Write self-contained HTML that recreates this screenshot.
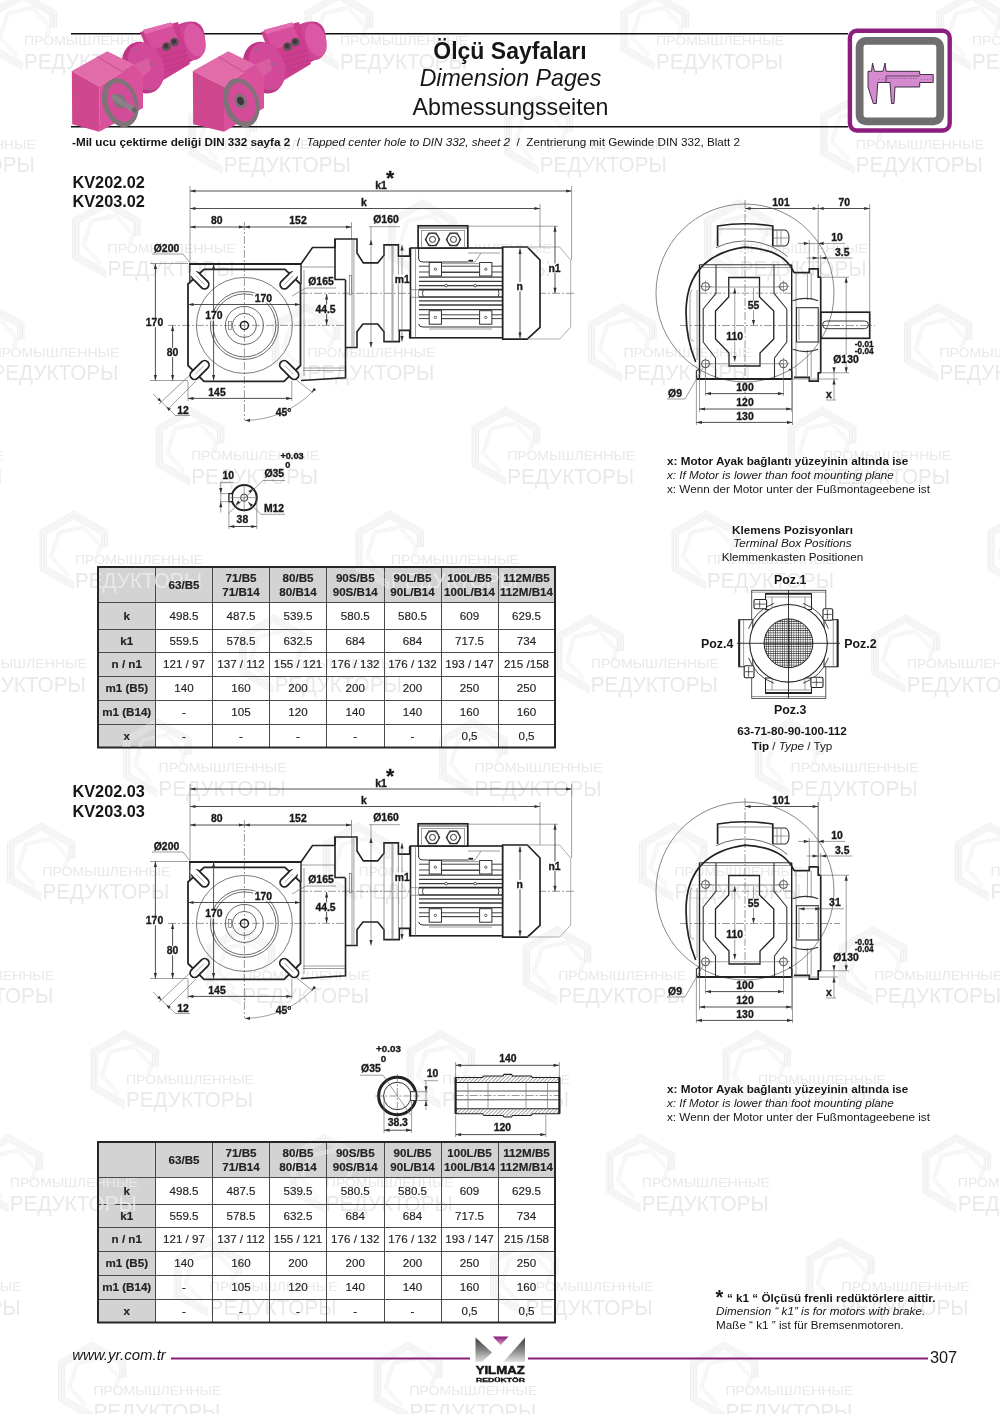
<!DOCTYPE html>
<html><head><meta charset="utf-8">
<style>
html,body{margin:0;padding:0;background:#fff;}
body{width:1000px;height:1414px;overflow:hidden;position:relative;}
svg{position:absolute;left:0;top:0;will-change:transform;}
text{font-family:"Liberation Sans",sans-serif;fill:#161616;}
.b{font-weight:bold;}
.dt{stroke:#222;stroke-width:0.35px;}
.i{font-style:italic;}
.d{font-weight:bold;font-size:10px;fill:#222;}
.ln{stroke:#3c3c3c;stroke-width:0.9;fill:none;}
.th{stroke:#222;stroke-width:2;fill:none;}
.tn{stroke:#6a6a6a;stroke-width:0.65;fill:none;}
.cl{stroke:#555;stroke-width:0.6;fill:none;stroke-dasharray:8 2 2 2;}
.tc{font-size:11.6px;text-anchor:middle;fill:#222;stroke:#222;stroke-width:0.15px;}
</style></head>
<body>
<svg width="1000" height="1414" viewBox="0 0 1000 1414">

<g><path d="M56.6 27.9 L56.6 11.5 L22.8 -8.0 L-11.0 11.5 L-11.0 50.5 L22.8 70.0M55.0 28.0 L55.0 12.4 L22.8 -6.2 L-9.4 12.4 L-9.4 49.6 L22.8 68.2M53.5 28.2 L53.5 13.3 L22.8 -4.4 L-7.9 13.3 L-7.9 48.7 L22.8 66.4M51.9 28.3 L51.9 14.2 L22.8 -2.6 L-6.3 14.2 L-6.3 47.8 L22.8 64.6M50.3 28.5 L50.3 15.1 L22.8 -0.8 L-4.7 15.1 L-4.7 46.9 L22.8 62.8" fill="none" stroke="#e8e8e8" stroke-width="0.8"/><path d="M47.7 37.2 L51.2 26.4 L33.1 6.3 L6.7 11.9 L-1.6 37.6 L16.5 57.7M46.3 36.8 L49.5 26.7 L32.6 7.9 L7.9 13.2 L0.1 37.3 L17.0 56.1M44.8 36.5 L47.9 27.1 L32.1 9.6 L9.0 14.5 L1.7 36.9 L17.5 54.4" fill="none" stroke="#ececec" stroke-width="0.7"/><text x="24.0" y="45.0" font-size="13.2" style="fill:#e9e9e9" textLength="128" lengthAdjust="spacingAndGlyphs">ПРОМЫШЛЕННЫЕ</text><text x="24.0" y="68.6" font-size="22" style="fill:#e9e9e9" textLength="127" lengthAdjust="spacingAndGlyphs">РЕДУКТОРЫ</text><path d="M372.6 27.9 L372.6 11.5 L338.8 -8.0 L305.0 11.5 L305.0 50.5 L338.8 70.0M371.0 28.0 L371.0 12.4 L338.8 -6.2 L306.6 12.4 L306.6 49.6 L338.8 68.2M369.5 28.2 L369.5 13.3 L338.8 -4.4 L308.1 13.3 L308.1 48.7 L338.8 66.4M367.9 28.3 L367.9 14.2 L338.8 -2.6 L309.7 14.2 L309.7 47.8 L338.8 64.6M366.3 28.5 L366.3 15.1 L338.8 -0.8 L311.3 15.1 L311.3 46.9 L338.8 62.8" fill="none" stroke="#e8e8e8" stroke-width="0.8"/><path d="M363.7 37.2 L367.2 26.4 L349.1 6.3 L322.7 11.9 L314.4 37.6 L332.5 57.7M362.3 36.8 L365.5 26.7 L348.6 7.9 L323.9 13.2 L316.1 37.3 L333.0 56.1M360.8 36.5 L363.9 27.1 L348.1 9.6 L325.0 14.5 L317.7 36.9 L333.5 54.4" fill="none" stroke="#ececec" stroke-width="0.7"/><text x="340.0" y="45.0" font-size="13.2" style="fill:#e9e9e9" textLength="128" lengthAdjust="spacingAndGlyphs">ПРОМЫШЛЕННЫЕ</text><text x="340.0" y="68.6" font-size="22" style="fill:#e9e9e9" textLength="127" lengthAdjust="spacingAndGlyphs">РЕДУКТОРЫ</text><path d="M688.6 27.9 L688.6 11.5 L654.8 -8.0 L621.0 11.5 L621.0 50.5 L654.8 70.0M687.0 28.0 L687.0 12.4 L654.8 -6.2 L622.6 12.4 L622.6 49.6 L654.8 68.2M685.5 28.2 L685.5 13.3 L654.8 -4.4 L624.1 13.3 L624.1 48.7 L654.8 66.4M683.9 28.3 L683.9 14.2 L654.8 -2.6 L625.7 14.2 L625.7 47.8 L654.8 64.6M682.3 28.5 L682.3 15.1 L654.8 -0.8 L627.3 15.1 L627.3 46.9 L654.8 62.8" fill="none" stroke="#e8e8e8" stroke-width="0.8"/><path d="M679.7 37.2 L683.2 26.4 L665.1 6.3 L638.7 11.9 L630.4 37.6 L648.5 57.7M678.3 36.8 L681.5 26.7 L664.6 7.9 L639.9 13.2 L632.1 37.3 L649.0 56.1M676.8 36.5 L679.9 27.1 L664.1 9.6 L641.0 14.5 L633.7 36.9 L649.5 54.4" fill="none" stroke="#ececec" stroke-width="0.7"/><text x="656.0" y="45.0" font-size="13.2" style="fill:#e9e9e9" textLength="128" lengthAdjust="spacingAndGlyphs">ПРОМЫШЛЕННЫЕ</text><text x="656.0" y="68.6" font-size="22" style="fill:#e9e9e9" textLength="127" lengthAdjust="spacingAndGlyphs">РЕДУКТОРЫ</text><path d="M1004.6 27.9 L1004.6 11.5 L970.8 -8.0 L937.0 11.5 L937.0 50.5 L970.8 70.0M1003.0 28.0 L1003.0 12.4 L970.8 -6.2 L938.6 12.4 L938.6 49.6 L970.8 68.2M1001.5 28.2 L1001.5 13.3 L970.8 -4.4 L940.1 13.3 L940.1 48.7 L970.8 66.4M999.9 28.3 L999.9 14.2 L970.8 -2.6 L941.7 14.2 L941.7 47.8 L970.8 64.6M998.3 28.5 L998.3 15.1 L970.8 -0.8 L943.3 15.1 L943.3 46.9 L970.8 62.8" fill="none" stroke="#e8e8e8" stroke-width="0.8"/><path d="M995.7 37.2 L999.2 26.4 L981.1 6.3 L954.7 11.9 L946.4 37.6 L964.5 57.7M994.3 36.8 L997.5 26.7 L980.6 7.9 L955.9 13.2 L948.1 37.3 L965.0 56.1M992.8 36.5 L995.9 27.1 L980.1 9.6 L957.0 14.5 L949.7 36.9 L965.5 54.4" fill="none" stroke="#ececec" stroke-width="0.7"/><text x="972.0" y="45.0" font-size="13.2" style="fill:#e9e9e9" textLength="128" lengthAdjust="spacingAndGlyphs">ПРОМЫШЛЕННЫЕ</text><text x="972.0" y="68.6" font-size="22" style="fill:#e9e9e9" textLength="127" lengthAdjust="spacingAndGlyphs">РЕДУКТОРЫ</text><path d="M-59.6 131.7 L-59.6 115.3 L-93.4 95.8 L-127.2 115.3 L-127.2 154.3 L-93.4 173.8M-61.2 131.9 L-61.2 116.2 L-93.4 97.6 L-125.6 116.2 L-125.6 153.4 L-93.4 172.1M-62.7 132.0 L-62.7 117.2 L-93.4 99.4 L-124.1 117.2 L-124.1 152.5 L-93.4 170.2M-64.3 132.2 L-64.3 118.0 L-93.4 101.2 L-122.5 118.0 L-122.5 151.6 L-93.4 168.4M-65.9 132.3 L-65.9 118.9 L-93.4 103.0 L-120.9 118.9 L-120.9 150.8 L-93.4 166.7" fill="none" stroke="#e8e8e8" stroke-width="0.8"/><path d="M-68.5 141.0 L-65.0 130.2 L-83.1 110.2 L-109.5 115.8 L-117.8 141.5 L-99.7 161.5M-69.9 140.7 L-66.7 130.6 L-83.6 111.8 L-108.3 117.0 L-116.1 141.1 L-99.2 159.9M-71.4 140.4 L-68.3 130.9 L-84.1 113.4 L-107.2 118.3 L-114.5 140.8 L-98.7 158.3" fill="none" stroke="#ececec" stroke-width="0.7"/><text x="-92.2" y="148.8" font-size="13.2" style="fill:#e9e9e9" textLength="128" lengthAdjust="spacingAndGlyphs">ПРОМЫШЛЕННЫЕ</text><text x="-92.2" y="172.4" font-size="22" style="fill:#e9e9e9" textLength="127" lengthAdjust="spacingAndGlyphs">РЕДУКТОРЫ</text><path d="M256.4 131.7 L256.4 115.3 L222.6 95.8 L188.8 115.3 L188.8 154.3 L222.6 173.8M254.8 131.9 L254.8 116.2 L222.6 97.6 L190.4 116.2 L190.4 153.4 L222.6 172.1M253.3 132.0 L253.3 117.2 L222.6 99.4 L191.9 117.2 L191.9 152.5 L222.6 170.2M251.7 132.2 L251.7 118.0 L222.6 101.2 L193.5 118.0 L193.5 151.6 L222.6 168.4M250.1 132.3 L250.1 118.9 L222.6 103.0 L195.1 118.9 L195.1 150.8 L222.6 166.7" fill="none" stroke="#e8e8e8" stroke-width="0.8"/><path d="M247.5 141.0 L251.0 130.2 L232.9 110.2 L206.5 115.8 L198.2 141.5 L216.3 161.5M246.1 140.7 L249.3 130.6 L232.4 111.8 L207.7 117.0 L199.9 141.1 L216.8 159.9M244.6 140.4 L247.7 130.9 L231.9 113.4 L208.8 118.3 L201.5 140.8 L217.3 158.3" fill="none" stroke="#ececec" stroke-width="0.7"/><text x="223.8" y="148.8" font-size="13.2" style="fill:#e9e9e9" textLength="128" lengthAdjust="spacingAndGlyphs">ПРОМЫШЛЕННЫЕ</text><text x="223.8" y="172.4" font-size="22" style="fill:#e9e9e9" textLength="127" lengthAdjust="spacingAndGlyphs">РЕДУКТОРЫ</text><path d="M572.4 131.7 L572.4 115.3 L538.6 95.8 L504.8 115.3 L504.8 154.3 L538.6 173.8M570.8 131.9 L570.8 116.2 L538.6 97.6 L506.4 116.2 L506.4 153.4 L538.6 172.1M569.3 132.0 L569.3 117.2 L538.6 99.4 L507.9 117.2 L507.9 152.5 L538.6 170.2M567.7 132.2 L567.7 118.0 L538.6 101.2 L509.5 118.0 L509.5 151.6 L538.6 168.4M566.1 132.3 L566.1 118.9 L538.6 103.0 L511.1 118.9 L511.1 150.8 L538.6 166.7" fill="none" stroke="#e8e8e8" stroke-width="0.8"/><path d="M563.5 141.0 L567.0 130.2 L548.9 110.2 L522.5 115.8 L514.2 141.5 L532.3 161.5M562.1 140.7 L565.3 130.6 L548.4 111.8 L523.7 117.0 L515.9 141.1 L532.8 159.9M560.6 140.4 L563.7 130.9 L547.9 113.4 L524.8 118.3 L517.5 140.8 L533.3 158.3" fill="none" stroke="#ececec" stroke-width="0.7"/><text x="539.8" y="148.8" font-size="13.2" style="fill:#e9e9e9" textLength="128" lengthAdjust="spacingAndGlyphs">ПРОМЫШЛЕННЫЕ</text><text x="539.8" y="172.4" font-size="22" style="fill:#e9e9e9" textLength="127" lengthAdjust="spacingAndGlyphs">РЕДУКТОРЫ</text><path d="M888.4 131.7 L888.4 115.3 L854.6 95.8 L820.8 115.3 L820.8 154.3 L854.6 173.8M886.8 131.9 L886.8 116.2 L854.6 97.6 L822.4 116.2 L822.4 153.4 L854.6 172.1M885.3 132.0 L885.3 117.2 L854.6 99.4 L823.9 117.2 L823.9 152.5 L854.6 170.2M883.7 132.2 L883.7 118.0 L854.6 101.2 L825.5 118.0 L825.5 151.6 L854.6 168.4M882.1 132.3 L882.1 118.9 L854.6 103.0 L827.1 118.9 L827.1 150.8 L854.6 166.7" fill="none" stroke="#e8e8e8" stroke-width="0.8"/><path d="M879.5 141.0 L883.0 130.2 L864.9 110.2 L838.5 115.8 L830.2 141.5 L848.3 161.5M878.1 140.7 L881.3 130.6 L864.4 111.8 L839.7 117.0 L831.9 141.1 L848.8 159.9M876.6 140.4 L879.7 130.9 L863.9 113.4 L840.8 118.3 L833.5 140.8 L849.3 158.3" fill="none" stroke="#ececec" stroke-width="0.7"/><text x="855.8" y="148.8" font-size="13.2" style="fill:#e9e9e9" textLength="128" lengthAdjust="spacingAndGlyphs">ПРОМЫШЛЕННЫЕ</text><text x="855.8" y="172.4" font-size="22" style="fill:#e9e9e9" textLength="127" lengthAdjust="spacingAndGlyphs">РЕДУКТОРЫ</text><path d="M140.2 235.6 L140.2 219.2 L106.4 199.7 L72.6 219.2 L72.6 258.2 L106.4 277.7M138.6 235.7 L138.6 220.1 L106.4 201.5 L74.2 220.1 L74.2 257.3 L106.4 275.9M137.1 235.9 L137.1 221.0 L106.4 203.3 L75.7 221.0 L75.7 256.4 L106.4 274.1M135.5 236.0 L135.5 221.9 L106.4 205.1 L77.3 221.9 L77.3 255.5 L106.4 272.3M133.9 236.2 L133.9 222.8 L106.4 206.9 L78.9 222.8 L78.9 254.6 L106.4 270.5" fill="none" stroke="#e8e8e8" stroke-width="0.8"/><path d="M131.3 244.9 L134.8 234.1 L116.7 214.0 L90.3 219.6 L82.0 245.3 L100.1 265.4M129.9 244.5 L133.1 234.4 L116.2 215.6 L91.5 220.9 L83.7 245.0 L100.6 263.8M128.4 244.2 L131.5 234.8 L115.7 217.3 L92.6 222.2 L85.3 244.6 L101.1 262.1" fill="none" stroke="#ececec" stroke-width="0.7"/><text x="107.6" y="252.7" font-size="13.2" style="fill:#e9e9e9" textLength="128" lengthAdjust="spacingAndGlyphs">ПРОМЫШЛЕННЫЕ</text><text x="107.6" y="276.3" font-size="22" style="fill:#e9e9e9" textLength="127" lengthAdjust="spacingAndGlyphs">РЕДУКТОРЫ</text><path d="M456.2 235.6 L456.2 219.2 L422.4 199.7 L388.6 219.2 L388.6 258.2 L422.4 277.7M454.6 235.7 L454.6 220.1 L422.4 201.5 L390.2 220.1 L390.2 257.3 L422.4 275.9M453.1 235.9 L453.1 221.0 L422.4 203.3 L391.7 221.0 L391.7 256.4 L422.4 274.1M451.5 236.0 L451.5 221.9 L422.4 205.1 L393.3 221.9 L393.3 255.5 L422.4 272.3M449.9 236.2 L449.9 222.8 L422.4 206.9 L394.9 222.8 L394.9 254.6 L422.4 270.5" fill="none" stroke="#e8e8e8" stroke-width="0.8"/><path d="M447.3 244.9 L450.8 234.1 L432.7 214.0 L406.3 219.6 L398.0 245.3 L416.1 265.4M445.9 244.5 L449.1 234.4 L432.2 215.6 L407.5 220.9 L399.7 245.0 L416.6 263.8M444.4 244.2 L447.5 234.8 L431.7 217.3 L408.6 222.2 L401.3 244.6 L417.1 262.1" fill="none" stroke="#ececec" stroke-width="0.7"/><text x="423.6" y="252.7" font-size="13.2" style="fill:#e9e9e9" textLength="128" lengthAdjust="spacingAndGlyphs">ПРОМЫШЛЕННЫЕ</text><text x="423.6" y="276.3" font-size="22" style="fill:#e9e9e9" textLength="127" lengthAdjust="spacingAndGlyphs">РЕДУКТОРЫ</text><path d="M772.2 235.6 L772.2 219.2 L738.4 199.7 L704.6 219.2 L704.6 258.2 L738.4 277.7M770.6 235.7 L770.6 220.1 L738.4 201.5 L706.2 220.1 L706.2 257.3 L738.4 275.9M769.1 235.9 L769.1 221.0 L738.4 203.3 L707.7 221.0 L707.7 256.4 L738.4 274.1M767.5 236.0 L767.5 221.9 L738.4 205.1 L709.3 221.9 L709.3 255.5 L738.4 272.3M765.9 236.2 L765.9 222.8 L738.4 206.9 L710.9 222.8 L710.9 254.6 L738.4 270.5" fill="none" stroke="#e8e8e8" stroke-width="0.8"/><path d="M763.3 244.9 L766.8 234.1 L748.7 214.0 L722.3 219.6 L714.0 245.3 L732.1 265.4M761.9 244.5 L765.1 234.4 L748.2 215.6 L723.5 220.9 L715.7 245.0 L732.6 263.8M760.4 244.2 L763.5 234.8 L747.7 217.3 L724.6 222.2 L717.3 244.6 L733.1 262.1" fill="none" stroke="#ececec" stroke-width="0.7"/><text x="739.6" y="252.7" font-size="13.2" style="fill:#e9e9e9" textLength="128" lengthAdjust="spacingAndGlyphs">ПРОМЫШЛЕННЫЕ</text><text x="739.6" y="276.3" font-size="22" style="fill:#e9e9e9" textLength="127" lengthAdjust="spacingAndGlyphs">РЕДУКТОРЫ</text><path d="M24.0 339.4 L24.0 323.0 L-9.8 303.5 L-43.6 323.0 L-43.6 362.0 L-9.8 381.5M22.4 339.6 L22.4 323.9 L-9.8 305.3 L-42.0 323.9 L-42.0 361.1 L-9.8 379.7M20.9 339.7 L20.9 324.8 L-9.8 307.1 L-40.5 324.8 L-40.5 360.2 L-9.8 377.9M19.3 339.9 L19.3 325.7 L-9.8 308.9 L-38.9 325.7 L-38.9 359.3 L-9.8 376.1M17.7 340.0 L17.7 326.6 L-9.8 310.7 L-37.3 326.6 L-37.3 358.4 L-9.8 374.3" fill="none" stroke="#e8e8e8" stroke-width="0.8"/><path d="M15.1 348.7 L18.6 337.9 L0.5 317.9 L-25.9 323.5 L-34.2 349.2 L-16.1 369.2M13.7 348.4 L16.9 338.3 L0.0 319.5 L-24.7 324.7 L-32.5 348.8 L-15.6 367.6M12.2 348.1 L15.3 338.6 L-0.5 321.1 L-23.6 326.0 L-30.9 348.5 L-15.1 366.0" fill="none" stroke="#ececec" stroke-width="0.7"/><text x="-8.6" y="356.5" font-size="13.2" style="fill:#e9e9e9" textLength="128" lengthAdjust="spacingAndGlyphs">ПРОМЫШЛЕННЫЕ</text><text x="-8.6" y="380.1" font-size="22" style="fill:#e9e9e9" textLength="127" lengthAdjust="spacingAndGlyphs">РЕДУКТОРЫ</text><path d="M340.0 339.4 L340.0 323.0 L306.2 303.5 L272.4 323.0 L272.4 362.0 L306.2 381.5M338.4 339.6 L338.4 323.9 L306.2 305.3 L274.0 323.9 L274.0 361.1 L306.2 379.7M336.9 339.7 L336.9 324.8 L306.2 307.1 L275.5 324.8 L275.5 360.2 L306.2 377.9M335.3 339.9 L335.3 325.7 L306.2 308.9 L277.1 325.7 L277.1 359.3 L306.2 376.1M333.7 340.0 L333.7 326.6 L306.2 310.7 L278.7 326.6 L278.7 358.4 L306.2 374.3" fill="none" stroke="#e8e8e8" stroke-width="0.8"/><path d="M331.1 348.7 L334.6 337.9 L316.5 317.9 L290.1 323.5 L281.8 349.2 L299.9 369.2M329.7 348.4 L332.9 338.3 L316.0 319.5 L291.3 324.7 L283.5 348.8 L300.4 367.6M328.2 348.1 L331.3 338.6 L315.5 321.1 L292.4 326.0 L285.1 348.5 L300.9 366.0" fill="none" stroke="#ececec" stroke-width="0.7"/><text x="307.4" y="356.5" font-size="13.2" style="fill:#e9e9e9" textLength="128" lengthAdjust="spacingAndGlyphs">ПРОМЫШЛЕННЫЕ</text><text x="307.4" y="380.1" font-size="22" style="fill:#e9e9e9" textLength="127" lengthAdjust="spacingAndGlyphs">РЕДУКТОРЫ</text><path d="M656.0 339.4 L656.0 323.0 L622.2 303.5 L588.4 323.0 L588.4 362.0 L622.2 381.5M654.4 339.6 L654.4 323.9 L622.2 305.3 L590.0 323.9 L590.0 361.1 L622.2 379.7M652.9 339.7 L652.9 324.8 L622.2 307.1 L591.5 324.8 L591.5 360.2 L622.2 377.9M651.3 339.9 L651.3 325.7 L622.2 308.9 L593.1 325.7 L593.1 359.3 L622.2 376.1M649.7 340.0 L649.7 326.6 L622.2 310.7 L594.7 326.6 L594.7 358.4 L622.2 374.3" fill="none" stroke="#e8e8e8" stroke-width="0.8"/><path d="M647.1 348.7 L650.6 337.9 L632.5 317.9 L606.1 323.5 L597.8 349.2 L615.9 369.2M645.7 348.4 L648.9 338.3 L632.0 319.5 L607.3 324.7 L599.5 348.8 L616.4 367.6M644.2 348.1 L647.3 338.6 L631.5 321.1 L608.4 326.0 L601.1 348.5 L616.9 366.0" fill="none" stroke="#ececec" stroke-width="0.7"/><text x="623.4" y="356.5" font-size="13.2" style="fill:#e9e9e9" textLength="128" lengthAdjust="spacingAndGlyphs">ПРОМЫШЛЕННЫЕ</text><text x="623.4" y="380.1" font-size="22" style="fill:#e9e9e9" textLength="127" lengthAdjust="spacingAndGlyphs">РЕДУКТОРЫ</text><path d="M972.0 339.4 L972.0 323.0 L938.2 303.5 L904.4 323.0 L904.4 362.0 L938.2 381.5M970.4 339.6 L970.4 323.9 L938.2 305.3 L906.0 323.9 L906.0 361.1 L938.2 379.7M968.9 339.7 L968.9 324.8 L938.2 307.1 L907.5 324.8 L907.5 360.2 L938.2 377.9M967.3 339.9 L967.3 325.7 L938.2 308.9 L909.1 325.7 L909.1 359.3 L938.2 376.1M965.7 340.0 L965.7 326.6 L938.2 310.7 L910.7 326.6 L910.7 358.4 L938.2 374.3" fill="none" stroke="#e8e8e8" stroke-width="0.8"/><path d="M963.1 348.7 L966.6 337.9 L948.5 317.9 L922.1 323.5 L913.8 349.2 L931.9 369.2M961.7 348.4 L964.9 338.3 L948.0 319.5 L923.3 324.7 L915.5 348.8 L932.4 367.6M960.2 348.1 L963.3 338.6 L947.5 321.1 L924.4 326.0 L917.1 348.5 L932.9 366.0" fill="none" stroke="#ececec" stroke-width="0.7"/><text x="939.4" y="356.5" font-size="13.2" style="fill:#e9e9e9" textLength="128" lengthAdjust="spacingAndGlyphs">ПРОМЫШЛЕННЫЕ</text><text x="939.4" y="380.1" font-size="22" style="fill:#e9e9e9" textLength="127" lengthAdjust="spacingAndGlyphs">РЕДУКТОРЫ</text><path d="M-92.2 443.3 L-92.2 426.9 L-126.0 407.4 L-159.8 426.9 L-159.8 465.9 L-126.0 485.4M-93.8 443.4 L-93.8 427.8 L-126.0 409.2 L-158.2 427.8 L-158.2 465.0 L-126.0 483.6M-95.3 443.6 L-95.3 428.7 L-126.0 411.0 L-156.7 428.7 L-156.7 464.1 L-126.0 481.8M-96.9 443.7 L-96.9 429.6 L-126.0 412.8 L-155.1 429.6 L-155.1 463.2 L-126.0 480.0M-98.5 443.9 L-98.5 430.5 L-126.0 414.6 L-153.5 430.5 L-153.5 462.3 L-126.0 478.2" fill="none" stroke="#e8e8e8" stroke-width="0.8"/><path d="M-101.1 452.6 L-97.6 441.8 L-115.7 421.7 L-142.1 427.3 L-150.4 453.0 L-132.3 473.1M-102.5 452.2 L-99.3 442.1 L-116.2 423.3 L-140.9 428.6 L-148.7 452.7 L-131.8 471.5M-104.0 451.9 L-100.9 442.5 L-116.7 425.0 L-139.8 429.9 L-147.1 452.3 L-131.3 469.8" fill="none" stroke="#ececec" stroke-width="0.7"/><text x="-124.8" y="460.4" font-size="13.2" style="fill:#e9e9e9" textLength="128" lengthAdjust="spacingAndGlyphs">ПРОМЫШЛЕННЫЕ</text><text x="-124.8" y="484.0" font-size="22" style="fill:#e9e9e9" textLength="127" lengthAdjust="spacingAndGlyphs">РЕДУКТОРЫ</text><path d="M223.8 443.3 L223.8 426.9 L190.0 407.4 L156.2 426.9 L156.2 465.9 L190.0 485.4M222.2 443.4 L222.2 427.8 L190.0 409.2 L157.8 427.8 L157.8 465.0 L190.0 483.6M220.7 443.6 L220.7 428.7 L190.0 411.0 L159.3 428.7 L159.3 464.1 L190.0 481.8M219.1 443.7 L219.1 429.6 L190.0 412.8 L160.9 429.6 L160.9 463.2 L190.0 480.0M217.5 443.9 L217.5 430.5 L190.0 414.6 L162.5 430.5 L162.5 462.3 L190.0 478.2" fill="none" stroke="#e8e8e8" stroke-width="0.8"/><path d="M214.9 452.6 L218.4 441.8 L200.3 421.7 L173.9 427.3 L165.6 453.0 L183.7 473.1M213.5 452.2 L216.7 442.1 L199.8 423.3 L175.1 428.6 L167.3 452.7 L184.2 471.5M212.0 451.9 L215.1 442.5 L199.3 425.0 L176.2 429.9 L168.9 452.3 L184.7 469.8" fill="none" stroke="#ececec" stroke-width="0.7"/><text x="191.2" y="460.4" font-size="13.2" style="fill:#e9e9e9" textLength="128" lengthAdjust="spacingAndGlyphs">ПРОМЫШЛЕННЫЕ</text><text x="191.2" y="484.0" font-size="22" style="fill:#e9e9e9" textLength="127" lengthAdjust="spacingAndGlyphs">РЕДУКТОРЫ</text><path d="M539.8 443.3 L539.8 426.9 L506.0 407.4 L472.2 426.9 L472.2 465.9 L506.0 485.4M538.2 443.4 L538.2 427.8 L506.0 409.2 L473.8 427.8 L473.8 465.0 L506.0 483.6M536.7 443.6 L536.7 428.7 L506.0 411.0 L475.3 428.7 L475.3 464.1 L506.0 481.8M535.1 443.7 L535.1 429.6 L506.0 412.8 L476.9 429.6 L476.9 463.2 L506.0 480.0M533.5 443.9 L533.5 430.5 L506.0 414.6 L478.5 430.5 L478.5 462.3 L506.0 478.2" fill="none" stroke="#e8e8e8" stroke-width="0.8"/><path d="M530.9 452.6 L534.4 441.8 L516.3 421.7 L489.9 427.3 L481.6 453.0 L499.7 473.1M529.5 452.2 L532.7 442.1 L515.8 423.3 L491.1 428.6 L483.3 452.7 L500.2 471.5M528.0 451.9 L531.1 442.5 L515.3 425.0 L492.2 429.9 L484.9 452.3 L500.7 469.8" fill="none" stroke="#ececec" stroke-width="0.7"/><text x="507.2" y="460.4" font-size="13.2" style="fill:#e9e9e9" textLength="128" lengthAdjust="spacingAndGlyphs">ПРОМЫШЛЕННЫЕ</text><text x="507.2" y="484.0" font-size="22" style="fill:#e9e9e9" textLength="127" lengthAdjust="spacingAndGlyphs">РЕДУКТОРЫ</text><path d="M855.8 443.3 L855.8 426.9 L822.0 407.4 L788.2 426.9 L788.2 465.9 L822.0 485.4M854.2 443.4 L854.2 427.8 L822.0 409.2 L789.8 427.8 L789.8 465.0 L822.0 483.6M852.7 443.6 L852.7 428.7 L822.0 411.0 L791.3 428.7 L791.3 464.1 L822.0 481.8M851.1 443.7 L851.1 429.6 L822.0 412.8 L792.9 429.6 L792.9 463.2 L822.0 480.0M849.5 443.9 L849.5 430.5 L822.0 414.6 L794.5 430.5 L794.5 462.3 L822.0 478.2" fill="none" stroke="#e8e8e8" stroke-width="0.8"/><path d="M846.9 452.6 L850.4 441.8 L832.3 421.7 L805.9 427.3 L797.6 453.0 L815.7 473.1M845.5 452.2 L848.7 442.1 L831.8 423.3 L807.1 428.6 L799.3 452.7 L816.2 471.5M844.0 451.9 L847.1 442.5 L831.3 425.0 L808.2 429.9 L800.9 452.3 L816.7 469.8" fill="none" stroke="#ececec" stroke-width="0.7"/><text x="823.2" y="460.4" font-size="13.2" style="fill:#e9e9e9" textLength="128" lengthAdjust="spacingAndGlyphs">ПРОМЫШЛЕННЫЕ</text><text x="823.2" y="484.0" font-size="22" style="fill:#e9e9e9" textLength="127" lengthAdjust="spacingAndGlyphs">РЕДУКТОРЫ</text><path d="M107.6 547.1 L107.6 530.8 L73.8 511.2 L40.0 530.8 L40.0 569.8 L73.8 589.2M106.0 547.3 L106.0 531.6 L73.8 513.0 L41.6 531.6 L41.6 568.9 L73.8 587.5M104.5 547.4 L104.5 532.5 L73.8 514.9 L43.1 532.5 L43.1 568.0 L73.8 585.6M102.9 547.6 L102.9 533.5 L73.8 516.6 L44.7 533.5 L44.7 567.0 L73.8 583.9M101.3 547.7 L101.3 534.4 L73.8 518.5 L46.3 534.4 L46.3 566.1 L73.8 582.0" fill="none" stroke="#e8e8e8" stroke-width="0.8"/><path d="M98.7 556.4 L102.2 545.6 L84.1 525.6 L57.7 531.2 L49.4 556.9 L67.5 576.9M97.3 556.1 L100.5 546.0 L83.6 527.2 L58.9 532.4 L51.1 556.5 L68.0 575.3M95.8 555.8 L98.9 546.3 L83.1 528.8 L60.0 533.7 L52.7 556.2 L68.5 573.7" fill="none" stroke="#ececec" stroke-width="0.7"/><text x="75.0" y="564.2" font-size="13.2" style="fill:#e9e9e9" textLength="128" lengthAdjust="spacingAndGlyphs">ПРОМЫШЛЕННЫЕ</text><text x="75.0" y="587.9" font-size="22" style="fill:#e9e9e9" textLength="127" lengthAdjust="spacingAndGlyphs">РЕДУКТОРЫ</text><path d="M423.6 547.1 L423.6 530.8 L389.8 511.2 L356.0 530.8 L356.0 569.8 L389.8 589.2M422.0 547.3 L422.0 531.6 L389.8 513.0 L357.6 531.6 L357.6 568.9 L389.8 587.5M420.5 547.4 L420.5 532.5 L389.8 514.9 L359.1 532.5 L359.1 568.0 L389.8 585.6M418.9 547.6 L418.9 533.5 L389.8 516.6 L360.7 533.5 L360.7 567.0 L389.8 583.9M417.3 547.7 L417.3 534.4 L389.8 518.5 L362.3 534.4 L362.3 566.1 L389.8 582.0" fill="none" stroke="#e8e8e8" stroke-width="0.8"/><path d="M414.7 556.4 L418.2 545.6 L400.1 525.6 L373.7 531.2 L365.4 556.9 L383.5 576.9M413.3 556.1 L416.5 546.0 L399.6 527.2 L374.9 532.4 L367.1 556.5 L384.0 575.3M411.8 555.8 L414.9 546.3 L399.1 528.8 L376.0 533.7 L368.7 556.2 L384.5 573.7" fill="none" stroke="#ececec" stroke-width="0.7"/><text x="391.0" y="564.2" font-size="13.2" style="fill:#e9e9e9" textLength="128" lengthAdjust="spacingAndGlyphs">ПРОМЫШЛЕННЫЕ</text><text x="391.0" y="587.9" font-size="22" style="fill:#e9e9e9" textLength="127" lengthAdjust="spacingAndGlyphs">РЕДУКТОРЫ</text><path d="M739.6 547.1 L739.6 530.8 L705.8 511.2 L672.0 530.8 L672.0 569.8 L705.8 589.2M738.0 547.3 L738.0 531.6 L705.8 513.0 L673.6 531.6 L673.6 568.9 L705.8 587.5M736.5 547.4 L736.5 532.5 L705.8 514.9 L675.1 532.5 L675.1 568.0 L705.8 585.6M734.9 547.6 L734.9 533.5 L705.8 516.6 L676.7 533.5 L676.7 567.0 L705.8 583.9M733.3 547.7 L733.3 534.4 L705.8 518.5 L678.3 534.4 L678.3 566.1 L705.8 582.0" fill="none" stroke="#e8e8e8" stroke-width="0.8"/><path d="M730.7 556.4 L734.2 545.6 L716.1 525.6 L689.7 531.2 L681.4 556.9 L699.5 576.9M729.3 556.1 L732.5 546.0 L715.6 527.2 L690.9 532.4 L683.1 556.5 L700.0 575.3M727.8 555.8 L730.9 546.3 L715.1 528.8 L692.0 533.7 L684.7 556.2 L700.5 573.7" fill="none" stroke="#ececec" stroke-width="0.7"/><text x="707.0" y="564.2" font-size="13.2" style="fill:#e9e9e9" textLength="128" lengthAdjust="spacingAndGlyphs">ПРОМЫШЛЕННЫЕ</text><text x="707.0" y="587.9" font-size="22" style="fill:#e9e9e9" textLength="127" lengthAdjust="spacingAndGlyphs">РЕДУКТОРЫ</text><path d="M1055.6 547.1 L1055.6 530.8 L1021.8 511.2 L988.0 530.8 L988.0 569.8 L1021.8 589.2M1054.0 547.3 L1054.0 531.6 L1021.8 513.0 L989.6 531.6 L989.6 568.9 L1021.8 587.5M1052.5 547.4 L1052.5 532.5 L1021.8 514.9 L991.1 532.5 L991.1 568.0 L1021.8 585.6M1050.9 547.6 L1050.9 533.5 L1021.8 516.6 L992.7 533.5 L992.7 567.0 L1021.8 583.9M1049.3 547.7 L1049.3 534.4 L1021.8 518.5 L994.3 534.4 L994.3 566.1 L1021.8 582.0" fill="none" stroke="#e8e8e8" stroke-width="0.8"/><path d="M1046.7 556.4 L1050.2 545.6 L1032.1 525.6 L1005.7 531.2 L997.4 556.9 L1015.5 576.9M1045.3 556.1 L1048.5 546.0 L1031.6 527.2 L1006.9 532.4 L999.1 556.5 L1016.0 575.3M1043.8 555.8 L1046.9 546.3 L1031.1 528.8 L1008.0 533.7 L1000.7 556.2 L1016.5 573.7" fill="none" stroke="#ececec" stroke-width="0.7"/><text x="1023.0" y="564.2" font-size="13.2" style="fill:#e9e9e9" textLength="128" lengthAdjust="spacingAndGlyphs">ПРОМЫШЛЕННЫЕ</text><text x="1023.0" y="587.9" font-size="22" style="fill:#e9e9e9" textLength="127" lengthAdjust="spacingAndGlyphs">РЕДУКТОРЫ</text><path d="M-8.6 651.0 L-8.6 634.6 L-42.4 615.1 L-76.2 634.6 L-76.2 673.6 L-42.4 693.1M-10.2 651.1 L-10.2 635.5 L-42.4 616.9 L-74.6 635.5 L-74.6 672.7 L-42.4 691.3M-11.7 651.3 L-11.7 636.4 L-42.4 618.7 L-73.1 636.4 L-73.1 671.8 L-42.4 689.5M-13.3 651.4 L-13.3 637.3 L-42.4 620.5 L-71.5 637.3 L-71.5 670.9 L-42.4 687.7M-14.9 651.6 L-14.9 638.2 L-42.4 622.3 L-69.9 638.2 L-69.9 670.0 L-42.4 685.9" fill="none" stroke="#e8e8e8" stroke-width="0.8"/><path d="M-17.5 660.3 L-14.0 649.5 L-32.1 629.4 L-58.5 635.0 L-66.8 660.7 L-48.7 680.8M-18.9 659.9 L-15.7 649.8 L-32.6 631.0 L-57.3 636.3 L-65.1 660.4 L-48.2 679.2M-20.4 659.6 L-17.3 650.2 L-33.1 632.7 L-56.2 637.6 L-63.5 660.0 L-47.7 677.5" fill="none" stroke="#ececec" stroke-width="0.7"/><text x="-41.2" y="668.1" font-size="13.2" style="fill:#e9e9e9" textLength="128" lengthAdjust="spacingAndGlyphs">ПРОМЫШЛЕННЫЕ</text><text x="-41.2" y="691.7" font-size="22" style="fill:#e9e9e9" textLength="127" lengthAdjust="spacingAndGlyphs">РЕДУКТОРЫ</text><path d="M307.4 651.0 L307.4 634.6 L273.6 615.1 L239.8 634.6 L239.8 673.6 L273.6 693.1M305.8 651.1 L305.8 635.5 L273.6 616.9 L241.4 635.5 L241.4 672.7 L273.6 691.3M304.3 651.3 L304.3 636.4 L273.6 618.7 L242.9 636.4 L242.9 671.8 L273.6 689.5M302.7 651.4 L302.7 637.3 L273.6 620.5 L244.5 637.3 L244.5 670.9 L273.6 687.7M301.1 651.6 L301.1 638.2 L273.6 622.3 L246.1 638.2 L246.1 670.0 L273.6 685.9" fill="none" stroke="#e8e8e8" stroke-width="0.8"/><path d="M298.5 660.3 L302.0 649.5 L283.9 629.4 L257.5 635.0 L249.2 660.7 L267.3 680.8M297.1 659.9 L300.3 649.8 L283.4 631.0 L258.7 636.3 L250.9 660.4 L267.8 679.2M295.6 659.6 L298.7 650.2 L282.9 632.7 L259.8 637.6 L252.5 660.0 L268.3 677.5" fill="none" stroke="#ececec" stroke-width="0.7"/><text x="274.8" y="668.1" font-size="13.2" style="fill:#e9e9e9" textLength="128" lengthAdjust="spacingAndGlyphs">ПРОМЫШЛЕННЫЕ</text><text x="274.8" y="691.7" font-size="22" style="fill:#e9e9e9" textLength="127" lengthAdjust="spacingAndGlyphs">РЕДУКТОРЫ</text><path d="M623.4 651.0 L623.4 634.6 L589.6 615.1 L555.8 634.6 L555.8 673.6 L589.6 693.1M621.8 651.1 L621.8 635.5 L589.6 616.9 L557.4 635.5 L557.4 672.7 L589.6 691.3M620.3 651.3 L620.3 636.4 L589.6 618.7 L558.9 636.4 L558.9 671.8 L589.6 689.5M618.7 651.4 L618.7 637.3 L589.6 620.5 L560.5 637.3 L560.5 670.9 L589.6 687.7M617.1 651.6 L617.1 638.2 L589.6 622.3 L562.1 638.2 L562.1 670.0 L589.6 685.9" fill="none" stroke="#e8e8e8" stroke-width="0.8"/><path d="M614.5 660.3 L618.0 649.5 L599.9 629.4 L573.5 635.0 L565.2 660.7 L583.3 680.8M613.1 659.9 L616.3 649.8 L599.4 631.0 L574.7 636.3 L566.9 660.4 L583.8 679.2M611.6 659.6 L614.7 650.2 L598.9 632.7 L575.8 637.6 L568.5 660.0 L584.3 677.5" fill="none" stroke="#ececec" stroke-width="0.7"/><text x="590.8" y="668.1" font-size="13.2" style="fill:#e9e9e9" textLength="128" lengthAdjust="spacingAndGlyphs">ПРОМЫШЛЕННЫЕ</text><text x="590.8" y="691.7" font-size="22" style="fill:#e9e9e9" textLength="127" lengthAdjust="spacingAndGlyphs">РЕДУКТОРЫ</text><path d="M939.4 651.0 L939.4 634.6 L905.6 615.1 L871.8 634.6 L871.8 673.6 L905.6 693.1M937.8 651.1 L937.8 635.5 L905.6 616.9 L873.4 635.5 L873.4 672.7 L905.6 691.3M936.3 651.3 L936.3 636.4 L905.6 618.7 L874.9 636.4 L874.9 671.8 L905.6 689.5M934.7 651.4 L934.7 637.3 L905.6 620.5 L876.5 637.3 L876.5 670.9 L905.6 687.7M933.1 651.6 L933.1 638.2 L905.6 622.3 L878.1 638.2 L878.1 670.0 L905.6 685.9" fill="none" stroke="#e8e8e8" stroke-width="0.8"/><path d="M930.5 660.3 L934.0 649.5 L915.9 629.4 L889.5 635.0 L881.2 660.7 L899.3 680.8M929.1 659.9 L932.3 649.8 L915.4 631.0 L890.7 636.3 L882.9 660.4 L899.8 679.2M927.6 659.6 L930.7 650.2 L914.9 632.7 L891.8 637.6 L884.5 660.0 L900.3 677.5" fill="none" stroke="#ececec" stroke-width="0.7"/><text x="906.8" y="668.1" font-size="13.2" style="fill:#e9e9e9" textLength="128" lengthAdjust="spacingAndGlyphs">ПРОМЫШЛЕННЫЕ</text><text x="906.8" y="691.7" font-size="22" style="fill:#e9e9e9" textLength="127" lengthAdjust="spacingAndGlyphs">РЕДУКТОРЫ</text><path d="M-124.8 754.8 L-124.8 738.4 L-158.6 718.9 L-192.4 738.4 L-192.4 777.4 L-158.6 796.9M-126.4 755.0 L-126.4 739.3 L-158.6 720.7 L-190.8 739.3 L-190.8 776.5 L-158.6 795.1M-127.9 755.1 L-127.9 740.2 L-158.6 722.5 L-189.3 740.2 L-189.3 775.6 L-158.6 793.3M-129.5 755.3 L-129.5 741.1 L-158.6 724.3 L-187.7 741.1 L-187.7 774.7 L-158.6 791.5M-131.1 755.4 L-131.1 742.0 L-158.6 726.1 L-186.1 742.0 L-186.1 773.8 L-158.6 789.7" fill="none" stroke="#e8e8e8" stroke-width="0.8"/><path d="M-133.7 764.1 L-130.2 753.3 L-148.3 733.3 L-174.7 738.9 L-183.0 764.6 L-164.9 784.6M-135.1 763.8 L-131.9 753.7 L-148.8 734.9 L-173.5 740.1 L-181.3 764.2 L-164.4 783.0M-136.6 763.5 L-133.5 754.0 L-149.3 736.5 L-172.4 741.4 L-179.7 763.9 L-163.9 781.4" fill="none" stroke="#ececec" stroke-width="0.7"/><text x="-157.4" y="771.9" font-size="13.2" style="fill:#e9e9e9" textLength="128" lengthAdjust="spacingAndGlyphs">ПРОМЫШЛЕННЫЕ</text><text x="-157.4" y="795.5" font-size="22" style="fill:#e9e9e9" textLength="127" lengthAdjust="spacingAndGlyphs">РЕДУКТОРЫ</text><path d="M191.2 754.8 L191.2 738.4 L157.4 718.9 L123.6 738.4 L123.6 777.4 L157.4 796.9M189.6 755.0 L189.6 739.3 L157.4 720.7 L125.2 739.3 L125.2 776.5 L157.4 795.1M188.1 755.1 L188.1 740.2 L157.4 722.5 L126.7 740.2 L126.7 775.6 L157.4 793.3M186.5 755.3 L186.5 741.1 L157.4 724.3 L128.3 741.1 L128.3 774.7 L157.4 791.5M184.9 755.4 L184.9 742.0 L157.4 726.1 L129.9 742.0 L129.9 773.8 L157.4 789.7" fill="none" stroke="#e8e8e8" stroke-width="0.8"/><path d="M182.3 764.1 L185.8 753.3 L167.7 733.3 L141.3 738.9 L133.0 764.6 L151.1 784.6M180.9 763.8 L184.1 753.7 L167.2 734.9 L142.5 740.1 L134.7 764.2 L151.6 783.0M179.4 763.5 L182.5 754.0 L166.7 736.5 L143.6 741.4 L136.3 763.9 L152.1 781.4" fill="none" stroke="#ececec" stroke-width="0.7"/><text x="158.6" y="771.9" font-size="13.2" style="fill:#e9e9e9" textLength="128" lengthAdjust="spacingAndGlyphs">ПРОМЫШЛЕННЫЕ</text><text x="158.6" y="795.5" font-size="22" style="fill:#e9e9e9" textLength="127" lengthAdjust="spacingAndGlyphs">РЕДУКТОРЫ</text><path d="M507.2 754.8 L507.2 738.4 L473.4 718.9 L439.6 738.4 L439.6 777.4 L473.4 796.9M505.6 755.0 L505.6 739.3 L473.4 720.7 L441.2 739.3 L441.2 776.5 L473.4 795.1M504.1 755.1 L504.1 740.2 L473.4 722.5 L442.7 740.2 L442.7 775.6 L473.4 793.3M502.5 755.3 L502.5 741.1 L473.4 724.3 L444.3 741.1 L444.3 774.7 L473.4 791.5M500.9 755.4 L500.9 742.0 L473.4 726.1 L445.9 742.0 L445.9 773.8 L473.4 789.7" fill="none" stroke="#e8e8e8" stroke-width="0.8"/><path d="M498.3 764.1 L501.8 753.3 L483.7 733.3 L457.3 738.9 L449.0 764.6 L467.1 784.6M496.9 763.8 L500.1 753.7 L483.2 734.9 L458.5 740.1 L450.7 764.2 L467.6 783.0M495.4 763.5 L498.5 754.0 L482.7 736.5 L459.6 741.4 L452.3 763.9 L468.1 781.4" fill="none" stroke="#ececec" stroke-width="0.7"/><text x="474.6" y="771.9" font-size="13.2" style="fill:#e9e9e9" textLength="128" lengthAdjust="spacingAndGlyphs">ПРОМЫШЛЕННЫЕ</text><text x="474.6" y="795.5" font-size="22" style="fill:#e9e9e9" textLength="127" lengthAdjust="spacingAndGlyphs">РЕДУКТОРЫ</text><path d="M823.2 754.8 L823.2 738.4 L789.4 718.9 L755.6 738.4 L755.6 777.4 L789.4 796.9M821.6 755.0 L821.6 739.3 L789.4 720.7 L757.2 739.3 L757.2 776.5 L789.4 795.1M820.1 755.1 L820.1 740.2 L789.4 722.5 L758.7 740.2 L758.7 775.6 L789.4 793.3M818.5 755.3 L818.5 741.1 L789.4 724.3 L760.3 741.1 L760.3 774.7 L789.4 791.5M816.9 755.4 L816.9 742.0 L789.4 726.1 L761.9 742.0 L761.9 773.8 L789.4 789.7" fill="none" stroke="#e8e8e8" stroke-width="0.8"/><path d="M814.3 764.1 L817.8 753.3 L799.7 733.3 L773.3 738.9 L765.0 764.6 L783.1 784.6M812.9 763.8 L816.1 753.7 L799.2 734.9 L774.5 740.1 L766.7 764.2 L783.6 783.0M811.4 763.5 L814.5 754.0 L798.7 736.5 L775.6 741.4 L768.3 763.9 L784.1 781.4" fill="none" stroke="#ececec" stroke-width="0.7"/><text x="790.6" y="771.9" font-size="13.2" style="fill:#e9e9e9" textLength="128" lengthAdjust="spacingAndGlyphs">ПРОМЫШЛЕННЫЕ</text><text x="790.6" y="795.5" font-size="22" style="fill:#e9e9e9" textLength="127" lengthAdjust="spacingAndGlyphs">РЕДУКТОРЫ</text><path d="M75.0 858.7 L75.0 842.3 L41.2 822.8 L7.4 842.3 L7.4 881.3 L41.2 900.8M73.4 858.8 L73.4 843.2 L41.2 824.6 L9.0 843.2 L9.0 880.4 L41.2 899.0M71.9 859.0 L71.9 844.1 L41.2 826.4 L10.5 844.1 L10.5 879.5 L41.2 897.2M70.3 859.1 L70.3 845.0 L41.2 828.2 L12.1 845.0 L12.1 878.6 L41.2 895.4M68.7 859.3 L68.7 845.9 L41.2 830.0 L13.7 845.9 L13.7 877.7 L41.2 893.6" fill="none" stroke="#e8e8e8" stroke-width="0.8"/><path d="M66.1 868.0 L69.6 857.2 L51.5 837.1 L25.1 842.7 L16.8 868.4 L34.9 888.5M64.7 867.6 L67.9 857.5 L51.0 838.7 L26.3 844.0 L18.5 868.1 L35.4 886.9M63.2 867.3 L66.3 857.9 L50.5 840.4 L27.4 845.3 L20.1 867.7 L35.9 885.2" fill="none" stroke="#ececec" stroke-width="0.7"/><text x="42.4" y="875.8" font-size="13.2" style="fill:#e9e9e9" textLength="128" lengthAdjust="spacingAndGlyphs">ПРОМЫШЛЕННЫЕ</text><text x="42.4" y="899.4" font-size="22" style="fill:#e9e9e9" textLength="127" lengthAdjust="spacingAndGlyphs">РЕДУКТОРЫ</text><path d="M391.0 858.7 L391.0 842.3 L357.2 822.8 L323.4 842.3 L323.4 881.3 L357.2 900.8M389.4 858.8 L389.4 843.2 L357.2 824.6 L325.0 843.2 L325.0 880.4 L357.2 899.0M387.9 859.0 L387.9 844.1 L357.2 826.4 L326.5 844.1 L326.5 879.5 L357.2 897.2M386.3 859.1 L386.3 845.0 L357.2 828.2 L328.1 845.0 L328.1 878.6 L357.2 895.4M384.7 859.3 L384.7 845.9 L357.2 830.0 L329.7 845.9 L329.7 877.7 L357.2 893.6" fill="none" stroke="#e8e8e8" stroke-width="0.8"/><path d="M382.1 868.0 L385.6 857.2 L367.5 837.1 L341.1 842.7 L332.8 868.4 L350.9 888.5M380.7 867.6 L383.9 857.5 L367.0 838.7 L342.3 844.0 L334.5 868.1 L351.4 886.9M379.2 867.3 L382.3 857.9 L366.5 840.4 L343.4 845.3 L336.1 867.7 L351.9 885.2" fill="none" stroke="#ececec" stroke-width="0.7"/><text x="358.4" y="875.8" font-size="13.2" style="fill:#e9e9e9" textLength="128" lengthAdjust="spacingAndGlyphs">ПРОМЫШЛЕННЫЕ</text><text x="358.4" y="899.4" font-size="22" style="fill:#e9e9e9" textLength="127" lengthAdjust="spacingAndGlyphs">РЕДУКТОРЫ</text><path d="M707.0 858.7 L707.0 842.3 L673.2 822.8 L639.4 842.3 L639.4 881.3 L673.2 900.8M705.4 858.8 L705.4 843.2 L673.2 824.6 L641.0 843.2 L641.0 880.4 L673.2 899.0M703.9 859.0 L703.9 844.1 L673.2 826.4 L642.5 844.1 L642.5 879.5 L673.2 897.2M702.3 859.1 L702.3 845.0 L673.2 828.2 L644.1 845.0 L644.1 878.6 L673.2 895.4M700.7 859.3 L700.7 845.9 L673.2 830.0 L645.7 845.9 L645.7 877.7 L673.2 893.6" fill="none" stroke="#e8e8e8" stroke-width="0.8"/><path d="M698.1 868.0 L701.6 857.2 L683.5 837.1 L657.1 842.7 L648.8 868.4 L666.9 888.5M696.7 867.6 L699.9 857.5 L683.0 838.7 L658.3 844.0 L650.5 868.1 L667.4 886.9M695.2 867.3 L698.3 857.9 L682.5 840.4 L659.4 845.3 L652.1 867.7 L667.9 885.2" fill="none" stroke="#ececec" stroke-width="0.7"/><text x="674.4" y="875.8" font-size="13.2" style="fill:#e9e9e9" textLength="128" lengthAdjust="spacingAndGlyphs">ПРОМЫШЛЕННЫЕ</text><text x="674.4" y="899.4" font-size="22" style="fill:#e9e9e9" textLength="127" lengthAdjust="spacingAndGlyphs">РЕДУКТОРЫ</text><path d="M1023.0 858.7 L1023.0 842.3 L989.2 822.8 L955.4 842.3 L955.4 881.3 L989.2 900.8M1021.4 858.8 L1021.4 843.2 L989.2 824.6 L957.0 843.2 L957.0 880.4 L989.2 899.0M1019.9 859.0 L1019.9 844.1 L989.2 826.4 L958.5 844.1 L958.5 879.5 L989.2 897.2M1018.3 859.1 L1018.3 845.0 L989.2 828.2 L960.1 845.0 L960.1 878.6 L989.2 895.4M1016.7 859.3 L1016.7 845.9 L989.2 830.0 L961.7 845.9 L961.7 877.7 L989.2 893.6" fill="none" stroke="#e8e8e8" stroke-width="0.8"/><path d="M1014.1 868.0 L1017.6 857.2 L999.5 837.1 L973.1 842.7 L964.8 868.4 L982.9 888.5M1012.7 867.6 L1015.9 857.5 L999.0 838.7 L974.3 844.0 L966.5 868.1 L983.4 886.9M1011.2 867.3 L1014.3 857.9 L998.5 840.4 L975.4 845.3 L968.1 867.7 L983.9 885.2" fill="none" stroke="#ececec" stroke-width="0.7"/><text x="990.4" y="875.8" font-size="13.2" style="fill:#e9e9e9" textLength="128" lengthAdjust="spacingAndGlyphs">ПРОМЫШЛЕННЫЕ</text><text x="990.4" y="899.4" font-size="22" style="fill:#e9e9e9" textLength="127" lengthAdjust="spacingAndGlyphs">РЕДУКТОРЫ</text><path d="M-41.2 962.5 L-41.2 946.1 L-75.0 926.6 L-108.8 946.1 L-108.8 985.1 L-75.0 1004.6M-42.8 962.7 L-42.8 947.0 L-75.0 928.4 L-107.2 947.0 L-107.2 984.2 L-75.0 1002.9M-44.3 962.8 L-44.3 947.9 L-75.0 930.2 L-105.7 947.9 L-105.7 983.4 L-75.0 1001.0M-45.9 963.0 L-45.9 948.9 L-75.0 932.0 L-104.1 948.9 L-104.1 982.4 L-75.0 999.2M-47.5 963.1 L-47.5 949.8 L-75.0 933.9 L-102.5 949.8 L-102.5 981.5 L-75.0 997.4" fill="none" stroke="#e8e8e8" stroke-width="0.8"/><path d="M-50.1 971.8 L-46.6 961.0 L-64.7 941.0 L-91.1 946.6 L-99.4 972.3 L-81.3 992.3M-51.5 971.5 L-48.3 961.4 L-65.2 942.6 L-89.9 947.8 L-97.7 971.9 L-80.8 990.7M-53.0 971.2 L-49.9 961.7 L-65.7 944.2 L-88.8 949.1 L-96.1 971.6 L-80.3 989.1" fill="none" stroke="#ececec" stroke-width="0.7"/><text x="-73.8" y="979.6" font-size="13.2" style="fill:#e9e9e9" textLength="128" lengthAdjust="spacingAndGlyphs">ПРОМЫШЛЕННЫЕ</text><text x="-73.8" y="1003.2" font-size="22" style="fill:#e9e9e9" textLength="127" lengthAdjust="spacingAndGlyphs">РЕДУКТОРЫ</text><path d="M274.8 962.5 L274.8 946.1 L241.0 926.6 L207.2 946.1 L207.2 985.1 L241.0 1004.6M273.2 962.7 L273.2 947.0 L241.0 928.4 L208.8 947.0 L208.8 984.2 L241.0 1002.9M271.7 962.8 L271.7 947.9 L241.0 930.2 L210.3 947.9 L210.3 983.4 L241.0 1001.0M270.1 963.0 L270.1 948.9 L241.0 932.0 L211.9 948.9 L211.9 982.4 L241.0 999.2M268.5 963.1 L268.5 949.8 L241.0 933.9 L213.5 949.8 L213.5 981.5 L241.0 997.4" fill="none" stroke="#e8e8e8" stroke-width="0.8"/><path d="M265.9 971.8 L269.4 961.0 L251.3 941.0 L224.9 946.6 L216.6 972.3 L234.7 992.3M264.5 971.5 L267.7 961.4 L250.8 942.6 L226.1 947.8 L218.3 971.9 L235.2 990.7M263.0 971.2 L266.1 961.7 L250.3 944.2 L227.2 949.1 L219.9 971.6 L235.7 989.1" fill="none" stroke="#ececec" stroke-width="0.7"/><text x="242.2" y="979.6" font-size="13.2" style="fill:#e9e9e9" textLength="128" lengthAdjust="spacingAndGlyphs">ПРОМЫШЛЕННЫЕ</text><text x="242.2" y="1003.2" font-size="22" style="fill:#e9e9e9" textLength="127" lengthAdjust="spacingAndGlyphs">РЕДУКТОРЫ</text><path d="M590.8 962.5 L590.8 946.1 L557.0 926.6 L523.2 946.1 L523.2 985.1 L557.0 1004.6M589.2 962.7 L589.2 947.0 L557.0 928.4 L524.8 947.0 L524.8 984.2 L557.0 1002.9M587.7 962.8 L587.7 947.9 L557.0 930.2 L526.3 947.9 L526.3 983.4 L557.0 1001.0M586.1 963.0 L586.1 948.9 L557.0 932.0 L527.9 948.9 L527.9 982.4 L557.0 999.2M584.5 963.1 L584.5 949.8 L557.0 933.9 L529.5 949.8 L529.5 981.5 L557.0 997.4" fill="none" stroke="#e8e8e8" stroke-width="0.8"/><path d="M581.9 971.8 L585.4 961.0 L567.3 941.0 L540.9 946.6 L532.6 972.3 L550.7 992.3M580.5 971.5 L583.7 961.4 L566.8 942.6 L542.1 947.8 L534.3 971.9 L551.2 990.7M579.0 971.2 L582.1 961.7 L566.3 944.2 L543.2 949.1 L535.9 971.6 L551.7 989.1" fill="none" stroke="#ececec" stroke-width="0.7"/><text x="558.2" y="979.6" font-size="13.2" style="fill:#e9e9e9" textLength="128" lengthAdjust="spacingAndGlyphs">ПРОМЫШЛЕННЫЕ</text><text x="558.2" y="1003.2" font-size="22" style="fill:#e9e9e9" textLength="127" lengthAdjust="spacingAndGlyphs">РЕДУКТОРЫ</text><path d="M906.8 962.5 L906.8 946.1 L873.0 926.6 L839.2 946.1 L839.2 985.1 L873.0 1004.6M905.2 962.7 L905.2 947.0 L873.0 928.4 L840.8 947.0 L840.8 984.2 L873.0 1002.9M903.7 962.8 L903.7 947.9 L873.0 930.2 L842.3 947.9 L842.3 983.4 L873.0 1001.0M902.1 963.0 L902.1 948.9 L873.0 932.0 L843.9 948.9 L843.9 982.4 L873.0 999.2M900.5 963.1 L900.5 949.8 L873.0 933.9 L845.5 949.8 L845.5 981.5 L873.0 997.4" fill="none" stroke="#e8e8e8" stroke-width="0.8"/><path d="M897.9 971.8 L901.4 961.0 L883.3 941.0 L856.9 946.6 L848.6 972.3 L866.7 992.3M896.5 971.5 L899.7 961.4 L882.8 942.6 L858.1 947.8 L850.3 971.9 L867.2 990.7M895.0 971.2 L898.1 961.7 L882.3 944.2 L859.2 949.1 L851.9 971.6 L867.7 989.1" fill="none" stroke="#ececec" stroke-width="0.7"/><text x="874.2" y="979.6" font-size="13.2" style="fill:#e9e9e9" textLength="128" lengthAdjust="spacingAndGlyphs">ПРОМЫШЛЕННЫЕ</text><text x="874.2" y="1003.2" font-size="22" style="fill:#e9e9e9" textLength="127" lengthAdjust="spacingAndGlyphs">РЕДУКТОРЫ</text><path d="M-157.4 1066.4 L-157.4 1050.0 L-191.2 1030.5 L-225.0 1050.0 L-225.0 1089.0 L-191.2 1108.5M-159.0 1066.5 L-159.0 1050.9 L-191.2 1032.3 L-223.4 1050.9 L-223.4 1088.1 L-191.2 1106.7M-160.5 1066.7 L-160.5 1051.8 L-191.2 1034.1 L-221.9 1051.8 L-221.9 1087.2 L-191.2 1104.9M-162.1 1066.8 L-162.1 1052.7 L-191.2 1035.9 L-220.3 1052.7 L-220.3 1086.3 L-191.2 1103.1M-163.7 1067.0 L-163.7 1053.6 L-191.2 1037.7 L-218.7 1053.6 L-218.7 1085.4 L-191.2 1101.3" fill="none" stroke="#e8e8e8" stroke-width="0.8"/><path d="M-166.3 1075.7 L-162.8 1064.9 L-180.9 1044.8 L-207.3 1050.4 L-215.6 1076.1 L-197.5 1096.2M-167.7 1075.3 L-164.5 1065.2 L-181.4 1046.4 L-206.1 1051.7 L-213.9 1075.8 L-197.0 1094.6M-169.2 1075.0 L-166.1 1065.6 L-181.9 1048.1 L-205.0 1053.0 L-212.3 1075.4 L-196.5 1092.9" fill="none" stroke="#ececec" stroke-width="0.7"/><text x="-190.0" y="1083.5" font-size="13.2" style="fill:#e9e9e9" textLength="128" lengthAdjust="spacingAndGlyphs">ПРОМЫШЛЕННЫЕ</text><text x="-190.0" y="1107.1" font-size="22" style="fill:#e9e9e9" textLength="127" lengthAdjust="spacingAndGlyphs">РЕДУКТОРЫ</text><path d="M158.6 1066.4 L158.6 1050.0 L124.8 1030.5 L91.0 1050.0 L91.0 1089.0 L124.8 1108.5M157.0 1066.5 L157.0 1050.9 L124.8 1032.3 L92.6 1050.9 L92.6 1088.1 L124.8 1106.7M155.5 1066.7 L155.5 1051.8 L124.8 1034.1 L94.1 1051.8 L94.1 1087.2 L124.8 1104.9M153.9 1066.8 L153.9 1052.7 L124.8 1035.9 L95.7 1052.7 L95.7 1086.3 L124.8 1103.1M152.3 1067.0 L152.3 1053.6 L124.8 1037.7 L97.3 1053.6 L97.3 1085.4 L124.8 1101.3" fill="none" stroke="#e8e8e8" stroke-width="0.8"/><path d="M149.7 1075.7 L153.2 1064.9 L135.1 1044.8 L108.7 1050.4 L100.4 1076.1 L118.5 1096.2M148.3 1075.3 L151.5 1065.2 L134.6 1046.4 L109.9 1051.7 L102.1 1075.8 L119.0 1094.6M146.8 1075.0 L149.9 1065.6 L134.1 1048.1 L111.0 1053.0 L103.7 1075.4 L119.5 1092.9" fill="none" stroke="#ececec" stroke-width="0.7"/><text x="126.0" y="1083.5" font-size="13.2" style="fill:#e9e9e9" textLength="128" lengthAdjust="spacingAndGlyphs">ПРОМЫШЛЕННЫЕ</text><text x="126.0" y="1107.1" font-size="22" style="fill:#e9e9e9" textLength="127" lengthAdjust="spacingAndGlyphs">РЕДУКТОРЫ</text><path d="M474.6 1066.4 L474.6 1050.0 L440.8 1030.5 L407.0 1050.0 L407.0 1089.0 L440.8 1108.5M473.0 1066.5 L473.0 1050.9 L440.8 1032.3 L408.6 1050.9 L408.6 1088.1 L440.8 1106.7M471.5 1066.7 L471.5 1051.8 L440.8 1034.1 L410.1 1051.8 L410.1 1087.2 L440.8 1104.9M469.9 1066.8 L469.9 1052.7 L440.8 1035.9 L411.7 1052.7 L411.7 1086.3 L440.8 1103.1M468.3 1067.0 L468.3 1053.6 L440.8 1037.7 L413.3 1053.6 L413.3 1085.4 L440.8 1101.3" fill="none" stroke="#e8e8e8" stroke-width="0.8"/><path d="M465.7 1075.7 L469.2 1064.9 L451.1 1044.8 L424.7 1050.4 L416.4 1076.1 L434.5 1096.2M464.3 1075.3 L467.5 1065.2 L450.6 1046.4 L425.9 1051.7 L418.1 1075.8 L435.0 1094.6M462.8 1075.0 L465.9 1065.6 L450.1 1048.1 L427.0 1053.0 L419.7 1075.4 L435.5 1092.9" fill="none" stroke="#ececec" stroke-width="0.7"/><text x="442.0" y="1083.5" font-size="13.2" style="fill:#e9e9e9" textLength="128" lengthAdjust="spacingAndGlyphs">ПРОМЫШЛЕННЫЕ</text><text x="442.0" y="1107.1" font-size="22" style="fill:#e9e9e9" textLength="127" lengthAdjust="spacingAndGlyphs">РЕДУКТОРЫ</text><path d="M790.6 1066.4 L790.6 1050.0 L756.8 1030.5 L723.0 1050.0 L723.0 1089.0 L756.8 1108.5M789.0 1066.5 L789.0 1050.9 L756.8 1032.3 L724.6 1050.9 L724.6 1088.1 L756.8 1106.7M787.5 1066.7 L787.5 1051.8 L756.8 1034.1 L726.1 1051.8 L726.1 1087.2 L756.8 1104.9M785.9 1066.8 L785.9 1052.7 L756.8 1035.9 L727.7 1052.7 L727.7 1086.3 L756.8 1103.1M784.3 1067.0 L784.3 1053.6 L756.8 1037.7 L729.3 1053.6 L729.3 1085.4 L756.8 1101.3" fill="none" stroke="#e8e8e8" stroke-width="0.8"/><path d="M781.7 1075.7 L785.2 1064.9 L767.1 1044.8 L740.7 1050.4 L732.4 1076.1 L750.5 1096.2M780.3 1075.3 L783.5 1065.2 L766.6 1046.4 L741.9 1051.7 L734.1 1075.8 L751.0 1094.6M778.8 1075.0 L781.9 1065.6 L766.1 1048.1 L743.0 1053.0 L735.7 1075.4 L751.5 1092.9" fill="none" stroke="#ececec" stroke-width="0.7"/><text x="758.0" y="1083.5" font-size="13.2" style="fill:#e9e9e9" textLength="128" lengthAdjust="spacingAndGlyphs">ПРОМЫШЛЕННЫЕ</text><text x="758.0" y="1107.1" font-size="22" style="fill:#e9e9e9" textLength="127" lengthAdjust="spacingAndGlyphs">РЕДУКТОРЫ</text><path d="M42.4 1170.2 L42.4 1153.8 L8.6 1134.3 L-25.2 1153.8 L-25.2 1192.8 L8.6 1212.3M40.8 1170.4 L40.8 1154.8 L8.6 1136.1 L-23.6 1154.8 L-23.6 1191.9 L8.6 1210.5M39.3 1170.5 L39.3 1155.6 L8.6 1137.9 L-22.1 1155.6 L-22.1 1191.0 L8.6 1208.8M37.7 1170.7 L37.7 1156.5 L8.6 1139.8 L-20.5 1156.5 L-20.5 1190.1 L8.6 1206.9M36.1 1170.8 L36.1 1157.4 L8.6 1141.5 L-18.9 1157.4 L-18.9 1189.2 L8.6 1205.1" fill="none" stroke="#e8e8e8" stroke-width="0.8"/><path d="M33.5 1179.5 L37.0 1168.7 L18.9 1148.7 L-7.5 1154.3 L-15.8 1180.0 L2.3 1200.0M32.1 1179.2 L35.3 1169.1 L18.4 1150.3 L-6.3 1155.5 L-14.1 1179.6 L2.8 1198.4M30.6 1178.9 L33.7 1169.4 L17.9 1151.9 L-5.2 1156.8 L-12.5 1179.3 L3.3 1196.8" fill="none" stroke="#ececec" stroke-width="0.7"/><text x="9.8" y="1187.3" font-size="13.2" style="fill:#e9e9e9" textLength="128" lengthAdjust="spacingAndGlyphs">ПРОМЫШЛЕННЫЕ</text><text x="9.8" y="1210.9" font-size="22" style="fill:#e9e9e9" textLength="127" lengthAdjust="spacingAndGlyphs">РЕДУКТОРЫ</text><path d="M358.4 1170.2 L358.4 1153.8 L324.6 1134.3 L290.8 1153.8 L290.8 1192.8 L324.6 1212.3M356.8 1170.4 L356.8 1154.8 L324.6 1136.1 L292.4 1154.8 L292.4 1191.9 L324.6 1210.5M355.3 1170.5 L355.3 1155.6 L324.6 1137.9 L293.9 1155.6 L293.9 1191.0 L324.6 1208.8M353.7 1170.7 L353.7 1156.5 L324.6 1139.8 L295.5 1156.5 L295.5 1190.1 L324.6 1206.9M352.1 1170.8 L352.1 1157.4 L324.6 1141.5 L297.1 1157.4 L297.1 1189.2 L324.6 1205.1" fill="none" stroke="#e8e8e8" stroke-width="0.8"/><path d="M349.5 1179.5 L353.0 1168.7 L334.9 1148.7 L308.5 1154.3 L300.2 1180.0 L318.3 1200.0M348.1 1179.2 L351.3 1169.1 L334.4 1150.3 L309.7 1155.5 L301.9 1179.6 L318.8 1198.4M346.6 1178.9 L349.7 1169.4 L333.9 1151.9 L310.8 1156.8 L303.5 1179.3 L319.3 1196.8" fill="none" stroke="#ececec" stroke-width="0.7"/><text x="325.8" y="1187.3" font-size="13.2" style="fill:#e9e9e9" textLength="128" lengthAdjust="spacingAndGlyphs">ПРОМЫШЛЕННЫЕ</text><text x="325.8" y="1210.9" font-size="22" style="fill:#e9e9e9" textLength="127" lengthAdjust="spacingAndGlyphs">РЕДУКТОРЫ</text><path d="M674.4 1170.2 L674.4 1153.8 L640.6 1134.3 L606.8 1153.8 L606.8 1192.8 L640.6 1212.3M672.8 1170.4 L672.8 1154.8 L640.6 1136.1 L608.4 1154.8 L608.4 1191.9 L640.6 1210.5M671.3 1170.5 L671.3 1155.6 L640.6 1137.9 L609.9 1155.6 L609.9 1191.0 L640.6 1208.8M669.7 1170.7 L669.7 1156.5 L640.6 1139.8 L611.5 1156.5 L611.5 1190.1 L640.6 1206.9M668.1 1170.8 L668.1 1157.4 L640.6 1141.5 L613.1 1157.4 L613.1 1189.2 L640.6 1205.1" fill="none" stroke="#e8e8e8" stroke-width="0.8"/><path d="M665.5 1179.5 L669.0 1168.7 L650.9 1148.7 L624.5 1154.3 L616.2 1180.0 L634.3 1200.0M664.1 1179.2 L667.3 1169.1 L650.4 1150.3 L625.7 1155.5 L617.9 1179.6 L634.8 1198.4M662.6 1178.9 L665.7 1169.4 L649.9 1151.9 L626.8 1156.8 L619.5 1179.3 L635.3 1196.8" fill="none" stroke="#ececec" stroke-width="0.7"/><text x="641.8" y="1187.3" font-size="13.2" style="fill:#e9e9e9" textLength="128" lengthAdjust="spacingAndGlyphs">ПРОМЫШЛЕННЫЕ</text><text x="641.8" y="1210.9" font-size="22" style="fill:#e9e9e9" textLength="127" lengthAdjust="spacingAndGlyphs">РЕДУКТОРЫ</text><path d="M990.4 1170.2 L990.4 1153.8 L956.6 1134.3 L922.8 1153.8 L922.8 1192.8 L956.6 1212.3M988.8 1170.4 L988.8 1154.8 L956.6 1136.1 L924.4 1154.8 L924.4 1191.9 L956.6 1210.5M987.3 1170.5 L987.3 1155.6 L956.6 1137.9 L925.9 1155.6 L925.9 1191.0 L956.6 1208.8M985.7 1170.7 L985.7 1156.5 L956.6 1139.8 L927.5 1156.5 L927.5 1190.1 L956.6 1206.9M984.1 1170.8 L984.1 1157.4 L956.6 1141.5 L929.1 1157.4 L929.1 1189.2 L956.6 1205.1" fill="none" stroke="#e8e8e8" stroke-width="0.8"/><path d="M981.5 1179.5 L985.0 1168.7 L966.9 1148.7 L940.5 1154.3 L932.2 1180.0 L950.3 1200.0M980.1 1179.2 L983.3 1169.1 L966.4 1150.3 L941.7 1155.5 L933.9 1179.6 L950.8 1198.4M978.6 1178.9 L981.7 1169.4 L965.9 1151.9 L942.8 1156.8 L935.5 1179.3 L951.3 1196.8" fill="none" stroke="#ececec" stroke-width="0.7"/><text x="957.8" y="1187.3" font-size="13.2" style="fill:#e9e9e9" textLength="128" lengthAdjust="spacingAndGlyphs">ПРОМЫШЛЕННЫЕ</text><text x="957.8" y="1210.9" font-size="22" style="fill:#e9e9e9" textLength="127" lengthAdjust="spacingAndGlyphs">РЕДУКТОРЫ</text><path d="M-73.8 1274.1 L-73.8 1257.7 L-107.6 1238.2 L-141.4 1257.7 L-141.4 1296.7 L-107.6 1316.2M-75.4 1274.2 L-75.4 1258.6 L-107.6 1240.0 L-139.8 1258.6 L-139.8 1295.8 L-107.6 1314.4M-76.9 1274.4 L-76.9 1259.5 L-107.6 1241.8 L-138.3 1259.5 L-138.3 1294.9 L-107.6 1312.6M-78.5 1274.5 L-78.5 1260.4 L-107.6 1243.6 L-136.7 1260.4 L-136.7 1294.0 L-107.6 1310.8M-80.1 1274.7 L-80.1 1261.3 L-107.6 1245.4 L-135.1 1261.3 L-135.1 1293.1 L-107.6 1309.0" fill="none" stroke="#e8e8e8" stroke-width="0.8"/><path d="M-82.7 1283.4 L-79.2 1272.6 L-97.3 1252.5 L-123.7 1258.1 L-132.0 1283.8 L-113.9 1303.9M-84.1 1283.0 L-80.9 1272.9 L-97.8 1254.1 L-122.5 1259.4 L-130.3 1283.5 L-113.4 1302.3M-85.6 1282.7 L-82.5 1273.3 L-98.3 1255.8 L-121.4 1260.7 L-128.7 1283.1 L-112.9 1300.6" fill="none" stroke="#ececec" stroke-width="0.7"/><text x="-106.4" y="1291.2" font-size="13.2" style="fill:#e9e9e9" textLength="128" lengthAdjust="spacingAndGlyphs">ПРОМЫШЛЕННЫЕ</text><text x="-106.4" y="1314.8" font-size="22" style="fill:#e9e9e9" textLength="127" lengthAdjust="spacingAndGlyphs">РЕДУКТОРЫ</text><path d="M242.2 1274.1 L242.2 1257.7 L208.4 1238.2 L174.6 1257.7 L174.6 1296.7 L208.4 1316.2M240.6 1274.2 L240.6 1258.6 L208.4 1240.0 L176.2 1258.6 L176.2 1295.8 L208.4 1314.4M239.1 1274.4 L239.1 1259.5 L208.4 1241.8 L177.7 1259.5 L177.7 1294.9 L208.4 1312.6M237.5 1274.5 L237.5 1260.4 L208.4 1243.6 L179.3 1260.4 L179.3 1294.0 L208.4 1310.8M235.9 1274.7 L235.9 1261.3 L208.4 1245.4 L180.9 1261.3 L180.9 1293.1 L208.4 1309.0" fill="none" stroke="#e8e8e8" stroke-width="0.8"/><path d="M233.3 1283.4 L236.8 1272.6 L218.7 1252.5 L192.3 1258.1 L184.0 1283.8 L202.1 1303.9M231.9 1283.0 L235.1 1272.9 L218.2 1254.1 L193.5 1259.4 L185.7 1283.5 L202.6 1302.3M230.4 1282.7 L233.5 1273.3 L217.7 1255.8 L194.6 1260.7 L187.3 1283.1 L203.1 1300.6" fill="none" stroke="#ececec" stroke-width="0.7"/><text x="209.6" y="1291.2" font-size="13.2" style="fill:#e9e9e9" textLength="128" lengthAdjust="spacingAndGlyphs">ПРОМЫШЛЕННЫЕ</text><text x="209.6" y="1314.8" font-size="22" style="fill:#e9e9e9" textLength="127" lengthAdjust="spacingAndGlyphs">РЕДУКТОРЫ</text><path d="M558.2 1274.1 L558.2 1257.7 L524.4 1238.2 L490.6 1257.7 L490.6 1296.7 L524.4 1316.2M556.6 1274.2 L556.6 1258.6 L524.4 1240.0 L492.2 1258.6 L492.2 1295.8 L524.4 1314.4M555.1 1274.4 L555.1 1259.5 L524.4 1241.8 L493.7 1259.5 L493.7 1294.9 L524.4 1312.6M553.5 1274.5 L553.5 1260.4 L524.4 1243.6 L495.3 1260.4 L495.3 1294.0 L524.4 1310.8M551.9 1274.7 L551.9 1261.3 L524.4 1245.4 L496.9 1261.3 L496.9 1293.1 L524.4 1309.0" fill="none" stroke="#e8e8e8" stroke-width="0.8"/><path d="M549.3 1283.4 L552.8 1272.6 L534.7 1252.5 L508.3 1258.1 L500.0 1283.8 L518.1 1303.9M547.9 1283.0 L551.1 1272.9 L534.2 1254.1 L509.5 1259.4 L501.7 1283.5 L518.6 1302.3M546.4 1282.7 L549.5 1273.3 L533.7 1255.8 L510.6 1260.7 L503.3 1283.1 L519.1 1300.6" fill="none" stroke="#ececec" stroke-width="0.7"/><text x="525.6" y="1291.2" font-size="13.2" style="fill:#e9e9e9" textLength="128" lengthAdjust="spacingAndGlyphs">ПРОМЫШЛЕННЫЕ</text><text x="525.6" y="1314.8" font-size="22" style="fill:#e9e9e9" textLength="127" lengthAdjust="spacingAndGlyphs">РЕДУКТОРЫ</text><path d="M874.2 1274.1 L874.2 1257.7 L840.4 1238.2 L806.6 1257.7 L806.6 1296.7 L840.4 1316.2M872.6 1274.2 L872.6 1258.6 L840.4 1240.0 L808.2 1258.6 L808.2 1295.8 L840.4 1314.4M871.1 1274.4 L871.1 1259.5 L840.4 1241.8 L809.7 1259.5 L809.7 1294.9 L840.4 1312.6M869.5 1274.5 L869.5 1260.4 L840.4 1243.6 L811.3 1260.4 L811.3 1294.0 L840.4 1310.8M867.9 1274.7 L867.9 1261.3 L840.4 1245.4 L812.9 1261.3 L812.9 1293.1 L840.4 1309.0" fill="none" stroke="#e8e8e8" stroke-width="0.8"/><path d="M865.3 1283.4 L868.8 1272.6 L850.7 1252.5 L824.3 1258.1 L816.0 1283.8 L834.1 1303.9M863.9 1283.0 L867.1 1272.9 L850.2 1254.1 L825.5 1259.4 L817.7 1283.5 L834.6 1302.3M862.4 1282.7 L865.5 1273.3 L849.7 1255.8 L826.6 1260.7 L819.3 1283.1 L835.1 1300.6" fill="none" stroke="#ececec" stroke-width="0.7"/><text x="841.6" y="1291.2" font-size="13.2" style="fill:#e9e9e9" textLength="128" lengthAdjust="spacingAndGlyphs">ПРОМЫШЛЕННЫЕ</text><text x="841.6" y="1314.8" font-size="22" style="fill:#e9e9e9" textLength="127" lengthAdjust="spacingAndGlyphs">РЕДУКТОРЫ</text><path d="M126.0 1377.9 L126.0 1361.5 L92.2 1342.0 L58.4 1361.5 L58.4 1400.5 L92.2 1420.0M124.4 1378.1 L124.4 1362.5 L92.2 1343.8 L60.0 1362.5 L60.0 1399.6 L92.2 1418.2M122.9 1378.2 L122.9 1363.3 L92.2 1345.6 L61.5 1363.3 L61.5 1398.8 L92.2 1416.5M121.3 1378.4 L121.3 1364.2 L92.2 1347.5 L63.1 1364.2 L63.1 1397.8 L92.2 1414.6M119.7 1378.5 L119.7 1365.1 L92.2 1349.2 L64.7 1365.1 L64.7 1397.0 L92.2 1412.8" fill="none" stroke="#e8e8e8" stroke-width="0.8"/><path d="M117.1 1387.2 L120.6 1376.4 L102.5 1356.4 L76.1 1362.0 L67.8 1387.7 L85.9 1407.7M115.7 1386.9 L118.9 1376.8 L102.0 1358.0 L77.3 1363.2 L69.5 1387.3 L86.4 1406.1M114.2 1386.6 L117.3 1377.1 L101.5 1359.6 L78.4 1364.5 L71.1 1387.0 L86.9 1404.5" fill="none" stroke="#ececec" stroke-width="0.7"/><text x="93.4" y="1395.0" font-size="13.2" style="fill:#e9e9e9" textLength="128" lengthAdjust="spacingAndGlyphs">ПРОМЫШЛЕННЫЕ</text><text x="93.4" y="1418.6" font-size="22" style="fill:#e9e9e9" textLength="127" lengthAdjust="spacingAndGlyphs">РЕДУКТОРЫ</text><path d="M442.0 1377.9 L442.0 1361.5 L408.2 1342.0 L374.4 1361.5 L374.4 1400.5 L408.2 1420.0M440.4 1378.1 L440.4 1362.5 L408.2 1343.8 L376.0 1362.5 L376.0 1399.6 L408.2 1418.2M438.9 1378.2 L438.9 1363.3 L408.2 1345.6 L377.5 1363.3 L377.5 1398.8 L408.2 1416.5M437.3 1378.4 L437.3 1364.2 L408.2 1347.5 L379.1 1364.2 L379.1 1397.8 L408.2 1414.6M435.7 1378.5 L435.7 1365.1 L408.2 1349.2 L380.7 1365.1 L380.7 1397.0 L408.2 1412.8" fill="none" stroke="#e8e8e8" stroke-width="0.8"/><path d="M433.1 1387.2 L436.6 1376.4 L418.5 1356.4 L392.1 1362.0 L383.8 1387.7 L401.9 1407.7M431.7 1386.9 L434.9 1376.8 L418.0 1358.0 L393.3 1363.2 L385.5 1387.3 L402.4 1406.1M430.2 1386.6 L433.3 1377.1 L417.5 1359.6 L394.4 1364.5 L387.1 1387.0 L402.9 1404.5" fill="none" stroke="#ececec" stroke-width="0.7"/><text x="409.4" y="1395.0" font-size="13.2" style="fill:#e9e9e9" textLength="128" lengthAdjust="spacingAndGlyphs">ПРОМЫШЛЕННЫЕ</text><text x="409.4" y="1418.6" font-size="22" style="fill:#e9e9e9" textLength="127" lengthAdjust="spacingAndGlyphs">РЕДУКТОРЫ</text><path d="M758.0 1377.9 L758.0 1361.5 L724.2 1342.0 L690.4 1361.5 L690.4 1400.5 L724.2 1420.0M756.4 1378.1 L756.4 1362.5 L724.2 1343.8 L692.0 1362.5 L692.0 1399.6 L724.2 1418.2M754.9 1378.2 L754.9 1363.3 L724.2 1345.6 L693.5 1363.3 L693.5 1398.8 L724.2 1416.5M753.3 1378.4 L753.3 1364.2 L724.2 1347.5 L695.1 1364.2 L695.1 1397.8 L724.2 1414.6M751.7 1378.5 L751.7 1365.1 L724.2 1349.2 L696.7 1365.1 L696.7 1397.0 L724.2 1412.8" fill="none" stroke="#e8e8e8" stroke-width="0.8"/><path d="M749.1 1387.2 L752.6 1376.4 L734.5 1356.4 L708.1 1362.0 L699.8 1387.7 L717.9 1407.7M747.7 1386.9 L750.9 1376.8 L734.0 1358.0 L709.3 1363.2 L701.5 1387.3 L718.4 1406.1M746.2 1386.6 L749.3 1377.1 L733.5 1359.6 L710.4 1364.5 L703.1 1387.0 L718.9 1404.5" fill="none" stroke="#ececec" stroke-width="0.7"/><text x="725.4" y="1395.0" font-size="13.2" style="fill:#e9e9e9" textLength="128" lengthAdjust="spacingAndGlyphs">ПРОМЫШЛЕННЫЕ</text><text x="725.4" y="1418.6" font-size="22" style="fill:#e9e9e9" textLength="127" lengthAdjust="spacingAndGlyphs">РЕДУКТОРЫ</text></g>
<g id="header">
  <line x1="71" y1="33.8" x2="848" y2="33.8" stroke="#111" stroke-width="1.4"/>
  <line x1="71" y1="126.8" x2="848" y2="126.8" stroke="#111" stroke-width="1.4"/>
  <text x="510" y="58.8" class="b" font-size="23" text-anchor="middle">Ölçü Sayfaları</text>
  <text x="510.5" y="86.3" class="i" font-size="23.2" text-anchor="middle">Dimension Pages</text>
  <text x="510.5" y="114.8" font-size="23.2" text-anchor="middle">Abmessungsseiten</text>
  <text x="72" y="146" font-size="11.7"><tspan class="b">-Mil ucu çektirme deliği DIN 332 sayfa 2</tspan><tspan xml:space="preserve">  /  </tspan><tspan class="i">Tapped center hole to DIN 332, sheet 2</tspan><tspan xml:space="preserve">  /  </tspan><tspan>Zentrierung mit Gewinde DIN 332, Blatt 2</tspan></text>
</g>
<line x1="190" y1="191" x2="571.6" y2="191" class="ln" /><path d="M190 191L195.5 189.4L195.5 192.6Z" fill="#333"/><path d="M571.6 191L566.1 192.6L566.1 189.4Z" fill="#333"/>
<text x="381" y="188.5" class="b dt" font-size="10.4" text-anchor="middle" fill="#222">k1</text>
<text x="386" y="184.6" class="b dt" font-size="21" text-anchor="start" fill="#222">*</text>
<line x1="190" y1="208.5" x2="540" y2="208.5" class="ln" /><path d="M190 208.5L195.5 206.9L195.5 210.1Z" fill="#333"/><path d="M540 208.5L534.5 210.1L534.5 206.9Z" fill="#333"/>
<text x="364" y="205.5" class="b dt" font-size="10.4" text-anchor="middle" fill="#222">k</text>
<line x1="190" y1="227" x2="244.4" y2="227" class="ln" /><path d="M190 227L195.5 225.4L195.5 228.6Z" fill="#333"/><path d="M244.4 227L238.9 228.6L238.9 225.4Z" fill="#333"/>
<text x="216.8" y="224" class="b dt" font-size="10.4" text-anchor="middle" fill="#222">80</text>
<line x1="244.4" y1="227" x2="351.5" y2="227" class="ln" /><path d="M244.4 227L249.9 225.4L249.9 228.6Z" fill="#333"/><path d="M351.5 227L346 228.6L346 225.4Z" fill="#333"/>
<text x="298" y="224" class="b dt" font-size="10.4" text-anchor="middle" fill="#222">152</text>
<text x="386" y="223" class="b dt" font-size="10.4" text-anchor="middle" fill="#222">Ø160</text>
<line x1="369" y1="226.7" x2="400" y2="226.7" class="tn" />
<line x1="371" y1="226.7" x2="371" y2="347.5" class="tn" /><path d="M371 347.5L369.4 342L372.6 342Z" fill="#333"/>
<path d="M371 239.5L372.6 245L369.4 245Z" fill="#333"/>
<line x1="190" y1="186" x2="190" y2="262" class="tn" />
<line x1="351.5" y1="222" x2="351.5" y2="240" class="tn" />
<line x1="540" y1="204" x2="540" y2="247" class="tn" />
<line x1="571.6" y1="186" x2="571.6" y2="260" class="tn" />
<line x1="244.4" y1="222" x2="244.4" y2="420" class="cl" />
<line x1="300" y1="293.3" x2="575" y2="293.3" class="cl" />
<line x1="168" y1="325.4" x2="345" y2="325.4" class="cl" />
<text x="166.5" y="251.6" class="b dt" font-size="10.4" text-anchor="middle" fill="#222">Ø200</text>
<line x1="152" y1="254" x2="183" y2="254" class="tn" />
<line x1="183" y1="254" x2="191" y2="264" class="tn" />
<line x1="150" y1="263.5" x2="188" y2="263.5" class="tn" />
<line x1="150" y1="380.5" x2="188" y2="380.5" class="tn" />
<line x1="155.4" y1="263.5" x2="155.4" y2="380.5" class="ln" /><path d="M155.4 263.5L157 269L153.8 269Z" fill="#333"/><path d="M155.4 380.5L153.8 375L157 375Z" fill="#333"/>
<rect x="144.32" y="317.89" width="20.35" height="9.36" fill="#fff"/><text x="154.5" y="326" class="b dt" font-size="10.4" text-anchor="middle" fill="#222">170</text>
<line x1="172.6" y1="325.4" x2="172.6" y2="380.5" class="ln" /><path d="M172.6 325.4L174.2 330.9L171 330.9Z" fill="#333"/><path d="M172.6 380.5L171 375L174.2 375Z" fill="#333"/>
<rect x="165.22" y="347.89" width="14.57" height="9.36" fill="#fff"/><text x="172.5" y="356" class="b dt" font-size="10.4" text-anchor="middle" fill="#222">80</text>
<line x1="188" y1="381" x2="188" y2="401" class="tn" />
<line x1="291.8" y1="381" x2="291.8" y2="401" class="tn" />
<line x1="188" y1="398.4" x2="291.8" y2="398.4" class="ln" /><path d="M188 398.4L193.5 396.8L193.5 400Z" fill="#333"/><path d="M291.8 398.4L286.3 400L286.3 396.8Z" fill="#333"/>
<text x="217" y="396" class="b dt" font-size="10.4" text-anchor="middle" fill="#222">145</text>
<line x1="191" y1="374" x2="159" y2="404" class="tn" />
<line x1="196" y1="381" x2="168" y2="409" class="tn" />
<line x1="153" y1="394" x2="175" y2="415" class="tn" />
<path d="M161.5 402L157.19 399.95L159.45 397.69Z" fill="#333"/>
<path d="M166.5 406.8L170.81 408.85L168.55 411.11Z" fill="#333"/>
<line x1="175" y1="415.5" x2="190" y2="415.5" class="tn" />
<text x="183" y="414" class="b dt" font-size="10.4" text-anchor="middle" fill="#222">12</text>
<line x1="284" y1="370" x2="313" y2="393" class="tn" />
<path d="M312.04 392.1A95 95 0 0 1 245.06 420.4" class="tn" />
<path d="M311.5 392.5L313.87 387.82L316.15 390.06Z" fill="#333"/>
<path d="M245 420.4L249.99 418.77L250.01 421.97Z" fill="#333"/>
<text x="283.5" y="415.6" class="b dt" font-size="10.4" text-anchor="middle" fill="#222">45°</text>
<line x1="189" y1="264" x2="301" y2="264" class="th" style="stroke-width:1.8"/>
<line x1="189.8" y1="264" x2="189.8" y2="282" class="ln" style="stroke-width:1.1"/>
<line x1="301" y1="264" x2="301" y2="284" class="ln" style="stroke-width:1.1"/>
<path d="M204 269.3 H285 L300.5 284 V365.5 L284 381.3 H204 L188 365.5 V284 Z" class="th" style="stroke:#262626;stroke-width:1.8;stroke-linejoin:round"/>
<rect x="190.05" y="276" width="20.5" height="8.6" rx="4.3" fill="#fff" stroke="#222" stroke-width="1.8" transform="rotate(45 200.3 280.3)"/>
<rect x="278.35" y="276" width="20.5" height="8.6" rx="4.3" fill="#fff" stroke="#222" stroke-width="1.8" transform="rotate(-45 288.6 280.3)"/>
<rect x="188.1" y="365.6" width="23" height="8.8" rx="4.4" fill="#fff" stroke="#222" stroke-width="1.8" transform="rotate(-45 199.6 370)"/>
<rect x="277.7" y="365.6" width="23" height="8.8" rx="4.4" fill="#fff" stroke="#222" stroke-width="1.8" transform="rotate(45 289.2 370)"/>
<rect x="190.22" y="270.92" width="8" height="6.6" fill="#fff" transform="rotate(45 194.22 274.22)"/>
<rect x="290.68" y="270.92" width="8" height="6.6" fill="#fff" transform="rotate(-45 294.68 274.22)"/>
<line x1="189.8" y1="264" x2="189.8" y2="282" class="ln" style="stroke-width:1.1"/>
<line x1="301" y1="264" x2="301" y2="284" class="ln" style="stroke-width:1.1"/>
<line x1="189" y1="264" x2="301" y2="264" class="th" style="stroke-width:1.8"/>
<line x1="196.06" y1="276.06" x2="204.54" y2="284.54" class="tn" style="stroke:#777;stroke-width:0.6"/>
<line x1="284.36" y1="284.54" x2="292.84" y2="276.06" class="tn" style="stroke:#777;stroke-width:0.6"/>
<line x1="195.36" y1="374.24" x2="203.84" y2="365.76" class="tn" style="stroke:#777;stroke-width:0.6"/>
<line x1="284.96" y1="365.76" x2="293.44" y2="374.24" class="tn" style="stroke:#777;stroke-width:0.6"/>
<circle cx="244.4" cy="325.4" r="48" class="tn" style="stroke:#444;stroke-width:0.7"/>
<circle cx="244.4" cy="325.4" r="34" class="tn" style="stroke:#444;stroke-width:0.8"/>
<circle cx="244.4" cy="325.4" r="31.5" class="tn" style="stroke:#444;stroke-width:0.8"/>
<circle cx="244.4" cy="325.4" r="19" class="tn" style="stroke:#444;stroke-width:0.8"/>
<circle cx="244.4" cy="325.4" r="12" class="tn" style="stroke:#444;stroke-width:0.8"/>
<circle cx="244.4" cy="325.4" r="4" class="ln" style="stroke:#222;stroke-width:1.5"/>
<rect x="228.5" y="321.5" width="3" height="8" class="tn" />
<line x1="188" y1="304.5" x2="300.5" y2="304.5" class="ln" /><path d="M188 304.5L193.5 302.9L193.5 306.1Z" fill="#333"/><path d="M300.5 304.5L295 306.1L295 302.9Z" fill="#333"/>
<rect x="253.12" y="293.39" width="20.35" height="9.36" fill="#fff"/><text x="263.3" y="301.5" class="b dt" font-size="10.4" text-anchor="middle" fill="#222">170</text>
<line x1="213.6" y1="264" x2="213.6" y2="380.5" class="ln" /><path d="M213.6 264L215.2 269.5L212 269.5Z" fill="#333"/><path d="M213.6 380.5L212 375L215.2 375Z" fill="#333"/>
<rect x="203.62" y="311.19" width="20.35" height="9.36" fill="#fff"/><text x="213.8" y="319.3" class="b dt" font-size="10.4" text-anchor="middle" fill="#222">170</text>
<path d="M301 264 L312.5 247.5 L335 247.5" class="th" style="stroke-width:1.6"/>
<line x1="301" y1="267" x2="334.5" y2="267" class="tn" />
<path d="M301 380.5 L345.5 377.7 L345.5 280" class="th" style="stroke-width:1.6"/>
<line x1="303" y1="368" x2="345" y2="368" class="tn" />
<line x1="303" y1="370.5" x2="345" y2="370.5" class="tn" />
<line x1="304" y1="270" x2="304" y2="376" class="tn" />
<path d="M335 247.5 L335 239 L357 239 L357 253 L363.3 262.9 L377.7 262.9 L384 255.2 L384 244.9 L398.4 244.9 L398.4 256.1 L409.7 256.1 L409.7 248" class="th" style="stroke-width:1.6"/>
<path d="M335 239 L335 279.5 L345.5 279.5" class="th" style="stroke-width:1.6"/>
<path d="M345.5 347.5 L357 347.5 L357 331.7 L362.9 324 L377.7 324 L384 331.7 L384 341.6 L399.3 341.6 L399.3 330.4 L409.7 330.4 L409.7 338.5" class="th" style="stroke-width:1.6"/>
<line x1="352" y1="239" x2="352" y2="347.5" class="tn" />
<line x1="353.9" y1="239" x2="353.9" y2="347.5" class="tn" />
<rect x="349.4" y="275.5" width="2" height="19.3" class="tn" />
<line x1="384" y1="244.9" x2="384" y2="341.6" class="tn" />
<line x1="392" y1="244.9" x2="392" y2="341.6" class="tn" />
<line x1="393" y1="244.9" x2="393" y2="341.6" class="tn" />
<line x1="398.4" y1="256" x2="398.4" y2="331" class="tn" />
<line x1="402" y1="244.9" x2="402" y2="341.6" class="tn" /><path d="M402 244.9L403.6 250.4L400.4 250.4Z" fill="#333"/><path d="M402 341.6L400.4 336.1L403.6 336.1Z" fill="#333"/>
<rect x="393.28" y="274.59" width="18.03" height="9.36" fill="#fff"/><text x="402.3" y="282.7" class="b dt" font-size="10.4" text-anchor="middle" fill="#222">m1</text>
<rect x="410.5" y="248" width="92.2" height="89.8" class="th" style="stroke-width:1.6;fill:#fff"/>
<line x1="419" y1="277.2" x2="502" y2="277.2" class="ln" style="stroke:#3a3a3a;stroke-width:1.3"/>
<line x1="419" y1="281.4" x2="502" y2="281.4" class="ln" style="stroke:#3a3a3a;stroke-width:1.3"/>
<line x1="419" y1="285.6" x2="502" y2="285.6" class="ln" style="stroke:#3a3a3a;stroke-width:1.3"/>
<line x1="419" y1="300.8" x2="502" y2="300.8" class="ln" style="stroke:#3a3a3a;stroke-width:1.3"/>
<line x1="419" y1="305" x2="502" y2="305" class="ln" style="stroke:#3a3a3a;stroke-width:1.3"/>
<line x1="419" y1="309.7" x2="502" y2="309.7" class="ln" style="stroke:#3a3a3a;stroke-width:1.3"/>
<line x1="419" y1="289.6" x2="502" y2="289.6" class="ln" style="stroke:#2a2a2a;stroke-width:1.6"/>
<line x1="419" y1="297" x2="502" y2="297" class="ln" style="stroke:#2a2a2a;stroke-width:1.6"/>
<line x1="419" y1="266.2" x2="502" y2="266.2" class="ln" style="stroke:#444;stroke-width:1"/>
<line x1="419" y1="272" x2="502" y2="272" class="ln" style="stroke:#444;stroke-width:1"/>
<line x1="419" y1="314.8" x2="502" y2="314.8" class="ln" style="stroke:#444;stroke-width:1"/>
<line x1="419" y1="318.6" x2="502" y2="318.6" class="ln" style="stroke:#444;stroke-width:1"/>
<circle cx="446.2" cy="285.6" r="1.3" class="ln" style="fill:#fff;stroke:#333;stroke-width:0.8"/>
<circle cx="475.2" cy="285.6" r="1.3" class="ln" style="fill:#fff;stroke:#333;stroke-width:0.8"/>
<path d="M423.4 289.6 Q421.5 293.3 423.4 297" class="ln" style="stroke:#444;stroke-width:1"/>
<path d="M498 289.6 Q500 293.3 498 297" class="ln" style="stroke:#444;stroke-width:1"/>
<line x1="415.5" y1="248" x2="415.5" y2="337.5" class="tn" />
<rect x="410.8" y="289.8" width="7.9" height="7.4" class="tn" />
<path d="M418.6 248 L418.6 259 Q419 262 423 262 L468 262" class="ln" style="stroke:#333;stroke-width:1"/>
<path d="M468 253 L500 253" class="tn" />
<path d="M468 262 L475 262 L481 253" class="tn" />
<rect x="468.5" y="259.8" width="4.5" height="1.8" class="ln" style="fill:#222;stroke:none"/>
<path d="M418.6 323.9 Q419 327 423 327 L502 327" class="ln" style="stroke:#333;stroke-width:1"/>
<line x1="429" y1="329" x2="492" y2="329" class="tn" />
<rect x="429.2" y="262.5" width="12.3" height="13.5" class="ln" style="fill:#fff;stroke:#333;stroke-width:1"/>
<circle cx="435.4" cy="269.2" r="1.2" class="ln" style="stroke-width:0.8"/>
<rect x="479.6" y="262.5" width="12.3" height="13.5" class="ln" style="fill:#fff;stroke:#333;stroke-width:1"/>
<circle cx="485.8" cy="269.2" r="1.2" class="ln" style="stroke-width:0.8"/>
<rect x="429.2" y="310.7" width="12.3" height="13.5" class="ln" style="fill:#fff;stroke:#333;stroke-width:1"/>
<circle cx="435.4" cy="317.4" r="1.2" class="ln" style="stroke-width:0.8"/>
<rect x="479.6" y="310.7" width="12.3" height="13.5" class="ln" style="fill:#fff;stroke:#333;stroke-width:1"/>
<circle cx="485.8" cy="317.4" r="1.2" class="ln" style="stroke-width:0.8"/>
<line x1="441.5" y1="263.6" x2="479.6" y2="263.6" class="tn" />
<line x1="441.5" y1="272.5" x2="479.6" y2="272.5" class="ln" style="stroke:#444;stroke-width:1"/>
<line x1="441.5" y1="318.6" x2="479.6" y2="318.6" class="ln" style="stroke:#444;stroke-width:1"/>
<rect x="418.1" y="225.8" width="49.7" height="22.2" class="th" style="stroke-width:1.7;fill:#fff"/>
<line x1="419" y1="228" x2="467" y2="228" class="ln" style="stroke:#333;stroke-width:0.9"/>
<line x1="421" y1="230.5" x2="465" y2="230.5" class="tn" />
<line x1="421.5" y1="230.5" x2="421.5" y2="248" class="tn" />
<line x1="464.5" y1="230.5" x2="464.5" y2="248" class="tn" />
<polygon points="439.70,239.40 436.10,245.64 428.90,245.64 425.30,239.40 428.90,233.16 436.10,233.16" fill="#fff" stroke="#333" stroke-width="1.1"/>
<circle cx="432.5" cy="239.4" r="6.2" class="ln" style="stroke:#333;stroke-width:0.9"/>
<circle cx="432.5" cy="239.4" r="3" class="ln" style="stroke:#333;stroke-width:1"/>
<polygon points="460.70,239.40 457.10,245.64 449.90,245.64 446.30,239.40 449.90,233.16 457.10,233.16" fill="#fff" stroke="#333" stroke-width="1.1"/>
<circle cx="453.5" cy="239.4" r="6.2" class="ln" style="stroke:#333;stroke-width:0.9"/>
<circle cx="453.5" cy="239.4" r="3" class="ln" style="stroke:#333;stroke-width:1"/>
<path d="M502.7 247 L527.3 247 L540 260 L540 327.3 L527.3 339.2 L502.7 339.2 Z" class="th" style="stroke-width:1.7;fill:#fff"/>
<path d="M527.3 247 L559.7 247 L570.7 260.2 L570.7 327 L559.7 339 L527.3 339" class="ln" style="stroke:#999;stroke-width:0.8"/>
<line x1="520" y1="248.5" x2="520" y2="338" class="ln" /><path d="M520 248.5L521.6 254L518.4 254Z" fill="#333"/><path d="M520 338L518.4 332.5L521.6 332.5Z" fill="#333"/>
<rect x="515.02" y="281.89" width="9.35" height="9.36" fill="#fff"/><text x="519.7" y="290" class="b dt" font-size="10.4" text-anchor="middle" fill="#222">n</text>
<line x1="468" y1="226.2" x2="558" y2="226.2" class="tn" />
<line x1="555" y1="226.2" x2="555" y2="293.3" class="ln" /><path d="M555 226.2L556.6 231.7L553.4 231.7Z" fill="#333"/><path d="M555 293.3L553.4 287.8L556.6 287.8Z" fill="#333"/>
<rect x="546.93" y="263.49" width="15.14" height="9.36" fill="#fff"/><text x="554.5" y="271.6" class="b dt" font-size="10.4" text-anchor="middle" fill="#222">n1</text>
<text x="321" y="285" class="b dt" font-size="10.4" text-anchor="middle" fill="#222">Ø165</text>
<line x1="306" y1="288" x2="336" y2="288" class="tn" />
<line x1="306" y1="288" x2="292" y2="296" class="tn" />
<line x1="326.6" y1="294" x2="326.6" y2="325" class="ln" /><path d="M326.6 294L328.2 299.5L325 299.5Z" fill="#333"/><path d="M326.6 325L325 319.5L328.2 319.5Z" fill="#333"/>
<rect x="313.88" y="304.49" width="23.24" height="9.36" fill="#fff"/><text x="325.5" y="312.6" class="b dt" font-size="10.4" text-anchor="middle" fill="#222">44.5</text>
<g transform="translate(0,598)"><line x1="190" y1="191" x2="571.6" y2="191" class="ln" /><path d="M190 191L195.5 189.4L195.5 192.6Z" fill="#333"/><path d="M571.6 191L566.1 192.6L566.1 189.4Z" fill="#333"/>
<text x="381" y="188.5" class="b dt" font-size="10.4" text-anchor="middle" fill="#222">k1</text>
<text x="386" y="184.6" class="b dt" font-size="21" text-anchor="start" fill="#222">*</text>
<line x1="190" y1="208.5" x2="540" y2="208.5" class="ln" /><path d="M190 208.5L195.5 206.9L195.5 210.1Z" fill="#333"/><path d="M540 208.5L534.5 210.1L534.5 206.9Z" fill="#333"/>
<text x="364" y="205.5" class="b dt" font-size="10.4" text-anchor="middle" fill="#222">k</text>
<line x1="190" y1="227" x2="244.4" y2="227" class="ln" /><path d="M190 227L195.5 225.4L195.5 228.6Z" fill="#333"/><path d="M244.4 227L238.9 228.6L238.9 225.4Z" fill="#333"/>
<text x="216.8" y="224" class="b dt" font-size="10.4" text-anchor="middle" fill="#222">80</text>
<line x1="244.4" y1="227" x2="351.5" y2="227" class="ln" /><path d="M244.4 227L249.9 225.4L249.9 228.6Z" fill="#333"/><path d="M351.5 227L346 228.6L346 225.4Z" fill="#333"/>
<text x="298" y="224" class="b dt" font-size="10.4" text-anchor="middle" fill="#222">152</text>
<text x="386" y="223" class="b dt" font-size="10.4" text-anchor="middle" fill="#222">Ø160</text>
<line x1="369" y1="226.7" x2="400" y2="226.7" class="tn" />
<line x1="371" y1="226.7" x2="371" y2="347.5" class="tn" /><path d="M371 347.5L369.4 342L372.6 342Z" fill="#333"/>
<path d="M371 239.5L372.6 245L369.4 245Z" fill="#333"/>
<line x1="190" y1="186" x2="190" y2="262" class="tn" />
<line x1="351.5" y1="222" x2="351.5" y2="240" class="tn" />
<line x1="540" y1="204" x2="540" y2="247" class="tn" />
<line x1="571.6" y1="186" x2="571.6" y2="260" class="tn" />
<line x1="244.4" y1="222" x2="244.4" y2="420" class="cl" />
<line x1="300" y1="293.3" x2="575" y2="293.3" class="cl" />
<line x1="168" y1="325.4" x2="345" y2="325.4" class="cl" />
<text x="166.5" y="251.6" class="b dt" font-size="10.4" text-anchor="middle" fill="#222">Ø200</text>
<line x1="152" y1="254" x2="183" y2="254" class="tn" />
<line x1="183" y1="254" x2="191" y2="264" class="tn" />
<line x1="150" y1="263.5" x2="188" y2="263.5" class="tn" />
<line x1="150" y1="380.5" x2="188" y2="380.5" class="tn" />
<line x1="155.4" y1="263.5" x2="155.4" y2="380.5" class="ln" /><path d="M155.4 263.5L157 269L153.8 269Z" fill="#333"/><path d="M155.4 380.5L153.8 375L157 375Z" fill="#333"/>
<rect x="144.32" y="317.89" width="20.35" height="9.36" fill="#fff"/><text x="154.5" y="326" class="b dt" font-size="10.4" text-anchor="middle" fill="#222">170</text>
<line x1="172.6" y1="325.4" x2="172.6" y2="380.5" class="ln" /><path d="M172.6 325.4L174.2 330.9L171 330.9Z" fill="#333"/><path d="M172.6 380.5L171 375L174.2 375Z" fill="#333"/>
<rect x="165.22" y="347.89" width="14.57" height="9.36" fill="#fff"/><text x="172.5" y="356" class="b dt" font-size="10.4" text-anchor="middle" fill="#222">80</text>
<line x1="188" y1="381" x2="188" y2="401" class="tn" />
<line x1="291.8" y1="381" x2="291.8" y2="401" class="tn" />
<line x1="188" y1="398.4" x2="291.8" y2="398.4" class="ln" /><path d="M188 398.4L193.5 396.8L193.5 400Z" fill="#333"/><path d="M291.8 398.4L286.3 400L286.3 396.8Z" fill="#333"/>
<text x="217" y="396" class="b dt" font-size="10.4" text-anchor="middle" fill="#222">145</text>
<line x1="191" y1="374" x2="159" y2="404" class="tn" />
<line x1="196" y1="381" x2="168" y2="409" class="tn" />
<line x1="153" y1="394" x2="175" y2="415" class="tn" />
<path d="M161.5 402L157.19 399.95L159.45 397.69Z" fill="#333"/>
<path d="M166.5 406.8L170.81 408.85L168.55 411.11Z" fill="#333"/>
<line x1="175" y1="415.5" x2="190" y2="415.5" class="tn" />
<text x="183" y="414" class="b dt" font-size="10.4" text-anchor="middle" fill="#222">12</text>
<line x1="284" y1="370" x2="313" y2="393" class="tn" />
<path d="M312.04 392.1A95 95 0 0 1 245.06 420.4" class="tn" />
<path d="M311.5 392.5L313.87 387.82L316.15 390.06Z" fill="#333"/>
<path d="M245 420.4L249.99 418.77L250.01 421.97Z" fill="#333"/>
<text x="283.5" y="415.6" class="b dt" font-size="10.4" text-anchor="middle" fill="#222">45°</text>
<line x1="189" y1="264" x2="301" y2="264" class="th" style="stroke-width:1.8"/>
<line x1="189.8" y1="264" x2="189.8" y2="282" class="ln" style="stroke-width:1.1"/>
<line x1="301" y1="264" x2="301" y2="284" class="ln" style="stroke-width:1.1"/>
<path d="M204 269.3 H285 L300.5 284 V365.5 L284 381.3 H204 L188 365.5 V284 Z" class="th" style="stroke:#262626;stroke-width:1.8;stroke-linejoin:round"/>
<rect x="190.05" y="276" width="20.5" height="8.6" rx="4.3" fill="#fff" stroke="#222" stroke-width="1.8" transform="rotate(45 200.3 280.3)"/>
<rect x="278.35" y="276" width="20.5" height="8.6" rx="4.3" fill="#fff" stroke="#222" stroke-width="1.8" transform="rotate(-45 288.6 280.3)"/>
<rect x="188.1" y="365.6" width="23" height="8.8" rx="4.4" fill="#fff" stroke="#222" stroke-width="1.8" transform="rotate(-45 199.6 370)"/>
<rect x="277.7" y="365.6" width="23" height="8.8" rx="4.4" fill="#fff" stroke="#222" stroke-width="1.8" transform="rotate(45 289.2 370)"/>
<rect x="190.22" y="270.92" width="8" height="6.6" fill="#fff" transform="rotate(45 194.22 274.22)"/>
<rect x="290.68" y="270.92" width="8" height="6.6" fill="#fff" transform="rotate(-45 294.68 274.22)"/>
<line x1="189.8" y1="264" x2="189.8" y2="282" class="ln" style="stroke-width:1.1"/>
<line x1="301" y1="264" x2="301" y2="284" class="ln" style="stroke-width:1.1"/>
<line x1="189" y1="264" x2="301" y2="264" class="th" style="stroke-width:1.8"/>
<line x1="196.06" y1="276.06" x2="204.54" y2="284.54" class="tn" style="stroke:#777;stroke-width:0.6"/>
<line x1="284.36" y1="284.54" x2="292.84" y2="276.06" class="tn" style="stroke:#777;stroke-width:0.6"/>
<line x1="195.36" y1="374.24" x2="203.84" y2="365.76" class="tn" style="stroke:#777;stroke-width:0.6"/>
<line x1="284.96" y1="365.76" x2="293.44" y2="374.24" class="tn" style="stroke:#777;stroke-width:0.6"/>
<circle cx="244.4" cy="325.4" r="48" class="tn" style="stroke:#444;stroke-width:0.7"/>
<circle cx="244.4" cy="325.4" r="34" class="tn" style="stroke:#444;stroke-width:0.8"/>
<circle cx="244.4" cy="325.4" r="31.5" class="tn" style="stroke:#444;stroke-width:0.8"/>
<circle cx="244.4" cy="325.4" r="19" class="tn" style="stroke:#444;stroke-width:0.8"/>
<circle cx="244.4" cy="325.4" r="12" class="tn" style="stroke:#444;stroke-width:0.8"/>
<circle cx="244.4" cy="325.4" r="4" class="ln" style="stroke:#222;stroke-width:1.5"/>
<rect x="228.5" y="321.5" width="3" height="8" class="tn" />
<line x1="188" y1="304.5" x2="300.5" y2="304.5" class="ln" /><path d="M188 304.5L193.5 302.9L193.5 306.1Z" fill="#333"/><path d="M300.5 304.5L295 306.1L295 302.9Z" fill="#333"/>
<rect x="253.12" y="293.39" width="20.35" height="9.36" fill="#fff"/><text x="263.3" y="301.5" class="b dt" font-size="10.4" text-anchor="middle" fill="#222">170</text>
<line x1="213.6" y1="264" x2="213.6" y2="380.5" class="ln" /><path d="M213.6 264L215.2 269.5L212 269.5Z" fill="#333"/><path d="M213.6 380.5L212 375L215.2 375Z" fill="#333"/>
<rect x="203.62" y="311.19" width="20.35" height="9.36" fill="#fff"/><text x="213.8" y="319.3" class="b dt" font-size="10.4" text-anchor="middle" fill="#222">170</text>
<path d="M301 264 L312.5 247.5 L335 247.5" class="th" style="stroke-width:1.6"/>
<line x1="301" y1="267" x2="334.5" y2="267" class="tn" />
<path d="M301 380.5 L345.5 377.7 L345.5 280" class="th" style="stroke-width:1.6"/>
<line x1="303" y1="368" x2="345" y2="368" class="tn" />
<line x1="303" y1="370.5" x2="345" y2="370.5" class="tn" />
<line x1="304" y1="270" x2="304" y2="376" class="tn" />
<path d="M335 247.5 L335 239 L357 239 L357 253 L363.3 262.9 L377.7 262.9 L384 255.2 L384 244.9 L398.4 244.9 L398.4 256.1 L409.7 256.1 L409.7 248" class="th" style="stroke-width:1.6"/>
<path d="M335 239 L335 279.5 L345.5 279.5" class="th" style="stroke-width:1.6"/>
<path d="M345.5 347.5 L357 347.5 L357 331.7 L362.9 324 L377.7 324 L384 331.7 L384 341.6 L399.3 341.6 L399.3 330.4 L409.7 330.4 L409.7 338.5" class="th" style="stroke-width:1.6"/>
<line x1="352" y1="239" x2="352" y2="347.5" class="tn" />
<line x1="353.9" y1="239" x2="353.9" y2="347.5" class="tn" />
<rect x="349.4" y="275.5" width="2" height="19.3" class="tn" />
<line x1="384" y1="244.9" x2="384" y2="341.6" class="tn" />
<line x1="392" y1="244.9" x2="392" y2="341.6" class="tn" />
<line x1="393" y1="244.9" x2="393" y2="341.6" class="tn" />
<line x1="398.4" y1="256" x2="398.4" y2="331" class="tn" />
<line x1="402" y1="244.9" x2="402" y2="341.6" class="tn" /><path d="M402 244.9L403.6 250.4L400.4 250.4Z" fill="#333"/><path d="M402 341.6L400.4 336.1L403.6 336.1Z" fill="#333"/>
<rect x="393.28" y="274.59" width="18.03" height="9.36" fill="#fff"/><text x="402.3" y="282.7" class="b dt" font-size="10.4" text-anchor="middle" fill="#222">m1</text>
<rect x="410.5" y="248" width="92.2" height="89.8" class="th" style="stroke-width:1.6;fill:#fff"/>
<line x1="419" y1="277.2" x2="502" y2="277.2" class="ln" style="stroke:#3a3a3a;stroke-width:1.3"/>
<line x1="419" y1="281.4" x2="502" y2="281.4" class="ln" style="stroke:#3a3a3a;stroke-width:1.3"/>
<line x1="419" y1="285.6" x2="502" y2="285.6" class="ln" style="stroke:#3a3a3a;stroke-width:1.3"/>
<line x1="419" y1="300.8" x2="502" y2="300.8" class="ln" style="stroke:#3a3a3a;stroke-width:1.3"/>
<line x1="419" y1="305" x2="502" y2="305" class="ln" style="stroke:#3a3a3a;stroke-width:1.3"/>
<line x1="419" y1="309.7" x2="502" y2="309.7" class="ln" style="stroke:#3a3a3a;stroke-width:1.3"/>
<line x1="419" y1="289.6" x2="502" y2="289.6" class="ln" style="stroke:#2a2a2a;stroke-width:1.6"/>
<line x1="419" y1="297" x2="502" y2="297" class="ln" style="stroke:#2a2a2a;stroke-width:1.6"/>
<line x1="419" y1="266.2" x2="502" y2="266.2" class="ln" style="stroke:#444;stroke-width:1"/>
<line x1="419" y1="272" x2="502" y2="272" class="ln" style="stroke:#444;stroke-width:1"/>
<line x1="419" y1="314.8" x2="502" y2="314.8" class="ln" style="stroke:#444;stroke-width:1"/>
<line x1="419" y1="318.6" x2="502" y2="318.6" class="ln" style="stroke:#444;stroke-width:1"/>
<circle cx="446.2" cy="285.6" r="1.3" class="ln" style="fill:#fff;stroke:#333;stroke-width:0.8"/>
<circle cx="475.2" cy="285.6" r="1.3" class="ln" style="fill:#fff;stroke:#333;stroke-width:0.8"/>
<path d="M423.4 289.6 Q421.5 293.3 423.4 297" class="ln" style="stroke:#444;stroke-width:1"/>
<path d="M498 289.6 Q500 293.3 498 297" class="ln" style="stroke:#444;stroke-width:1"/>
<line x1="415.5" y1="248" x2="415.5" y2="337.5" class="tn" />
<rect x="410.8" y="289.8" width="7.9" height="7.4" class="tn" />
<path d="M418.6 248 L418.6 259 Q419 262 423 262 L468 262" class="ln" style="stroke:#333;stroke-width:1"/>
<path d="M468 253 L500 253" class="tn" />
<path d="M468 262 L475 262 L481 253" class="tn" />
<rect x="468.5" y="259.8" width="4.5" height="1.8" class="ln" style="fill:#222;stroke:none"/>
<path d="M418.6 323.9 Q419 327 423 327 L502 327" class="ln" style="stroke:#333;stroke-width:1"/>
<line x1="429" y1="329" x2="492" y2="329" class="tn" />
<rect x="429.2" y="262.5" width="12.3" height="13.5" class="ln" style="fill:#fff;stroke:#333;stroke-width:1"/>
<circle cx="435.4" cy="269.2" r="1.2" class="ln" style="stroke-width:0.8"/>
<rect x="479.6" y="262.5" width="12.3" height="13.5" class="ln" style="fill:#fff;stroke:#333;stroke-width:1"/>
<circle cx="485.8" cy="269.2" r="1.2" class="ln" style="stroke-width:0.8"/>
<rect x="429.2" y="310.7" width="12.3" height="13.5" class="ln" style="fill:#fff;stroke:#333;stroke-width:1"/>
<circle cx="435.4" cy="317.4" r="1.2" class="ln" style="stroke-width:0.8"/>
<rect x="479.6" y="310.7" width="12.3" height="13.5" class="ln" style="fill:#fff;stroke:#333;stroke-width:1"/>
<circle cx="485.8" cy="317.4" r="1.2" class="ln" style="stroke-width:0.8"/>
<line x1="441.5" y1="263.6" x2="479.6" y2="263.6" class="tn" />
<line x1="441.5" y1="272.5" x2="479.6" y2="272.5" class="ln" style="stroke:#444;stroke-width:1"/>
<line x1="441.5" y1="318.6" x2="479.6" y2="318.6" class="ln" style="stroke:#444;stroke-width:1"/>
<rect x="418.1" y="225.8" width="49.7" height="22.2" class="th" style="stroke-width:1.7;fill:#fff"/>
<line x1="419" y1="228" x2="467" y2="228" class="ln" style="stroke:#333;stroke-width:0.9"/>
<line x1="421" y1="230.5" x2="465" y2="230.5" class="tn" />
<line x1="421.5" y1="230.5" x2="421.5" y2="248" class="tn" />
<line x1="464.5" y1="230.5" x2="464.5" y2="248" class="tn" />
<polygon points="439.70,239.40 436.10,245.64 428.90,245.64 425.30,239.40 428.90,233.16 436.10,233.16" fill="#fff" stroke="#333" stroke-width="1.1"/>
<circle cx="432.5" cy="239.4" r="6.2" class="ln" style="stroke:#333;stroke-width:0.9"/>
<circle cx="432.5" cy="239.4" r="3" class="ln" style="stroke:#333;stroke-width:1"/>
<polygon points="460.70,239.40 457.10,245.64 449.90,245.64 446.30,239.40 449.90,233.16 457.10,233.16" fill="#fff" stroke="#333" stroke-width="1.1"/>
<circle cx="453.5" cy="239.4" r="6.2" class="ln" style="stroke:#333;stroke-width:0.9"/>
<circle cx="453.5" cy="239.4" r="3" class="ln" style="stroke:#333;stroke-width:1"/>
<path d="M502.7 247 L527.3 247 L540 260 L540 327.3 L527.3 339.2 L502.7 339.2 Z" class="th" style="stroke-width:1.7;fill:#fff"/>
<path d="M527.3 247 L559.7 247 L570.7 260.2 L570.7 327 L559.7 339 L527.3 339" class="ln" style="stroke:#999;stroke-width:0.8"/>
<line x1="520" y1="248.5" x2="520" y2="338" class="ln" /><path d="M520 248.5L521.6 254L518.4 254Z" fill="#333"/><path d="M520 338L518.4 332.5L521.6 332.5Z" fill="#333"/>
<rect x="515.02" y="281.89" width="9.35" height="9.36" fill="#fff"/><text x="519.7" y="290" class="b dt" font-size="10.4" text-anchor="middle" fill="#222">n</text>
<line x1="468" y1="226.2" x2="558" y2="226.2" class="tn" />
<line x1="555" y1="226.2" x2="555" y2="293.3" class="ln" /><path d="M555 226.2L556.6 231.7L553.4 231.7Z" fill="#333"/><path d="M555 293.3L553.4 287.8L556.6 287.8Z" fill="#333"/>
<rect x="546.93" y="263.49" width="15.14" height="9.36" fill="#fff"/><text x="554.5" y="271.6" class="b dt" font-size="10.4" text-anchor="middle" fill="#222">n1</text>
<text x="321" y="285" class="b dt" font-size="10.4" text-anchor="middle" fill="#222">Ø165</text>
<line x1="306" y1="288" x2="336" y2="288" class="tn" />
<line x1="306" y1="288" x2="292" y2="296" class="tn" />
<line x1="326.6" y1="294" x2="326.6" y2="325" class="ln" /><path d="M326.6 294L328.2 299.5L325 299.5Z" fill="#333"/><path d="M326.6 325L325 319.5L328.2 319.5Z" fill="#333"/>
<rect x="313.88" y="304.49" width="23.24" height="9.36" fill="#fff"/><text x="325.5" y="312.6" class="b dt" font-size="10.4" text-anchor="middle" fill="#222">44.5</text></g>
<circle cx="745" cy="293" r="89" class="tn" style="stroke:#555;stroke-width:0.7"/>
<line x1="745" y1="200" x2="745" y2="398" class="cl" />
<line x1="680" y1="325.5" x2="840" y2="325.5" class="cl" />
<path d="M717.6 246 L717.6 226 Q745 221.5 772.8 226 L772.8 246" class="th" style="stroke:#222;stroke-width:1.7"/>
<line x1="718" y1="229" x2="772" y2="229" class="tn" />
<path d="M772.8 230 L785 230 Q789 231 789 238 Q789 245 785 246 L772.8 246" class="ln" style="stroke:#333;stroke-width:1.1"/>
<line x1="777" y1="230" x2="777" y2="246" class="tn" />
<line x1="781" y1="230" x2="781" y2="246" class="tn" />
<line x1="773" y1="238" x2="789" y2="238" class="tn" />
<path d="M716.07 247.68A66 66 0 0 1 787.42 256.44" class="tn" style="stroke:#444;stroke-width:0.8"/>
<path d="M695.7 362 Q684.5 335 686.3 305 Q690 255 745 247.2 Q784 249 794 272.7" class="th" style="stroke:#222;stroke-width:1.7"/>
<line x1="699.5" y1="264.7" x2="791.7" y2="264.7" class="ln" style="stroke:#333;stroke-width:1.1"/>
<line x1="699.5" y1="267.5" x2="791.7" y2="267.5" class="tn" />
<line x1="699.5" y1="264.7" x2="699.5" y2="379" class="th" style="stroke:#222;stroke-width:1.4"/>
<line x1="791.7" y1="264.7" x2="791.7" y2="379" class="th" style="stroke:#222;stroke-width:1.4"/>
<path d="M692 290 Q690 292 690 296 L690 336 Q690 341 694 341" class="tn" />
<line x1="697" y1="290" x2="697" y2="360" class="tn" />
<line x1="696.4" y1="379" x2="792" y2="379" class="th" style="stroke:#222;stroke-width:1.8"/>
<path d="M696.4 379 L696.4 371 L699.5 369" class="ln" style="stroke:#333;stroke-width:1.1"/>
<path d="M792 379 L792 371 L789 369" class="ln" style="stroke:#333;stroke-width:1.1"/>
<path d="M716 265 L716 293.3 L703.2 309 L703.2 342 L715.5 358 L715.5 379" class="ln" style="stroke:#333;stroke-width:1.1" stroke-linejoin="round"/>
<path d="M774 265 L774 293.3 L786.8 309 L786.8 342 L774.5 358 L774.5 379" class="ln" style="stroke:#333;stroke-width:1.1" stroke-linejoin="round"/>
<path d="M728.75 297 L728.75 277.5 L759.5 277.5 L759.5 297 L773.75 311 L773.75 339 L760 353 L760 366 L729 366 L729 353 L715.5 339 L715.5 311 Z" class="ln" style="stroke:#222;stroke-width:1.3"/>
<line x1="705.5" y1="287" x2="783.5" y2="287" class="tn" />
<line x1="699.5" y1="293.2" x2="791.7" y2="293.2" class="cl" />
<line x1="705.5" y1="363.75" x2="783.5" y2="363.75" class="tn" />
<circle cx="705.5" cy="286.5" r="4" class="ln" style="stroke:#333;stroke-width:0.9"/><line x1="699.5" y1="286.5" x2="711.5" y2="286.5" class="tn" /><line x1="705.5" y1="280.5" x2="705.5" y2="292.5" class="tn" />
<circle cx="783.5" cy="286.5" r="4" class="ln" style="stroke:#333;stroke-width:0.9"/><line x1="777.5" y1="286.5" x2="789.5" y2="286.5" class="tn" /><line x1="783.5" y1="280.5" x2="783.5" y2="292.5" class="tn" />
<circle cx="705.5" cy="363.75" r="4" class="ln" style="stroke:#333;stroke-width:0.9"/><line x1="699.5" y1="363.75" x2="711.5" y2="363.75" class="tn" /><line x1="705.5" y1="357.75" x2="705.5" y2="369.75" class="tn" />
<circle cx="783.5" cy="363.75" r="4" class="ln" style="stroke:#333;stroke-width:0.9"/><line x1="777.5" y1="363.75" x2="789.5" y2="363.75" class="tn" /><line x1="783.5" y1="357.75" x2="783.5" y2="369.75" class="tn" />
<line x1="753.5" y1="288" x2="753.5" y2="325.5" class="tn" /><path d="M753.5 325.5L751.9 320L755.1 320Z" fill="#333"/>
<rect x="746.22" y="300.89" width="14.57" height="9.36" fill="#fff"/><text x="753.5" y="309" class="b dt" font-size="10.4" text-anchor="middle" fill="#222">55</text>
<line x1="734.75" y1="288" x2="734.75" y2="361.5" class="tn" /><path d="M734.75 288L736.35 293.5L733.15 293.5Z" fill="#333"/><path d="M734.75 361.5L733.15 356L736.35 356Z" fill="#333"/>
<rect x="724.86" y="332.09" width="19.78" height="9.36" fill="#fff"/><text x="734.75" y="340.2" class="b dt" font-size="10.4" text-anchor="middle" fill="#222">110</text>
<path d="M794 272.7 L809.3 272.7 L809.3 268.9 L818.2 268.9 L818.2 277.2 L820.7 277.2" class="th" style="stroke:#222;stroke-width:1.7"/>
<path d="M794 377.3 L809.3 377.3 L809.3 381.1 L818.2 381.1 L818.2 372.8 L820.7 372.8" class="th" style="stroke:#222;stroke-width:1.7"/>
<line x1="820.7" y1="277.2" x2="820.7" y2="372.8" class="th" style="stroke:#222;stroke-width:1.7"/>
<line x1="796" y1="272.7" x2="796" y2="377.3" class="tn" />
<line x1="807.4" y1="272.7" x2="807.4" y2="300" class="tn" />
<line x1="811.2" y1="272.7" x2="811.2" y2="300" class="tn" />
<line x1="807.4" y1="350" x2="807.4" y2="377.3" class="tn" />
<line x1="811.2" y1="350" x2="811.2" y2="377.3" class="tn" />
<path d="M792.7 300.7 Q806 296 818.2 300.7" class="ln" style="stroke:#333;stroke-width:1.1"/>
<path d="M792.7 349.3 Q806 354 818.2 349.3" class="ln" style="stroke:#333;stroke-width:1.1"/>
<rect x="796.5" y="307.7" width="21.7" height="34.3" class="ln" style="stroke:#333;stroke-width:1.1"/>
<line x1="799" y1="309" x2="799" y2="340" class="tn" />
<line x1="818.2" y1="204" x2="818.2" y2="268.9" class="tn" />
<line x1="745" y1="208.5" x2="818.2" y2="208.5" class="ln" /><path d="M745 208.5L750.5 206.9L750.5 210.1Z" fill="#333"/><path d="M818.2 208.5L812.7 210.1L812.7 206.9Z" fill="#333"/>
<text x="781" y="205.9" class="b dt" font-size="10.4" text-anchor="middle" fill="#222">101</text>
<line x1="797.8" y1="243.4" x2="845" y2="243.4" class="tn" />
<path d="M809.3 243.4L803.8 245L803.8 241.8Z" fill="#333"/>
<path d="M818.2 243.4L823.7 241.8L823.7 245Z" fill="#333"/>
<text x="837" y="240.9" class="b dt" font-size="10.4" text-anchor="middle" fill="#222">10</text>
<line x1="809.3" y1="240" x2="809.3" y2="268.9" class="tn" />
<line x1="806.7" y1="258" x2="852.5" y2="258" class="tn" />
<path d="M818.2 258L812.7 259.6L812.7 256.4Z" fill="#333"/>
<path d="M820.7 258L826.2 256.4L826.2 259.6Z" fill="#333"/>
<text x="842.3" y="255.5" class="b dt" font-size="10.4" text-anchor="middle" fill="#222">3.5</text>
<line x1="820.7" y1="255" x2="820.7" y2="277.2" class="tn" />
<line x1="820.7" y1="277.2" x2="849" y2="277.2" class="tn" />
<line x1="820.7" y1="372.8" x2="849" y2="372.8" class="tn" />
<line x1="846.2" y1="277.2" x2="846.2" y2="372.8" class="tn" /><path d="M846.2 277.2L847.8 282.7L844.6 282.7Z" fill="#333"/><path d="M846.2 372.8L844.6 367.3L847.8 367.3Z" fill="#333"/>
<rect x="831.78" y="354.89" width="28.44" height="9.36" fill="#fff"/><text x="846" y="363" class="b dt" font-size="10.4" text-anchor="middle" fill="#222">Ø130</text>
<text x="864.2" y="346.5" class="b dt" font-size="8.2" text-anchor="middle" fill="#222">-0.01</text>
<text x="864.2" y="354.2" class="b dt" font-size="8.2" text-anchor="middle" fill="#222">-0.04</text>
<line x1="792" y1="379" x2="838" y2="379" class="tn" />
<line x1="834" y1="368" x2="834" y2="400" class="tn" />
<path d="M834 372.8L832.4 367.3L835.6 367.3Z" fill="#333"/>
<path d="M834 379L835.6 384.5L832.4 384.5Z" fill="#333"/>
<line x1="826" y1="400" x2="836" y2="400" class="tn" />
<text x="829" y="398" class="b dt" font-size="10.4" text-anchor="middle" fill="#222">x</text>
<text x="675" y="396.6" class="b dt" font-size="10.4" text-anchor="middle" fill="#222">Ø9</text>
<line x1="667" y1="399" x2="685" y2="399" class="tn" />
<line x1="685" y1="399" x2="704" y2="366" class="tn" />
<line x1="705.5" y1="364" x2="705.5" y2="396" class="tn" />
<line x1="783.5" y1="364" x2="783.5" y2="396" class="tn" />
<line x1="705.5" y1="393.6" x2="783.5" y2="393.6" class="ln" /><path d="M705.5 393.6L711 392L711 395.2Z" fill="#333"/><path d="M783.5 393.6L778 395.2L778 392Z" fill="#333"/>
<text x="745" y="391" class="b dt" font-size="10.4" text-anchor="middle" fill="#222">100</text>
<line x1="699.5" y1="379" x2="699.5" y2="412" class="tn" />
<line x1="791.7" y1="379" x2="791.7" y2="412" class="tn" />
<line x1="699.5" y1="409" x2="791.7" y2="409" class="ln" /><path d="M699.5 409L705 407.4L705 410.6Z" fill="#333"/><path d="M791.7 409L786.2 410.6L786.2 407.4Z" fill="#333"/>
<text x="745" y="405.6" class="b dt" font-size="10.4" text-anchor="middle" fill="#222">120</text>
<line x1="696.4" y1="379" x2="696.4" y2="425" class="tn" />
<line x1="792.5" y1="379" x2="792.5" y2="425" class="tn" />
<line x1="696.4" y1="422.4" x2="792.5" y2="422.4" class="ln" /><path d="M696.4 422.4L701.9 420.8L701.9 424Z" fill="#333"/><path d="M792.5 422.4L787 424L787 420.8Z" fill="#333"/>
<text x="745" y="420" class="b dt" font-size="10.4" text-anchor="middle" fill="#222">130</text>
<rect x="820.7" y="312.2" width="49" height="26.1" class="th" style="stroke:#222;stroke-width:1.7" fill="#fff"/>
<rect x="822.6" y="321" width="45.8" height="7.7" class="ln" rx="3.85" style="stroke:#333;stroke-width:1"/>
<line x1="818" y1="325.5" x2="875" y2="325.5" class="cl" />
<line x1="869.7" y1="204" x2="869.7" y2="312" class="tn" />
<line x1="818.2" y1="208.5" x2="869.7" y2="208.5" class="ln" /><path d="M818.2 208.5L823.7 206.9L823.7 210.1Z" fill="#333"/><path d="M869.7 208.5L864.2 210.1L864.2 206.9Z" fill="#333"/>
<text x="844.3" y="205.9" class="b dt" font-size="10.4" text-anchor="middle" fill="#222">70</text>
<g transform="translate(0,598)"><circle cx="745" cy="293" r="89" class="tn" style="stroke:#555;stroke-width:0.7"/>
<line x1="745" y1="200" x2="745" y2="398" class="cl" />
<line x1="680" y1="325.5" x2="840" y2="325.5" class="cl" />
<path d="M717.6 246 L717.6 226 Q745 221.5 772.8 226 L772.8 246" class="th" style="stroke:#222;stroke-width:1.7"/>
<line x1="718" y1="229" x2="772" y2="229" class="tn" />
<path d="M772.8 230 L785 230 Q789 231 789 238 Q789 245 785 246 L772.8 246" class="ln" style="stroke:#333;stroke-width:1.1"/>
<line x1="777" y1="230" x2="777" y2="246" class="tn" />
<line x1="781" y1="230" x2="781" y2="246" class="tn" />
<line x1="773" y1="238" x2="789" y2="238" class="tn" />
<path d="M716.07 247.68A66 66 0 0 1 787.42 256.44" class="tn" style="stroke:#444;stroke-width:0.8"/>
<path d="M695.7 362 Q684.5 335 686.3 305 Q690 255 745 247.2 Q784 249 794 272.7" class="th" style="stroke:#222;stroke-width:1.7"/>
<line x1="699.5" y1="264.7" x2="791.7" y2="264.7" class="ln" style="stroke:#333;stroke-width:1.1"/>
<line x1="699.5" y1="267.5" x2="791.7" y2="267.5" class="tn" />
<line x1="699.5" y1="264.7" x2="699.5" y2="379" class="th" style="stroke:#222;stroke-width:1.4"/>
<line x1="791.7" y1="264.7" x2="791.7" y2="379" class="th" style="stroke:#222;stroke-width:1.4"/>
<path d="M692 290 Q690 292 690 296 L690 336 Q690 341 694 341" class="tn" />
<line x1="697" y1="290" x2="697" y2="360" class="tn" />
<line x1="696.4" y1="379" x2="792" y2="379" class="th" style="stroke:#222;stroke-width:1.8"/>
<path d="M696.4 379 L696.4 371 L699.5 369" class="ln" style="stroke:#333;stroke-width:1.1"/>
<path d="M792 379 L792 371 L789 369" class="ln" style="stroke:#333;stroke-width:1.1"/>
<path d="M716 265 L716 293.3 L703.2 309 L703.2 342 L715.5 358 L715.5 379" class="ln" style="stroke:#333;stroke-width:1.1" stroke-linejoin="round"/>
<path d="M774 265 L774 293.3 L786.8 309 L786.8 342 L774.5 358 L774.5 379" class="ln" style="stroke:#333;stroke-width:1.1" stroke-linejoin="round"/>
<path d="M728.75 297 L728.75 277.5 L759.5 277.5 L759.5 297 L773.75 311 L773.75 339 L760 353 L760 366 L729 366 L729 353 L715.5 339 L715.5 311 Z" class="ln" style="stroke:#222;stroke-width:1.3"/>
<line x1="705.5" y1="287" x2="783.5" y2="287" class="tn" />
<line x1="699.5" y1="293.2" x2="791.7" y2="293.2" class="cl" />
<line x1="705.5" y1="363.75" x2="783.5" y2="363.75" class="tn" />
<circle cx="705.5" cy="286.5" r="4" class="ln" style="stroke:#333;stroke-width:0.9"/><line x1="699.5" y1="286.5" x2="711.5" y2="286.5" class="tn" /><line x1="705.5" y1="280.5" x2="705.5" y2="292.5" class="tn" />
<circle cx="783.5" cy="286.5" r="4" class="ln" style="stroke:#333;stroke-width:0.9"/><line x1="777.5" y1="286.5" x2="789.5" y2="286.5" class="tn" /><line x1="783.5" y1="280.5" x2="783.5" y2="292.5" class="tn" />
<circle cx="705.5" cy="363.75" r="4" class="ln" style="stroke:#333;stroke-width:0.9"/><line x1="699.5" y1="363.75" x2="711.5" y2="363.75" class="tn" /><line x1="705.5" y1="357.75" x2="705.5" y2="369.75" class="tn" />
<circle cx="783.5" cy="363.75" r="4" class="ln" style="stroke:#333;stroke-width:0.9"/><line x1="777.5" y1="363.75" x2="789.5" y2="363.75" class="tn" /><line x1="783.5" y1="357.75" x2="783.5" y2="369.75" class="tn" />
<line x1="753.5" y1="288" x2="753.5" y2="325.5" class="tn" /><path d="M753.5 325.5L751.9 320L755.1 320Z" fill="#333"/>
<rect x="746.22" y="300.89" width="14.57" height="9.36" fill="#fff"/><text x="753.5" y="309" class="b dt" font-size="10.4" text-anchor="middle" fill="#222">55</text>
<line x1="734.75" y1="288" x2="734.75" y2="361.5" class="tn" /><path d="M734.75 288L736.35 293.5L733.15 293.5Z" fill="#333"/><path d="M734.75 361.5L733.15 356L736.35 356Z" fill="#333"/>
<rect x="724.86" y="332.09" width="19.78" height="9.36" fill="#fff"/><text x="734.75" y="340.2" class="b dt" font-size="10.4" text-anchor="middle" fill="#222">110</text>
<path d="M794 272.7 L809.3 272.7 L809.3 268.9 L818.2 268.9 L818.2 277.2 L820.7 277.2" class="th" style="stroke:#222;stroke-width:1.7"/>
<path d="M794 377.3 L809.3 377.3 L809.3 381.1 L818.2 381.1 L818.2 372.8 L820.7 372.8" class="th" style="stroke:#222;stroke-width:1.7"/>
<line x1="820.7" y1="277.2" x2="820.7" y2="372.8" class="th" style="stroke:#222;stroke-width:1.7"/>
<line x1="796" y1="272.7" x2="796" y2="377.3" class="tn" />
<line x1="807.4" y1="272.7" x2="807.4" y2="300" class="tn" />
<line x1="811.2" y1="272.7" x2="811.2" y2="300" class="tn" />
<line x1="807.4" y1="350" x2="807.4" y2="377.3" class="tn" />
<line x1="811.2" y1="350" x2="811.2" y2="377.3" class="tn" />
<path d="M792.7 300.7 Q806 296 818.2 300.7" class="ln" style="stroke:#333;stroke-width:1.1"/>
<path d="M792.7 349.3 Q806 354 818.2 349.3" class="ln" style="stroke:#333;stroke-width:1.1"/>
<rect x="796.5" y="307.7" width="21.7" height="34.3" class="ln" style="stroke:#333;stroke-width:1.1"/>
<line x1="799" y1="309" x2="799" y2="340" class="tn" />
<line x1="818.2" y1="204" x2="818.2" y2="268.9" class="tn" />
<line x1="745" y1="208.5" x2="818.2" y2="208.5" class="ln" /><path d="M745 208.5L750.5 206.9L750.5 210.1Z" fill="#333"/><path d="M818.2 208.5L812.7 210.1L812.7 206.9Z" fill="#333"/>
<text x="781" y="205.9" class="b dt" font-size="10.4" text-anchor="middle" fill="#222">101</text>
<line x1="797.8" y1="243.4" x2="845" y2="243.4" class="tn" />
<path d="M809.3 243.4L803.8 245L803.8 241.8Z" fill="#333"/>
<path d="M818.2 243.4L823.7 241.8L823.7 245Z" fill="#333"/>
<text x="837" y="240.9" class="b dt" font-size="10.4" text-anchor="middle" fill="#222">10</text>
<line x1="809.3" y1="240" x2="809.3" y2="268.9" class="tn" />
<line x1="806.7" y1="258" x2="852.5" y2="258" class="tn" />
<path d="M818.2 258L812.7 259.6L812.7 256.4Z" fill="#333"/>
<path d="M820.7 258L826.2 256.4L826.2 259.6Z" fill="#333"/>
<text x="842.3" y="255.5" class="b dt" font-size="10.4" text-anchor="middle" fill="#222">3.5</text>
<line x1="820.7" y1="255" x2="820.7" y2="277.2" class="tn" />
<line x1="820.7" y1="277.2" x2="849" y2="277.2" class="tn" />
<line x1="820.7" y1="372.8" x2="849" y2="372.8" class="tn" />
<line x1="846.2" y1="277.2" x2="846.2" y2="372.8" class="tn" /><path d="M846.2 277.2L847.8 282.7L844.6 282.7Z" fill="#333"/><path d="M846.2 372.8L844.6 367.3L847.8 367.3Z" fill="#333"/>
<rect x="831.78" y="354.89" width="28.44" height="9.36" fill="#fff"/><text x="846" y="363" class="b dt" font-size="10.4" text-anchor="middle" fill="#222">Ø130</text>
<text x="864.2" y="346.5" class="b dt" font-size="8.2" text-anchor="middle" fill="#222">-0.01</text>
<text x="864.2" y="354.2" class="b dt" font-size="8.2" text-anchor="middle" fill="#222">-0.04</text>
<line x1="792" y1="379" x2="838" y2="379" class="tn" />
<line x1="834" y1="368" x2="834" y2="400" class="tn" />
<path d="M834 372.8L832.4 367.3L835.6 367.3Z" fill="#333"/>
<path d="M834 379L835.6 384.5L832.4 384.5Z" fill="#333"/>
<line x1="826" y1="400" x2="836" y2="400" class="tn" />
<text x="829" y="398" class="b dt" font-size="10.4" text-anchor="middle" fill="#222">x</text>
<text x="675" y="396.6" class="b dt" font-size="10.4" text-anchor="middle" fill="#222">Ø9</text>
<line x1="667" y1="399" x2="685" y2="399" class="tn" />
<line x1="685" y1="399" x2="704" y2="366" class="tn" />
<line x1="705.5" y1="364" x2="705.5" y2="396" class="tn" />
<line x1="783.5" y1="364" x2="783.5" y2="396" class="tn" />
<line x1="705.5" y1="393.6" x2="783.5" y2="393.6" class="ln" /><path d="M705.5 393.6L711 392L711 395.2Z" fill="#333"/><path d="M783.5 393.6L778 395.2L778 392Z" fill="#333"/>
<text x="745" y="391" class="b dt" font-size="10.4" text-anchor="middle" fill="#222">100</text>
<line x1="699.5" y1="379" x2="699.5" y2="412" class="tn" />
<line x1="791.7" y1="379" x2="791.7" y2="412" class="tn" />
<line x1="699.5" y1="409" x2="791.7" y2="409" class="ln" /><path d="M699.5 409L705 407.4L705 410.6Z" fill="#333"/><path d="M791.7 409L786.2 410.6L786.2 407.4Z" fill="#333"/>
<text x="745" y="405.6" class="b dt" font-size="10.4" text-anchor="middle" fill="#222">120</text>
<line x1="696.4" y1="379" x2="696.4" y2="425" class="tn" />
<line x1="792.5" y1="379" x2="792.5" y2="425" class="tn" />
<line x1="696.4" y1="422.4" x2="792.5" y2="422.4" class="ln" /><path d="M696.4 422.4L701.9 420.8L701.9 424Z" fill="#333"/><path d="M792.5 422.4L787 424L787 420.8Z" fill="#333"/>
<text x="745" y="420" class="b dt" font-size="10.4" text-anchor="middle" fill="#222">130</text>
<line x1="799" y1="310.8" x2="844" y2="310.8" class="tn" />
<path d="M799 310.8L804.5 309.2L804.5 312.4Z" fill="#333"/>
<path d="M820.7 310.8L815.2 312.4L815.2 309.2Z" fill="#333"/>
<text x="834.9" y="308" class="b dt" font-size="10.4" text-anchor="middle" fill="#222">31</text>
<line x1="818.2" y1="204" x2="818.2" y2="268.9" class="tn" /></g>
<circle cx="244.2" cy="497.7" r="12.6" class="th" style="stroke:#222;stroke-width:2"/>
<rect x="228.9" y="493.6" width="3.6" height="8.1" class="ln" style="stroke:#222;stroke-width:1.3;fill:#fff"/>
<circle cx="244.2" cy="497.7" r="3.6" class="ln" style="stroke:#333;stroke-width:1"/>
<line x1="230.2" y1="497.7" x2="258.2" y2="497.7" class="tn" />
<line x1="244.2" y1="483.7" x2="244.2" y2="511.7" class="tn" />
<text x="228.3" y="479.2" class="b dt" font-size="10.4" text-anchor="middle" fill="#222">10</text>
<line x1="220" y1="482.4" x2="234" y2="482.4" class="tn" />
<line x1="220.8" y1="482.4" x2="220.8" y2="512.5" class="tn" />
<path d="M220.8 493.6L219.2 488.1L222.4 488.1Z" fill="#333"/>
<path d="M220.8 501.7L222.4 507.2L219.2 507.2Z" fill="#333"/>
<line x1="220" y1="493.6" x2="229" y2="493.6" class="tn" />
<line x1="220" y1="501.7" x2="229" y2="501.7" class="tn" />
<text x="274.3" y="477" class="b dt" font-size="10.4" text-anchor="middle" fill="#222">Ø35</text>
<line x1="263" y1="480.5" x2="285" y2="480.5" class="tn" />
<line x1="263" y1="480.5" x2="228" y2="514" class="tn" />
<path d="M253.3 488.4L250.43 493.36L248.22 491.04Z" fill="#333"/>
<path d="M235.2 505.5L238.07 500.54L240.28 502.86Z" fill="#333"/>
<text x="292" y="459.4" class="b dt" font-size="9.2" text-anchor="middle" fill="#222">+0.03</text>
<text x="287.8" y="468" class="b dt" font-size="9.2" text-anchor="middle" fill="#222">0</text>
<text x="274" y="512" class="b dt" font-size="10.4" text-anchor="middle" fill="#222">M12</text>
<line x1="261" y1="514.3" x2="285" y2="514.3" class="tn" />
<line x1="261" y1="514.3" x2="248" y2="502" class="tn" />
<path d="M248 502L253.07 504.67L250.84 506.97Z" fill="#333"/>
<line x1="228.9" y1="501" x2="228.9" y2="529" class="tn" />
<line x1="256.8" y1="500" x2="256.8" y2="529" class="tn" />
<line x1="228.9" y1="526.5" x2="256.8" y2="526.5" class="ln" /><path d="M228.9 526.5L234.4 524.9L234.4 528.1Z" fill="#333"/><path d="M256.8 526.5L251.3 528.1L251.3 524.9Z" fill="#333"/>
<text x="242.4" y="522.9" class="b dt" font-size="10.4" text-anchor="middle" fill="#222">38</text>
<circle cx="397.3" cy="1096" r="18.7" class="th" style="stroke:#222;stroke-width:3"/>
<circle cx="397.3" cy="1096" r="13.75" class="ln" style="stroke:#333;stroke-width:1"/>
<rect x="410.6" y="1091.7" width="5.4" height="8.8" class="ln" style="stroke:#333;stroke-width:1;fill:#fff"/>
<line x1="375.3" y1="1096" x2="419.3" y2="1096" class="cl" />
<line x1="397.3" y1="1074" x2="397.3" y2="1118" class="cl" />
<text x="388.5" y="1052" class="b dt" font-size="9.8" text-anchor="middle" fill="#222">+0.03</text>
<text x="383.5" y="1062" class="b dt" font-size="9.8" text-anchor="middle" fill="#222">0</text>
<text x="370.9" y="1072" class="b dt" font-size="10.4" text-anchor="middle" fill="#222">Ø35</text>
<line x1="360" y1="1075.2" x2="383" y2="1075.2" class="tn" />
<line x1="383" y1="1075.2" x2="410.5" y2="1114.8" class="tn" />
<text x="432.5" y="1077.4" class="b dt" font-size="10.4" text-anchor="middle" fill="#222">10</text>
<line x1="424" y1="1080.7" x2="438" y2="1080.7" class="tn" />
<line x1="426" y1="1080.7" x2="426" y2="1110" class="tn" />
<path d="M426 1091.7L424.4 1086.2L427.6 1086.2Z" fill="#333"/>
<path d="M426 1100.5L427.6 1106L424.4 1106Z" fill="#333"/>
<line x1="416" y1="1091.7" x2="428" y2="1091.7" class="tn" />
<line x1="416" y1="1100.5" x2="428" y2="1100.5" class="tn" />
<line x1="384" y1="1096" x2="384" y2="1133" class="tn" />
<line x1="411.6" y1="1100" x2="411.6" y2="1133" class="tn" />
<line x1="384" y1="1130.2" x2="411.6" y2="1130.2" class="ln" /><path d="M384 1130.2L389.5 1128.6L389.5 1131.8Z" fill="#333"/><path d="M411.6 1130.2L406.1 1131.8L406.1 1128.6Z" fill="#333"/>
<text x="397.8" y="1126.2" class="b dt" font-size="10.4" text-anchor="middle" fill="#222">38.3</text>
<defs><pattern id="hatch" width="2.6" height="2.6" patternUnits="userSpaceOnUse" patternTransform="rotate(45)"><line x1="0" y1="0" x2="0" y2="2.6" stroke="#444" stroke-width="0.9"/></pattern></defs>
<rect x="455.6" y="1077.5" width="103.8" height="36.3" class="ln" style="stroke:none;fill:#fff"/>
<path d="M455.6 1077.5 H482.5 L484 1076 H503 L504 1074.4 H511.5 L512.5 1076 H531 L532.5 1077.5 H559.4 V1082.5 H455.6 Z" fill="url(#hatch)" stroke="#222" stroke-width="1.1"/>
<path d="M455.6 1113.8 H482.5 L484 1115.5 H503 L504 1117 H511.5 L512.5 1115.5 H531 L532.5 1113.8 H559.4 V1108.8 H455.6 Z" fill="url(#hatch)" stroke="#222" stroke-width="1.1"/>
<line x1="455.6" y1="1095.5" x2="559.4" y2="1095.5" class="cl" />
<line x1="455.6" y1="1091" x2="559.4" y2="1091" class="ln" style="stroke:#444;stroke-width:0.9"/>
<line x1="455.6" y1="1099.8" x2="559.4" y2="1099.8" class="ln" style="stroke:#444;stroke-width:0.9"/>
<line x1="468" y1="1082.5" x2="468" y2="1108.8" class="tn" />
<line x1="488" y1="1082.5" x2="488" y2="1108.8" class="tn" />
<line x1="526" y1="1082.5" x2="526" y2="1108.8" class="tn" />
<line x1="547.5" y1="1082.5" x2="547.5" y2="1108.8" class="tn" />
<line x1="455.6" y1="1077.5" x2="455.6" y2="1113.8" class="th" style="stroke:#222;stroke-width:2.2"/>
<line x1="559.4" y1="1077.5" x2="559.4" y2="1113.8" class="th" style="stroke:#222;stroke-width:2.2"/>
<line x1="455.6" y1="1062" x2="455.6" y2="1077" class="tn" />
<line x1="559.4" y1="1062" x2="559.4" y2="1077" class="tn" />
<line x1="455.6" y1="1065.3" x2="559" y2="1065.3" class="ln" /><path d="M455.6 1065.3L461.1 1063.7L461.1 1066.9Z" fill="#333"/><path d="M559 1065.3L553.5 1066.9L553.5 1063.7Z" fill="#333"/>
<text x="507.8" y="1062" class="b dt" font-size="10.4" text-anchor="middle" fill="#222">140</text>
<line x1="455.6" y1="1115" x2="455.6" y2="1137" class="tn" />
<line x1="545.8" y1="1115" x2="545.8" y2="1137" class="tn" />
<line x1="455.6" y1="1134.6" x2="545.8" y2="1134.6" class="ln" /><path d="M455.6 1134.6L461.1 1133L461.1 1136.2Z" fill="#333"/><path d="M545.8 1134.6L540.3 1136.2L540.3 1133Z" fill="#333"/>
<text x="502.3" y="1131.3" class="b dt" font-size="10.4" text-anchor="middle" fill="#222">120</text>
<defs><pattern id="mesh" width="2.3" height="2.3" patternUnits="userSpaceOnUse"><rect width="2.3" height="2.3" fill="#fff"/><path d="M0 0H2.3M0 0V2.3" stroke="#1e1e1e" stroke-width="1"/></pattern></defs>
<rect x="751.7" y="590.3" width="74.1" height="108.1" class="ln" style="stroke:#444;stroke-width:0.9;fill:#fff"/>
<line x1="751.7" y1="592.2" x2="825.8" y2="592.2" class="tn" />
<line x1="751.7" y1="696.5" x2="825.8" y2="696.5" class="tn" />
<rect x="765.5" y="593.6" width="46" height="16" class="ln" style="stroke:#222;stroke-width:1;fill:#fff"/>
<line x1="765.5" y1="593.9" x2="811.5" y2="593.9" class="th" style="stroke-width:1.8"/>
<line x1="766" y1="597" x2="811" y2="597" class="tn" />
<line x1="772" y1="597" x2="772" y2="609" class="tn" />
<line x1="805" y1="597" x2="805" y2="609" class="tn" />
<rect x="765.5" y="678" width="46" height="15.3" class="ln" style="stroke:#222;stroke-width:1;fill:#fff"/>
<line x1="765.5" y1="693" x2="811.5" y2="693" class="th" style="stroke-width:1.8"/>
<line x1="766" y1="690" x2="811" y2="690" class="tn" />
<line x1="772" y1="678" x2="772" y2="690" class="tn" />
<line x1="805" y1="678" x2="805" y2="690" class="tn" />
<rect x="738.8" y="619.7" width="14" height="47.1" class="ln" style="stroke:#222;stroke-width:1;fill:#fff"/>
<line x1="739.3" y1="619.7" x2="739.3" y2="666.8" class="th" style="stroke-width:1.8"/>
<line x1="743.6" y1="620" x2="743.6" y2="666.5" class="tn" />
<rect x="824" y="619.7" width="14" height="47.1" class="ln" style="stroke:#222;stroke-width:1;fill:#fff"/>
<line x1="837.5" y1="619.7" x2="837.5" y2="666.8" class="th" style="stroke-width:1.8"/>
<line x1="833.3" y1="620" x2="833.3" y2="666.5" class="tn" />
<path d="M748.56 628.76A42.5 42.5 0 0 1 773.96 603.36" class="ln" style="stroke:#333;stroke-width:0.9"/>
<path d="M803.04 603.36A42.5 42.5 0 0 1 828.44 628.76" class="ln" style="stroke:#333;stroke-width:0.9"/>
<path d="M828.44 657.84A42.5 42.5 0 0 1 803.04 683.24" class="ln" style="stroke:#333;stroke-width:0.9"/>
<path d="M773.96 683.24A42.5 42.5 0 0 1 748.56 657.84" class="ln" style="stroke:#333;stroke-width:0.9"/>
<circle cx="788.5" cy="643.3" r="38.8" class="ln" style="stroke:#222;stroke-width:1.1;fill:#fff"/>
<circle cx="788.5" cy="643.3" r="24.4" class="ln" style="stroke:#222;stroke-width:1;fill:url(#mesh)"/>
<line x1="737" y1="643.3" x2="840" y2="643.3" class="ln" style="stroke:#222;stroke-width:0.9"/>
<line x1="788.5" y1="590" x2="788.5" y2="698" class="ln" style="stroke:#222;stroke-width:0.9"/>
<rect x="754" y="599.5" width="12.6" height="9.2" class="ln" rx="1.5" style="stroke:#222;stroke-width:1.1;fill:#fff"/><line x1="759.67" y1="600.5" x2="759.67" y2="607.7" class="ln" style="stroke:#333;stroke-width:0.8"/><line x1="755" y1="604.1" x2="765.6" y2="604.1" class="ln" style="stroke:#333;stroke-width:0.8"/>
<rect x="823" y="608.7" width="9.7" height="11.5" class="ln" rx="1.5" style="stroke:#222;stroke-width:1.1;fill:#fff"/><line x1="827.37" y1="609.7" x2="827.37" y2="619.2" class="ln" style="stroke:#333;stroke-width:0.8"/><line x1="824" y1="614.45" x2="831.7" y2="614.45" class="ln" style="stroke:#333;stroke-width:0.8"/>
<rect x="744.2" y="665.7" width="9.8" height="12" class="ln" rx="1.5" style="stroke:#222;stroke-width:1.1;fill:#fff"/><line x1="748.61" y1="666.7" x2="748.61" y2="676.7" class="ln" style="stroke:#333;stroke-width:0.8"/><line x1="745.2" y1="671.7" x2="753" y2="671.7" class="ln" style="stroke:#333;stroke-width:0.8"/>
<rect x="810.9" y="677.2" width="12.1" height="10.3" class="ln" rx="1.5" style="stroke:#222;stroke-width:1.1;fill:#fff"/><line x1="816.35" y1="678.2" x2="816.35" y2="686.5" class="ln" style="stroke:#333;stroke-width:0.8"/><line x1="811.9" y1="682.35" x2="822" y2="682.35" class="ln" style="stroke:#333;stroke-width:0.8"/>
<g><path d="M174 27 Q186 20 196 22 Q205 26 205 40 Q204 55 194 60 L186 64 Z" fill="#c43a8a"/><ellipse cx="191" cy="41" rx="13" ry="19.5" transform="rotate(-18 191 41)" fill="#d04696"/><ellipse cx="195" cy="40" rx="10" ry="17" transform="rotate(-18 195 40)" fill="#da58a4"/><path d="M140 32 L178 22 L190 64 L160 82 Z" fill="#cc3d8d"/><path d="M150 60 L187 50 M152 65 L188 55 M154 70 L189 60 M156 75 L188 64" stroke="#b93a80" stroke-width="0.8"/><path d="M143 30 L171 22.5 L179 41 L152 50 Z" fill="#d74f9c"/><path d="M143 30 L171 22.5 L173 26 L145 34 Z" fill="#e36cb0"/><circle cx="166.4" cy="46.5" r="4.3" fill="#5b5257"/><circle cx="166" cy="46" r="2.2" fill="#3e373b"/><circle cx="174.4" cy="42" r="4.3" fill="#5b5257"/><circle cx="174" cy="41.5" r="2.2" fill="#3e373b"/><ellipse cx="143" cy="67.6" rx="20.5" ry="26.5" transform="rotate(-20 143 67.6)" fill="#c03686"/><ellipse cx="146" cy="66.5" rx="17.5" ry="24.5" transform="rotate(-20 146 66.5)" fill="#d34999"/><circle cx="135" cy="50" r="1.6" fill="#8d6b80"/><circle cx="152" cy="64" r="1.6" fill="#8d6b80"/><circle cx="150" cy="89" r="1.6" fill="#8d6b80"/><path d="M71.8 71.1 L107.3 51.3 L134 64.5 L99.2 86.4 Z" fill="#e26ca9"/><path d="M97.4 56.7 L122.6 72" stroke="#c04088" stroke-width="0.8"/><path d="M71.8 71.1 L99.2 86.4 L99.2 131.8 L72.2 124.2 Z" fill="#d0468f"/><path d="M99.2 86.4 L134 64.5 L143 70 L143 108 L99.2 131.8 Z" fill="#d9519b"/><path d="M134 64.5 L149 58 L151 70 L143 76 Z" fill="#d85ea2"/><circle cx="78.0" cy="80.0" r="0.9" fill="#9a6688"/><circle cx="93.2" cy="86.0" r="0.9" fill="#9a6688"/><circle cx="79.5" cy="87.5" r="0.9" fill="#9a6688"/><circle cx="93.2" cy="93.5" r="0.9" fill="#9a6688"/><circle cx="78.0" cy="95.0" r="0.9" fill="#9a6688"/><circle cx="93.2" cy="101.0" r="0.9" fill="#9a6688"/><circle cx="79.5" cy="102.5" r="0.9" fill="#9a6688"/><circle cx="93.2" cy="108.5" r="0.9" fill="#9a6688"/><circle cx="78.0" cy="110.0" r="0.9" fill="#9a6688"/><circle cx="93.2" cy="116.0" r="0.9" fill="#9a6688"/><circle cx="79.5" cy="117.5" r="0.9" fill="#9a6688"/><circle cx="93.2" cy="123.5" r="0.9" fill="#9a6688"/><ellipse cx="120.3" cy="102.6" rx="17.5" ry="25" transform="rotate(-18 120.3 102.6)" fill="#7f7379"/><ellipse cx="121" cy="102.3" rx="13" ry="20" transform="rotate(-18 121 102.3)" fill="#d24c97"/><ellipse cx="119.5" cy="101" rx="6" ry="7.5" transform="rotate(-22 119.5 101)" fill="#7d7378"/><path d="M113 93.5 L135.5 107.5 L132.8 112.5 L110.3 98.5 Z" fill="#8a8287"/><ellipse cx="134.3" cy="110" rx="2.2" ry="2.8" transform="rotate(-25 134.3 110)" fill="#6a6267"/></g><g transform="translate(121 0)"><path d="M174 27 Q186 20 196 22 Q205 26 205 40 Q204 55 194 60 L186 64 Z" fill="#c43a8a"/><ellipse cx="191" cy="41" rx="13" ry="19.5" transform="rotate(-18 191 41)" fill="#d04696"/><ellipse cx="195" cy="40" rx="10" ry="17" transform="rotate(-18 195 40)" fill="#da58a4"/><path d="M140 32 L178 22 L190 64 L160 82 Z" fill="#cc3d8d"/><path d="M150 60 L187 50 M152 65 L188 55 M154 70 L189 60 M156 75 L188 64" stroke="#b93a80" stroke-width="0.8"/><path d="M143 30 L171 22.5 L179 41 L152 50 Z" fill="#d74f9c"/><path d="M143 30 L171 22.5 L173 26 L145 34 Z" fill="#e36cb0"/><circle cx="166.4" cy="46.5" r="4.3" fill="#5b5257"/><circle cx="166" cy="46" r="2.2" fill="#3e373b"/><circle cx="174.4" cy="42" r="4.3" fill="#5b5257"/><circle cx="174" cy="41.5" r="2.2" fill="#3e373b"/><ellipse cx="143" cy="67.6" rx="20.5" ry="26.5" transform="rotate(-20 143 67.6)" fill="#c03686"/><ellipse cx="146" cy="66.5" rx="17.5" ry="24.5" transform="rotate(-20 146 66.5)" fill="#d34999"/><circle cx="135" cy="50" r="1.6" fill="#8d6b80"/><circle cx="152" cy="64" r="1.6" fill="#8d6b80"/><circle cx="150" cy="89" r="1.6" fill="#8d6b80"/><path d="M71.8 71.1 L107.3 51.3 L134 64.5 L103 86.4 Z" fill="#e26ca9"/><path d="M97.4 56.7 L122.6 72" stroke="#c04088" stroke-width="0.8"/><path d="M71.8 71.1 L103 86.4 L103 131.8 L72.2 124.2 Z" fill="#d0468f"/><path d="M103 86.4 L134 64.5 L143 70 L143 108 L103 131.8 Z" fill="#d9519b"/><path d="M134 64.5 L149 58 L151 70 L143 76 Z" fill="#d85ea2"/><circle cx="78.0" cy="80.0" r="0.9" fill="#9a6688"/><circle cx="97" cy="86.0" r="0.9" fill="#9a6688"/><circle cx="79.5" cy="87.5" r="0.9" fill="#9a6688"/><circle cx="97" cy="93.5" r="0.9" fill="#9a6688"/><circle cx="78.0" cy="95.0" r="0.9" fill="#9a6688"/><circle cx="97" cy="101.0" r="0.9" fill="#9a6688"/><circle cx="79.5" cy="102.5" r="0.9" fill="#9a6688"/><circle cx="97" cy="108.5" r="0.9" fill="#9a6688"/><circle cx="78.0" cy="110.0" r="0.9" fill="#9a6688"/><circle cx="97" cy="116.0" r="0.9" fill="#9a6688"/><circle cx="79.5" cy="117.5" r="0.9" fill="#9a6688"/><circle cx="97" cy="123.5" r="0.9" fill="#9a6688"/><ellipse cx="120.3" cy="102.6" rx="17.5" ry="25" transform="rotate(-18 120.3 102.6)" fill="#7f7379"/><ellipse cx="121" cy="102.3" rx="13" ry="20" transform="rotate(-18 121 102.3)" fill="#d24c97"/><ellipse cx="119.5" cy="101" rx="6" ry="7.5" transform="rotate(-22 119.5 101)" fill="#7d7378"/><ellipse cx="119.5" cy="101" rx="3.4" ry="4.2" transform="rotate(-22 119.5 101)" fill="#3e373b"/></g>
<rect x="849.9" y="30.7" width="99.8" height="99.8" rx="7" fill="#fff" stroke="#8c1f7e" stroke-width="4.4"/><rect x="859.6" y="40.9" width="80.6" height="80.4" rx="6" fill="#fff" stroke="#6e6e70" stroke-width="7.8"/><path d="M868 71.3 L871.5 71.3 L872.5 63 L874.5 71.3 L883 71.3 L885 63 L886.2 71.3 L919.7 71.3 L919.7 74.5 L933.2 74.5 L933.2 82.5 L919.7 82.5 L919.7 87 L895 87 L894 103.5 L891.5 103.5 L890 82.5 L877.8 82.5 L876.3 103.5 L873.3 103.5 L868 87 Z" fill="#d68bd0" stroke="#2e2230" stroke-width="0.9" stroke-linejoin="round"/><path d="M886 82.5 L886 76 L919.7 76" fill="none" stroke="#2e2230" stroke-width="0.7"/><path d="M887 78.5 H918" stroke="#5a3b5a" stroke-width="0.8" stroke-dasharray="0.8 1.6"/><path d="M879 79.5 H885 M921 79.5 H931" stroke="#5a3b5a" stroke-width="0.7" stroke-dasharray="0.7 2.2"/>
<defs><linearGradient id="lg1" x1="0" y1="0" x2="0" y2="1"><stop offset="0" stop-color="#3a3a3a"/><stop offset="0.55" stop-color="#8a8a8a"/><stop offset="1" stop-color="#e0e0e0"/></linearGradient><linearGradient id="lg2" x1="0" y1="0" x2="0" y2="1"><stop offset="0" stop-color="#8a1a7a"/><stop offset="1" stop-color="#d9a6cf"/></linearGradient></defs><path d="M475.5 1337.5 L492 1352.5 L482 1361.8 L475.5 1361.8 Z" fill="url(#lg1)"/><path d="M525 1337.5 L525 1361.8 L503.5 1361.8 Z" fill="url(#lg1)"/><path d="M492.8 1336.5 L508.5 1336.5 L500.6 1345.3 Z" fill="url(#lg2)"/><text x="500.2" y="1373.6" font-size="11.5" font-weight="bold" text-anchor="middle" fill="#111" stroke="#111" stroke-width="0.5" textLength="49" lengthAdjust="spacingAndGlyphs">YILMAZ</text><text x="500.4" y="1381.5" font-size="5.6" font-weight="bold" text-anchor="middle" fill="#111" stroke="#111" stroke-width="0.3" textLength="49" lengthAdjust="spacingAndGlyphs">REDÜKTÖR</text>
<rect x="98" y="567" width="457" height="35.5" fill="#d3d3d3"/>
<rect x="98" y="567" width="57.5" height="180.5" fill="#d3d3d3"/>
<line x1="155.5" y1="567" x2="155.5" y2="747.5" stroke="#4a4a4a" stroke-width="1"/>
<line x1="212.5" y1="567" x2="212.5" y2="747.5" stroke="#4a4a4a" stroke-width="1"/>
<line x1="269.5" y1="567" x2="269.5" y2="747.5" stroke="#4a4a4a" stroke-width="1"/>
<line x1="326.5" y1="567" x2="326.5" y2="747.5" stroke="#4a4a4a" stroke-width="1"/>
<line x1="384.5" y1="567" x2="384.5" y2="747.5" stroke="#4a4a4a" stroke-width="1"/>
<line x1="441.5" y1="567" x2="441.5" y2="747.5" stroke="#4a4a4a" stroke-width="1"/>
<line x1="498.5" y1="567" x2="498.5" y2="747.5" stroke="#4a4a4a" stroke-width="1"/>
<line x1="98" y1="602.5" x2="555" y2="602.5" stroke="#4a4a4a" stroke-width="1"/>
<line x1="98" y1="629.5" x2="555" y2="629.5" stroke="#4a4a4a" stroke-width="1"/>
<line x1="98" y1="652.5" x2="555" y2="652.5" stroke="#4a4a4a" stroke-width="1"/>
<line x1="98" y1="676.5" x2="555" y2="676.5" stroke="#4a4a4a" stroke-width="1"/>
<line x1="98" y1="700.5" x2="555" y2="700.5" stroke="#4a4a4a" stroke-width="1"/>
<line x1="98" y1="724.5" x2="555" y2="724.5" stroke="#4a4a4a" stroke-width="1"/>
<rect x="98" y="567" width="457" height="180.5" fill="none" stroke="#262626" stroke-width="2"/>
<rect x="98" y="1142" width="457" height="35.5" fill="#d3d3d3"/>
<rect x="98" y="1142" width="57.5" height="180.5" fill="#d3d3d3"/>
<line x1="155.5" y1="1142" x2="155.5" y2="1322.5" stroke="#4a4a4a" stroke-width="1"/>
<line x1="212.5" y1="1142" x2="212.5" y2="1322.5" stroke="#4a4a4a" stroke-width="1"/>
<line x1="269.5" y1="1142" x2="269.5" y2="1322.5" stroke="#4a4a4a" stroke-width="1"/>
<line x1="326.5" y1="1142" x2="326.5" y2="1322.5" stroke="#4a4a4a" stroke-width="1"/>
<line x1="384.5" y1="1142" x2="384.5" y2="1322.5" stroke="#4a4a4a" stroke-width="1"/>
<line x1="441.5" y1="1142" x2="441.5" y2="1322.5" stroke="#4a4a4a" stroke-width="1"/>
<line x1="498.5" y1="1142" x2="498.5" y2="1322.5" stroke="#4a4a4a" stroke-width="1"/>
<line x1="98" y1="1177.5" x2="555" y2="1177.5" stroke="#4a4a4a" stroke-width="1"/>
<line x1="98" y1="1204.5" x2="555" y2="1204.5" stroke="#4a4a4a" stroke-width="1"/>
<line x1="98" y1="1227.5" x2="555" y2="1227.5" stroke="#4a4a4a" stroke-width="1"/>
<line x1="98" y1="1251.5" x2="555" y2="1251.5" stroke="#4a4a4a" stroke-width="1"/>
<line x1="98" y1="1275.5" x2="555" y2="1275.5" stroke="#4a4a4a" stroke-width="1"/>
<line x1="98" y1="1299.5" x2="555" y2="1299.5" stroke="#4a4a4a" stroke-width="1"/>
<rect x="98" y="1142" width="457" height="180.5" fill="none" stroke="#262626" stroke-width="2"/>
<defs><clipPath id="tclip"><rect x="99" y="568" width="456" height="34"/><rect x="99" y="568" width="56" height="179"/><rect x="99" y="1143" width="456" height="34"/><rect x="99" y="1143" width="56" height="179"/></clipPath></defs>
<g clip-path="url(#tclip)" opacity="0.75"><path d="M56.6 27.9 L56.6 11.5 L22.8 -8.0 L-11.0 11.5 L-11.0 50.5 L22.8 70.0M55.0 28.0 L55.0 12.4 L22.8 -6.2 L-9.4 12.4 L-9.4 49.6 L22.8 68.2M53.5 28.2 L53.5 13.3 L22.8 -4.4 L-7.9 13.3 L-7.9 48.7 L22.8 66.4M51.9 28.3 L51.9 14.2 L22.8 -2.6 L-6.3 14.2 L-6.3 47.8 L22.8 64.6M50.3 28.5 L50.3 15.1 L22.8 -0.8 L-4.7 15.1 L-4.7 46.9 L22.8 62.8" fill="none" stroke="#f4f4f4" stroke-width="0.8"/><path d="M47.7 37.2 L51.2 26.4 L33.1 6.3 L6.7 11.9 L-1.6 37.6 L16.5 57.7M46.3 36.8 L49.5 26.7 L32.6 7.9 L7.9 13.2 L0.1 37.3 L17.0 56.1M44.8 36.5 L47.9 27.1 L32.1 9.6 L9.0 14.5 L1.7 36.9 L17.5 54.4" fill="none" stroke="#f4f4f4" stroke-width="0.7"/><text x="24.0" y="45.0" font-size="13.2" style="fill:#efefef" textLength="128" lengthAdjust="spacingAndGlyphs">ПРОМЫШЛЕННЫЕ</text><text x="24.0" y="68.6" font-size="22" style="fill:#efefef" textLength="127" lengthAdjust="spacingAndGlyphs">РЕДУКТОРЫ</text><path d="M372.6 27.9 L372.6 11.5 L338.8 -8.0 L305.0 11.5 L305.0 50.5 L338.8 70.0M371.0 28.0 L371.0 12.4 L338.8 -6.2 L306.6 12.4 L306.6 49.6 L338.8 68.2M369.5 28.2 L369.5 13.3 L338.8 -4.4 L308.1 13.3 L308.1 48.7 L338.8 66.4M367.9 28.3 L367.9 14.2 L338.8 -2.6 L309.7 14.2 L309.7 47.8 L338.8 64.6M366.3 28.5 L366.3 15.1 L338.8 -0.8 L311.3 15.1 L311.3 46.9 L338.8 62.8" fill="none" stroke="#f4f4f4" stroke-width="0.8"/><path d="M363.7 37.2 L367.2 26.4 L349.1 6.3 L322.7 11.9 L314.4 37.6 L332.5 57.7M362.3 36.8 L365.5 26.7 L348.6 7.9 L323.9 13.2 L316.1 37.3 L333.0 56.1M360.8 36.5 L363.9 27.1 L348.1 9.6 L325.0 14.5 L317.7 36.9 L333.5 54.4" fill="none" stroke="#f4f4f4" stroke-width="0.7"/><text x="340.0" y="45.0" font-size="13.2" style="fill:#efefef" textLength="128" lengthAdjust="spacingAndGlyphs">ПРОМЫШЛЕННЫЕ</text><text x="340.0" y="68.6" font-size="22" style="fill:#efefef" textLength="127" lengthAdjust="spacingAndGlyphs">РЕДУКТОРЫ</text><path d="M688.6 27.9 L688.6 11.5 L654.8 -8.0 L621.0 11.5 L621.0 50.5 L654.8 70.0M687.0 28.0 L687.0 12.4 L654.8 -6.2 L622.6 12.4 L622.6 49.6 L654.8 68.2M685.5 28.2 L685.5 13.3 L654.8 -4.4 L624.1 13.3 L624.1 48.7 L654.8 66.4M683.9 28.3 L683.9 14.2 L654.8 -2.6 L625.7 14.2 L625.7 47.8 L654.8 64.6M682.3 28.5 L682.3 15.1 L654.8 -0.8 L627.3 15.1 L627.3 46.9 L654.8 62.8" fill="none" stroke="#f4f4f4" stroke-width="0.8"/><path d="M679.7 37.2 L683.2 26.4 L665.1 6.3 L638.7 11.9 L630.4 37.6 L648.5 57.7M678.3 36.8 L681.5 26.7 L664.6 7.9 L639.9 13.2 L632.1 37.3 L649.0 56.1M676.8 36.5 L679.9 27.1 L664.1 9.6 L641.0 14.5 L633.7 36.9 L649.5 54.4" fill="none" stroke="#f4f4f4" stroke-width="0.7"/><text x="656.0" y="45.0" font-size="13.2" style="fill:#efefef" textLength="128" lengthAdjust="spacingAndGlyphs">ПРОМЫШЛЕННЫЕ</text><text x="656.0" y="68.6" font-size="22" style="fill:#efefef" textLength="127" lengthAdjust="spacingAndGlyphs">РЕДУКТОРЫ</text><path d="M1004.6 27.9 L1004.6 11.5 L970.8 -8.0 L937.0 11.5 L937.0 50.5 L970.8 70.0M1003.0 28.0 L1003.0 12.4 L970.8 -6.2 L938.6 12.4 L938.6 49.6 L970.8 68.2M1001.5 28.2 L1001.5 13.3 L970.8 -4.4 L940.1 13.3 L940.1 48.7 L970.8 66.4M999.9 28.3 L999.9 14.2 L970.8 -2.6 L941.7 14.2 L941.7 47.8 L970.8 64.6M998.3 28.5 L998.3 15.1 L970.8 -0.8 L943.3 15.1 L943.3 46.9 L970.8 62.8" fill="none" stroke="#f4f4f4" stroke-width="0.8"/><path d="M995.7 37.2 L999.2 26.4 L981.1 6.3 L954.7 11.9 L946.4 37.6 L964.5 57.7M994.3 36.8 L997.5 26.7 L980.6 7.9 L955.9 13.2 L948.1 37.3 L965.0 56.1M992.8 36.5 L995.9 27.1 L980.1 9.6 L957.0 14.5 L949.7 36.9 L965.5 54.4" fill="none" stroke="#f4f4f4" stroke-width="0.7"/><text x="972.0" y="45.0" font-size="13.2" style="fill:#efefef" textLength="128" lengthAdjust="spacingAndGlyphs">ПРОМЫШЛЕННЫЕ</text><text x="972.0" y="68.6" font-size="22" style="fill:#efefef" textLength="127" lengthAdjust="spacingAndGlyphs">РЕДУКТОРЫ</text><path d="M-59.6 131.7 L-59.6 115.3 L-93.4 95.8 L-127.2 115.3 L-127.2 154.3 L-93.4 173.8M-61.2 131.9 L-61.2 116.2 L-93.4 97.6 L-125.6 116.2 L-125.6 153.4 L-93.4 172.1M-62.7 132.0 L-62.7 117.2 L-93.4 99.4 L-124.1 117.2 L-124.1 152.5 L-93.4 170.2M-64.3 132.2 L-64.3 118.0 L-93.4 101.2 L-122.5 118.0 L-122.5 151.6 L-93.4 168.4M-65.9 132.3 L-65.9 118.9 L-93.4 103.0 L-120.9 118.9 L-120.9 150.8 L-93.4 166.7" fill="none" stroke="#f4f4f4" stroke-width="0.8"/><path d="M-68.5 141.0 L-65.0 130.2 L-83.1 110.2 L-109.5 115.8 L-117.8 141.5 L-99.7 161.5M-69.9 140.7 L-66.7 130.6 L-83.6 111.8 L-108.3 117.0 L-116.1 141.1 L-99.2 159.9M-71.4 140.4 L-68.3 130.9 L-84.1 113.4 L-107.2 118.3 L-114.5 140.8 L-98.7 158.3" fill="none" stroke="#f4f4f4" stroke-width="0.7"/><text x="-92.2" y="148.8" font-size="13.2" style="fill:#efefef" textLength="128" lengthAdjust="spacingAndGlyphs">ПРОМЫШЛЕННЫЕ</text><text x="-92.2" y="172.4" font-size="22" style="fill:#efefef" textLength="127" lengthAdjust="spacingAndGlyphs">РЕДУКТОРЫ</text><path d="M256.4 131.7 L256.4 115.3 L222.6 95.8 L188.8 115.3 L188.8 154.3 L222.6 173.8M254.8 131.9 L254.8 116.2 L222.6 97.6 L190.4 116.2 L190.4 153.4 L222.6 172.1M253.3 132.0 L253.3 117.2 L222.6 99.4 L191.9 117.2 L191.9 152.5 L222.6 170.2M251.7 132.2 L251.7 118.0 L222.6 101.2 L193.5 118.0 L193.5 151.6 L222.6 168.4M250.1 132.3 L250.1 118.9 L222.6 103.0 L195.1 118.9 L195.1 150.8 L222.6 166.7" fill="none" stroke="#f4f4f4" stroke-width="0.8"/><path d="M247.5 141.0 L251.0 130.2 L232.9 110.2 L206.5 115.8 L198.2 141.5 L216.3 161.5M246.1 140.7 L249.3 130.6 L232.4 111.8 L207.7 117.0 L199.9 141.1 L216.8 159.9M244.6 140.4 L247.7 130.9 L231.9 113.4 L208.8 118.3 L201.5 140.8 L217.3 158.3" fill="none" stroke="#f4f4f4" stroke-width="0.7"/><text x="223.8" y="148.8" font-size="13.2" style="fill:#efefef" textLength="128" lengthAdjust="spacingAndGlyphs">ПРОМЫШЛЕННЫЕ</text><text x="223.8" y="172.4" font-size="22" style="fill:#efefef" textLength="127" lengthAdjust="spacingAndGlyphs">РЕДУКТОРЫ</text><path d="M572.4 131.7 L572.4 115.3 L538.6 95.8 L504.8 115.3 L504.8 154.3 L538.6 173.8M570.8 131.9 L570.8 116.2 L538.6 97.6 L506.4 116.2 L506.4 153.4 L538.6 172.1M569.3 132.0 L569.3 117.2 L538.6 99.4 L507.9 117.2 L507.9 152.5 L538.6 170.2M567.7 132.2 L567.7 118.0 L538.6 101.2 L509.5 118.0 L509.5 151.6 L538.6 168.4M566.1 132.3 L566.1 118.9 L538.6 103.0 L511.1 118.9 L511.1 150.8 L538.6 166.7" fill="none" stroke="#f4f4f4" stroke-width="0.8"/><path d="M563.5 141.0 L567.0 130.2 L548.9 110.2 L522.5 115.8 L514.2 141.5 L532.3 161.5M562.1 140.7 L565.3 130.6 L548.4 111.8 L523.7 117.0 L515.9 141.1 L532.8 159.9M560.6 140.4 L563.7 130.9 L547.9 113.4 L524.8 118.3 L517.5 140.8 L533.3 158.3" fill="none" stroke="#f4f4f4" stroke-width="0.7"/><text x="539.8" y="148.8" font-size="13.2" style="fill:#efefef" textLength="128" lengthAdjust="spacingAndGlyphs">ПРОМЫШЛЕННЫЕ</text><text x="539.8" y="172.4" font-size="22" style="fill:#efefef" textLength="127" lengthAdjust="spacingAndGlyphs">РЕДУКТОРЫ</text><path d="M888.4 131.7 L888.4 115.3 L854.6 95.8 L820.8 115.3 L820.8 154.3 L854.6 173.8M886.8 131.9 L886.8 116.2 L854.6 97.6 L822.4 116.2 L822.4 153.4 L854.6 172.1M885.3 132.0 L885.3 117.2 L854.6 99.4 L823.9 117.2 L823.9 152.5 L854.6 170.2M883.7 132.2 L883.7 118.0 L854.6 101.2 L825.5 118.0 L825.5 151.6 L854.6 168.4M882.1 132.3 L882.1 118.9 L854.6 103.0 L827.1 118.9 L827.1 150.8 L854.6 166.7" fill="none" stroke="#f4f4f4" stroke-width="0.8"/><path d="M879.5 141.0 L883.0 130.2 L864.9 110.2 L838.5 115.8 L830.2 141.5 L848.3 161.5M878.1 140.7 L881.3 130.6 L864.4 111.8 L839.7 117.0 L831.9 141.1 L848.8 159.9M876.6 140.4 L879.7 130.9 L863.9 113.4 L840.8 118.3 L833.5 140.8 L849.3 158.3" fill="none" stroke="#f4f4f4" stroke-width="0.7"/><text x="855.8" y="148.8" font-size="13.2" style="fill:#efefef" textLength="128" lengthAdjust="spacingAndGlyphs">ПРОМЫШЛЕННЫЕ</text><text x="855.8" y="172.4" font-size="22" style="fill:#efefef" textLength="127" lengthAdjust="spacingAndGlyphs">РЕДУКТОРЫ</text><path d="M140.2 235.6 L140.2 219.2 L106.4 199.7 L72.6 219.2 L72.6 258.2 L106.4 277.7M138.6 235.7 L138.6 220.1 L106.4 201.5 L74.2 220.1 L74.2 257.3 L106.4 275.9M137.1 235.9 L137.1 221.0 L106.4 203.3 L75.7 221.0 L75.7 256.4 L106.4 274.1M135.5 236.0 L135.5 221.9 L106.4 205.1 L77.3 221.9 L77.3 255.5 L106.4 272.3M133.9 236.2 L133.9 222.8 L106.4 206.9 L78.9 222.8 L78.9 254.6 L106.4 270.5" fill="none" stroke="#f4f4f4" stroke-width="0.8"/><path d="M131.3 244.9 L134.8 234.1 L116.7 214.0 L90.3 219.6 L82.0 245.3 L100.1 265.4M129.9 244.5 L133.1 234.4 L116.2 215.6 L91.5 220.9 L83.7 245.0 L100.6 263.8M128.4 244.2 L131.5 234.8 L115.7 217.3 L92.6 222.2 L85.3 244.6 L101.1 262.1" fill="none" stroke="#f4f4f4" stroke-width="0.7"/><text x="107.6" y="252.7" font-size="13.2" style="fill:#efefef" textLength="128" lengthAdjust="spacingAndGlyphs">ПРОМЫШЛЕННЫЕ</text><text x="107.6" y="276.3" font-size="22" style="fill:#efefef" textLength="127" lengthAdjust="spacingAndGlyphs">РЕДУКТОРЫ</text><path d="M456.2 235.6 L456.2 219.2 L422.4 199.7 L388.6 219.2 L388.6 258.2 L422.4 277.7M454.6 235.7 L454.6 220.1 L422.4 201.5 L390.2 220.1 L390.2 257.3 L422.4 275.9M453.1 235.9 L453.1 221.0 L422.4 203.3 L391.7 221.0 L391.7 256.4 L422.4 274.1M451.5 236.0 L451.5 221.9 L422.4 205.1 L393.3 221.9 L393.3 255.5 L422.4 272.3M449.9 236.2 L449.9 222.8 L422.4 206.9 L394.9 222.8 L394.9 254.6 L422.4 270.5" fill="none" stroke="#f4f4f4" stroke-width="0.8"/><path d="M447.3 244.9 L450.8 234.1 L432.7 214.0 L406.3 219.6 L398.0 245.3 L416.1 265.4M445.9 244.5 L449.1 234.4 L432.2 215.6 L407.5 220.9 L399.7 245.0 L416.6 263.8M444.4 244.2 L447.5 234.8 L431.7 217.3 L408.6 222.2 L401.3 244.6 L417.1 262.1" fill="none" stroke="#f4f4f4" stroke-width="0.7"/><text x="423.6" y="252.7" font-size="13.2" style="fill:#efefef" textLength="128" lengthAdjust="spacingAndGlyphs">ПРОМЫШЛЕННЫЕ</text><text x="423.6" y="276.3" font-size="22" style="fill:#efefef" textLength="127" lengthAdjust="spacingAndGlyphs">РЕДУКТОРЫ</text><path d="M772.2 235.6 L772.2 219.2 L738.4 199.7 L704.6 219.2 L704.6 258.2 L738.4 277.7M770.6 235.7 L770.6 220.1 L738.4 201.5 L706.2 220.1 L706.2 257.3 L738.4 275.9M769.1 235.9 L769.1 221.0 L738.4 203.3 L707.7 221.0 L707.7 256.4 L738.4 274.1M767.5 236.0 L767.5 221.9 L738.4 205.1 L709.3 221.9 L709.3 255.5 L738.4 272.3M765.9 236.2 L765.9 222.8 L738.4 206.9 L710.9 222.8 L710.9 254.6 L738.4 270.5" fill="none" stroke="#f4f4f4" stroke-width="0.8"/><path d="M763.3 244.9 L766.8 234.1 L748.7 214.0 L722.3 219.6 L714.0 245.3 L732.1 265.4M761.9 244.5 L765.1 234.4 L748.2 215.6 L723.5 220.9 L715.7 245.0 L732.6 263.8M760.4 244.2 L763.5 234.8 L747.7 217.3 L724.6 222.2 L717.3 244.6 L733.1 262.1" fill="none" stroke="#f4f4f4" stroke-width="0.7"/><text x="739.6" y="252.7" font-size="13.2" style="fill:#efefef" textLength="128" lengthAdjust="spacingAndGlyphs">ПРОМЫШЛЕННЫЕ</text><text x="739.6" y="276.3" font-size="22" style="fill:#efefef" textLength="127" lengthAdjust="spacingAndGlyphs">РЕДУКТОРЫ</text><path d="M24.0 339.4 L24.0 323.0 L-9.8 303.5 L-43.6 323.0 L-43.6 362.0 L-9.8 381.5M22.4 339.6 L22.4 323.9 L-9.8 305.3 L-42.0 323.9 L-42.0 361.1 L-9.8 379.7M20.9 339.7 L20.9 324.8 L-9.8 307.1 L-40.5 324.8 L-40.5 360.2 L-9.8 377.9M19.3 339.9 L19.3 325.7 L-9.8 308.9 L-38.9 325.7 L-38.9 359.3 L-9.8 376.1M17.7 340.0 L17.7 326.6 L-9.8 310.7 L-37.3 326.6 L-37.3 358.4 L-9.8 374.3" fill="none" stroke="#f4f4f4" stroke-width="0.8"/><path d="M15.1 348.7 L18.6 337.9 L0.5 317.9 L-25.9 323.5 L-34.2 349.2 L-16.1 369.2M13.7 348.4 L16.9 338.3 L0.0 319.5 L-24.7 324.7 L-32.5 348.8 L-15.6 367.6M12.2 348.1 L15.3 338.6 L-0.5 321.1 L-23.6 326.0 L-30.9 348.5 L-15.1 366.0" fill="none" stroke="#f4f4f4" stroke-width="0.7"/><text x="-8.6" y="356.5" font-size="13.2" style="fill:#efefef" textLength="128" lengthAdjust="spacingAndGlyphs">ПРОМЫШЛЕННЫЕ</text><text x="-8.6" y="380.1" font-size="22" style="fill:#efefef" textLength="127" lengthAdjust="spacingAndGlyphs">РЕДУКТОРЫ</text><path d="M340.0 339.4 L340.0 323.0 L306.2 303.5 L272.4 323.0 L272.4 362.0 L306.2 381.5M338.4 339.6 L338.4 323.9 L306.2 305.3 L274.0 323.9 L274.0 361.1 L306.2 379.7M336.9 339.7 L336.9 324.8 L306.2 307.1 L275.5 324.8 L275.5 360.2 L306.2 377.9M335.3 339.9 L335.3 325.7 L306.2 308.9 L277.1 325.7 L277.1 359.3 L306.2 376.1M333.7 340.0 L333.7 326.6 L306.2 310.7 L278.7 326.6 L278.7 358.4 L306.2 374.3" fill="none" stroke="#f4f4f4" stroke-width="0.8"/><path d="M331.1 348.7 L334.6 337.9 L316.5 317.9 L290.1 323.5 L281.8 349.2 L299.9 369.2M329.7 348.4 L332.9 338.3 L316.0 319.5 L291.3 324.7 L283.5 348.8 L300.4 367.6M328.2 348.1 L331.3 338.6 L315.5 321.1 L292.4 326.0 L285.1 348.5 L300.9 366.0" fill="none" stroke="#f4f4f4" stroke-width="0.7"/><text x="307.4" y="356.5" font-size="13.2" style="fill:#efefef" textLength="128" lengthAdjust="spacingAndGlyphs">ПРОМЫШЛЕННЫЕ</text><text x="307.4" y="380.1" font-size="22" style="fill:#efefef" textLength="127" lengthAdjust="spacingAndGlyphs">РЕДУКТОРЫ</text><path d="M656.0 339.4 L656.0 323.0 L622.2 303.5 L588.4 323.0 L588.4 362.0 L622.2 381.5M654.4 339.6 L654.4 323.9 L622.2 305.3 L590.0 323.9 L590.0 361.1 L622.2 379.7M652.9 339.7 L652.9 324.8 L622.2 307.1 L591.5 324.8 L591.5 360.2 L622.2 377.9M651.3 339.9 L651.3 325.7 L622.2 308.9 L593.1 325.7 L593.1 359.3 L622.2 376.1M649.7 340.0 L649.7 326.6 L622.2 310.7 L594.7 326.6 L594.7 358.4 L622.2 374.3" fill="none" stroke="#f4f4f4" stroke-width="0.8"/><path d="M647.1 348.7 L650.6 337.9 L632.5 317.9 L606.1 323.5 L597.8 349.2 L615.9 369.2M645.7 348.4 L648.9 338.3 L632.0 319.5 L607.3 324.7 L599.5 348.8 L616.4 367.6M644.2 348.1 L647.3 338.6 L631.5 321.1 L608.4 326.0 L601.1 348.5 L616.9 366.0" fill="none" stroke="#f4f4f4" stroke-width="0.7"/><text x="623.4" y="356.5" font-size="13.2" style="fill:#efefef" textLength="128" lengthAdjust="spacingAndGlyphs">ПРОМЫШЛЕННЫЕ</text><text x="623.4" y="380.1" font-size="22" style="fill:#efefef" textLength="127" lengthAdjust="spacingAndGlyphs">РЕДУКТОРЫ</text><path d="M972.0 339.4 L972.0 323.0 L938.2 303.5 L904.4 323.0 L904.4 362.0 L938.2 381.5M970.4 339.6 L970.4 323.9 L938.2 305.3 L906.0 323.9 L906.0 361.1 L938.2 379.7M968.9 339.7 L968.9 324.8 L938.2 307.1 L907.5 324.8 L907.5 360.2 L938.2 377.9M967.3 339.9 L967.3 325.7 L938.2 308.9 L909.1 325.7 L909.1 359.3 L938.2 376.1M965.7 340.0 L965.7 326.6 L938.2 310.7 L910.7 326.6 L910.7 358.4 L938.2 374.3" fill="none" stroke="#f4f4f4" stroke-width="0.8"/><path d="M963.1 348.7 L966.6 337.9 L948.5 317.9 L922.1 323.5 L913.8 349.2 L931.9 369.2M961.7 348.4 L964.9 338.3 L948.0 319.5 L923.3 324.7 L915.5 348.8 L932.4 367.6M960.2 348.1 L963.3 338.6 L947.5 321.1 L924.4 326.0 L917.1 348.5 L932.9 366.0" fill="none" stroke="#f4f4f4" stroke-width="0.7"/><text x="939.4" y="356.5" font-size="13.2" style="fill:#efefef" textLength="128" lengthAdjust="spacingAndGlyphs">ПРОМЫШЛЕННЫЕ</text><text x="939.4" y="380.1" font-size="22" style="fill:#efefef" textLength="127" lengthAdjust="spacingAndGlyphs">РЕДУКТОРЫ</text><path d="M-92.2 443.3 L-92.2 426.9 L-126.0 407.4 L-159.8 426.9 L-159.8 465.9 L-126.0 485.4M-93.8 443.4 L-93.8 427.8 L-126.0 409.2 L-158.2 427.8 L-158.2 465.0 L-126.0 483.6M-95.3 443.6 L-95.3 428.7 L-126.0 411.0 L-156.7 428.7 L-156.7 464.1 L-126.0 481.8M-96.9 443.7 L-96.9 429.6 L-126.0 412.8 L-155.1 429.6 L-155.1 463.2 L-126.0 480.0M-98.5 443.9 L-98.5 430.5 L-126.0 414.6 L-153.5 430.5 L-153.5 462.3 L-126.0 478.2" fill="none" stroke="#f4f4f4" stroke-width="0.8"/><path d="M-101.1 452.6 L-97.6 441.8 L-115.7 421.7 L-142.1 427.3 L-150.4 453.0 L-132.3 473.1M-102.5 452.2 L-99.3 442.1 L-116.2 423.3 L-140.9 428.6 L-148.7 452.7 L-131.8 471.5M-104.0 451.9 L-100.9 442.5 L-116.7 425.0 L-139.8 429.9 L-147.1 452.3 L-131.3 469.8" fill="none" stroke="#f4f4f4" stroke-width="0.7"/><text x="-124.8" y="460.4" font-size="13.2" style="fill:#efefef" textLength="128" lengthAdjust="spacingAndGlyphs">ПРОМЫШЛЕННЫЕ</text><text x="-124.8" y="484.0" font-size="22" style="fill:#efefef" textLength="127" lengthAdjust="spacingAndGlyphs">РЕДУКТОРЫ</text><path d="M223.8 443.3 L223.8 426.9 L190.0 407.4 L156.2 426.9 L156.2 465.9 L190.0 485.4M222.2 443.4 L222.2 427.8 L190.0 409.2 L157.8 427.8 L157.8 465.0 L190.0 483.6M220.7 443.6 L220.7 428.7 L190.0 411.0 L159.3 428.7 L159.3 464.1 L190.0 481.8M219.1 443.7 L219.1 429.6 L190.0 412.8 L160.9 429.6 L160.9 463.2 L190.0 480.0M217.5 443.9 L217.5 430.5 L190.0 414.6 L162.5 430.5 L162.5 462.3 L190.0 478.2" fill="none" stroke="#f4f4f4" stroke-width="0.8"/><path d="M214.9 452.6 L218.4 441.8 L200.3 421.7 L173.9 427.3 L165.6 453.0 L183.7 473.1M213.5 452.2 L216.7 442.1 L199.8 423.3 L175.1 428.6 L167.3 452.7 L184.2 471.5M212.0 451.9 L215.1 442.5 L199.3 425.0 L176.2 429.9 L168.9 452.3 L184.7 469.8" fill="none" stroke="#f4f4f4" stroke-width="0.7"/><text x="191.2" y="460.4" font-size="13.2" style="fill:#efefef" textLength="128" lengthAdjust="spacingAndGlyphs">ПРОМЫШЛЕННЫЕ</text><text x="191.2" y="484.0" font-size="22" style="fill:#efefef" textLength="127" lengthAdjust="spacingAndGlyphs">РЕДУКТОРЫ</text><path d="M539.8 443.3 L539.8 426.9 L506.0 407.4 L472.2 426.9 L472.2 465.9 L506.0 485.4M538.2 443.4 L538.2 427.8 L506.0 409.2 L473.8 427.8 L473.8 465.0 L506.0 483.6M536.7 443.6 L536.7 428.7 L506.0 411.0 L475.3 428.7 L475.3 464.1 L506.0 481.8M535.1 443.7 L535.1 429.6 L506.0 412.8 L476.9 429.6 L476.9 463.2 L506.0 480.0M533.5 443.9 L533.5 430.5 L506.0 414.6 L478.5 430.5 L478.5 462.3 L506.0 478.2" fill="none" stroke="#f4f4f4" stroke-width="0.8"/><path d="M530.9 452.6 L534.4 441.8 L516.3 421.7 L489.9 427.3 L481.6 453.0 L499.7 473.1M529.5 452.2 L532.7 442.1 L515.8 423.3 L491.1 428.6 L483.3 452.7 L500.2 471.5M528.0 451.9 L531.1 442.5 L515.3 425.0 L492.2 429.9 L484.9 452.3 L500.7 469.8" fill="none" stroke="#f4f4f4" stroke-width="0.7"/><text x="507.2" y="460.4" font-size="13.2" style="fill:#efefef" textLength="128" lengthAdjust="spacingAndGlyphs">ПРОМЫШЛЕННЫЕ</text><text x="507.2" y="484.0" font-size="22" style="fill:#efefef" textLength="127" lengthAdjust="spacingAndGlyphs">РЕДУКТОРЫ</text><path d="M855.8 443.3 L855.8 426.9 L822.0 407.4 L788.2 426.9 L788.2 465.9 L822.0 485.4M854.2 443.4 L854.2 427.8 L822.0 409.2 L789.8 427.8 L789.8 465.0 L822.0 483.6M852.7 443.6 L852.7 428.7 L822.0 411.0 L791.3 428.7 L791.3 464.1 L822.0 481.8M851.1 443.7 L851.1 429.6 L822.0 412.8 L792.9 429.6 L792.9 463.2 L822.0 480.0M849.5 443.9 L849.5 430.5 L822.0 414.6 L794.5 430.5 L794.5 462.3 L822.0 478.2" fill="none" stroke="#f4f4f4" stroke-width="0.8"/><path d="M846.9 452.6 L850.4 441.8 L832.3 421.7 L805.9 427.3 L797.6 453.0 L815.7 473.1M845.5 452.2 L848.7 442.1 L831.8 423.3 L807.1 428.6 L799.3 452.7 L816.2 471.5M844.0 451.9 L847.1 442.5 L831.3 425.0 L808.2 429.9 L800.9 452.3 L816.7 469.8" fill="none" stroke="#f4f4f4" stroke-width="0.7"/><text x="823.2" y="460.4" font-size="13.2" style="fill:#efefef" textLength="128" lengthAdjust="spacingAndGlyphs">ПРОМЫШЛЕННЫЕ</text><text x="823.2" y="484.0" font-size="22" style="fill:#efefef" textLength="127" lengthAdjust="spacingAndGlyphs">РЕДУКТОРЫ</text><path d="M107.6 547.1 L107.6 530.8 L73.8 511.2 L40.0 530.8 L40.0 569.8 L73.8 589.2M106.0 547.3 L106.0 531.6 L73.8 513.0 L41.6 531.6 L41.6 568.9 L73.8 587.5M104.5 547.4 L104.5 532.5 L73.8 514.9 L43.1 532.5 L43.1 568.0 L73.8 585.6M102.9 547.6 L102.9 533.5 L73.8 516.6 L44.7 533.5 L44.7 567.0 L73.8 583.9M101.3 547.7 L101.3 534.4 L73.8 518.5 L46.3 534.4 L46.3 566.1 L73.8 582.0" fill="none" stroke="#f4f4f4" stroke-width="0.8"/><path d="M98.7 556.4 L102.2 545.6 L84.1 525.6 L57.7 531.2 L49.4 556.9 L67.5 576.9M97.3 556.1 L100.5 546.0 L83.6 527.2 L58.9 532.4 L51.1 556.5 L68.0 575.3M95.8 555.8 L98.9 546.3 L83.1 528.8 L60.0 533.7 L52.7 556.2 L68.5 573.7" fill="none" stroke="#f4f4f4" stroke-width="0.7"/><text x="75.0" y="564.2" font-size="13.2" style="fill:#efefef" textLength="128" lengthAdjust="spacingAndGlyphs">ПРОМЫШЛЕННЫЕ</text><text x="75.0" y="587.9" font-size="22" style="fill:#efefef" textLength="127" lengthAdjust="spacingAndGlyphs">РЕДУКТОРЫ</text><path d="M423.6 547.1 L423.6 530.8 L389.8 511.2 L356.0 530.8 L356.0 569.8 L389.8 589.2M422.0 547.3 L422.0 531.6 L389.8 513.0 L357.6 531.6 L357.6 568.9 L389.8 587.5M420.5 547.4 L420.5 532.5 L389.8 514.9 L359.1 532.5 L359.1 568.0 L389.8 585.6M418.9 547.6 L418.9 533.5 L389.8 516.6 L360.7 533.5 L360.7 567.0 L389.8 583.9M417.3 547.7 L417.3 534.4 L389.8 518.5 L362.3 534.4 L362.3 566.1 L389.8 582.0" fill="none" stroke="#f4f4f4" stroke-width="0.8"/><path d="M414.7 556.4 L418.2 545.6 L400.1 525.6 L373.7 531.2 L365.4 556.9 L383.5 576.9M413.3 556.1 L416.5 546.0 L399.6 527.2 L374.9 532.4 L367.1 556.5 L384.0 575.3M411.8 555.8 L414.9 546.3 L399.1 528.8 L376.0 533.7 L368.7 556.2 L384.5 573.7" fill="none" stroke="#f4f4f4" stroke-width="0.7"/><text x="391.0" y="564.2" font-size="13.2" style="fill:#efefef" textLength="128" lengthAdjust="spacingAndGlyphs">ПРОМЫШЛЕННЫЕ</text><text x="391.0" y="587.9" font-size="22" style="fill:#efefef" textLength="127" lengthAdjust="spacingAndGlyphs">РЕДУКТОРЫ</text><path d="M739.6 547.1 L739.6 530.8 L705.8 511.2 L672.0 530.8 L672.0 569.8 L705.8 589.2M738.0 547.3 L738.0 531.6 L705.8 513.0 L673.6 531.6 L673.6 568.9 L705.8 587.5M736.5 547.4 L736.5 532.5 L705.8 514.9 L675.1 532.5 L675.1 568.0 L705.8 585.6M734.9 547.6 L734.9 533.5 L705.8 516.6 L676.7 533.5 L676.7 567.0 L705.8 583.9M733.3 547.7 L733.3 534.4 L705.8 518.5 L678.3 534.4 L678.3 566.1 L705.8 582.0" fill="none" stroke="#f4f4f4" stroke-width="0.8"/><path d="M730.7 556.4 L734.2 545.6 L716.1 525.6 L689.7 531.2 L681.4 556.9 L699.5 576.9M729.3 556.1 L732.5 546.0 L715.6 527.2 L690.9 532.4 L683.1 556.5 L700.0 575.3M727.8 555.8 L730.9 546.3 L715.1 528.8 L692.0 533.7 L684.7 556.2 L700.5 573.7" fill="none" stroke="#f4f4f4" stroke-width="0.7"/><text x="707.0" y="564.2" font-size="13.2" style="fill:#efefef" textLength="128" lengthAdjust="spacingAndGlyphs">ПРОМЫШЛЕННЫЕ</text><text x="707.0" y="587.9" font-size="22" style="fill:#efefef" textLength="127" lengthAdjust="spacingAndGlyphs">РЕДУКТОРЫ</text><path d="M1055.6 547.1 L1055.6 530.8 L1021.8 511.2 L988.0 530.8 L988.0 569.8 L1021.8 589.2M1054.0 547.3 L1054.0 531.6 L1021.8 513.0 L989.6 531.6 L989.6 568.9 L1021.8 587.5M1052.5 547.4 L1052.5 532.5 L1021.8 514.9 L991.1 532.5 L991.1 568.0 L1021.8 585.6M1050.9 547.6 L1050.9 533.5 L1021.8 516.6 L992.7 533.5 L992.7 567.0 L1021.8 583.9M1049.3 547.7 L1049.3 534.4 L1021.8 518.5 L994.3 534.4 L994.3 566.1 L1021.8 582.0" fill="none" stroke="#f4f4f4" stroke-width="0.8"/><path d="M1046.7 556.4 L1050.2 545.6 L1032.1 525.6 L1005.7 531.2 L997.4 556.9 L1015.5 576.9M1045.3 556.1 L1048.5 546.0 L1031.6 527.2 L1006.9 532.4 L999.1 556.5 L1016.0 575.3M1043.8 555.8 L1046.9 546.3 L1031.1 528.8 L1008.0 533.7 L1000.7 556.2 L1016.5 573.7" fill="none" stroke="#f4f4f4" stroke-width="0.7"/><text x="1023.0" y="564.2" font-size="13.2" style="fill:#efefef" textLength="128" lengthAdjust="spacingAndGlyphs">ПРОМЫШЛЕННЫЕ</text><text x="1023.0" y="587.9" font-size="22" style="fill:#efefef" textLength="127" lengthAdjust="spacingAndGlyphs">РЕДУКТОРЫ</text><path d="M-8.6 651.0 L-8.6 634.6 L-42.4 615.1 L-76.2 634.6 L-76.2 673.6 L-42.4 693.1M-10.2 651.1 L-10.2 635.5 L-42.4 616.9 L-74.6 635.5 L-74.6 672.7 L-42.4 691.3M-11.7 651.3 L-11.7 636.4 L-42.4 618.7 L-73.1 636.4 L-73.1 671.8 L-42.4 689.5M-13.3 651.4 L-13.3 637.3 L-42.4 620.5 L-71.5 637.3 L-71.5 670.9 L-42.4 687.7M-14.9 651.6 L-14.9 638.2 L-42.4 622.3 L-69.9 638.2 L-69.9 670.0 L-42.4 685.9" fill="none" stroke="#f4f4f4" stroke-width="0.8"/><path d="M-17.5 660.3 L-14.0 649.5 L-32.1 629.4 L-58.5 635.0 L-66.8 660.7 L-48.7 680.8M-18.9 659.9 L-15.7 649.8 L-32.6 631.0 L-57.3 636.3 L-65.1 660.4 L-48.2 679.2M-20.4 659.6 L-17.3 650.2 L-33.1 632.7 L-56.2 637.6 L-63.5 660.0 L-47.7 677.5" fill="none" stroke="#f4f4f4" stroke-width="0.7"/><text x="-41.2" y="668.1" font-size="13.2" style="fill:#efefef" textLength="128" lengthAdjust="spacingAndGlyphs">ПРОМЫШЛЕННЫЕ</text><text x="-41.2" y="691.7" font-size="22" style="fill:#efefef" textLength="127" lengthAdjust="spacingAndGlyphs">РЕДУКТОРЫ</text><path d="M307.4 651.0 L307.4 634.6 L273.6 615.1 L239.8 634.6 L239.8 673.6 L273.6 693.1M305.8 651.1 L305.8 635.5 L273.6 616.9 L241.4 635.5 L241.4 672.7 L273.6 691.3M304.3 651.3 L304.3 636.4 L273.6 618.7 L242.9 636.4 L242.9 671.8 L273.6 689.5M302.7 651.4 L302.7 637.3 L273.6 620.5 L244.5 637.3 L244.5 670.9 L273.6 687.7M301.1 651.6 L301.1 638.2 L273.6 622.3 L246.1 638.2 L246.1 670.0 L273.6 685.9" fill="none" stroke="#f4f4f4" stroke-width="0.8"/><path d="M298.5 660.3 L302.0 649.5 L283.9 629.4 L257.5 635.0 L249.2 660.7 L267.3 680.8M297.1 659.9 L300.3 649.8 L283.4 631.0 L258.7 636.3 L250.9 660.4 L267.8 679.2M295.6 659.6 L298.7 650.2 L282.9 632.7 L259.8 637.6 L252.5 660.0 L268.3 677.5" fill="none" stroke="#f4f4f4" stroke-width="0.7"/><text x="274.8" y="668.1" font-size="13.2" style="fill:#efefef" textLength="128" lengthAdjust="spacingAndGlyphs">ПРОМЫШЛЕННЫЕ</text><text x="274.8" y="691.7" font-size="22" style="fill:#efefef" textLength="127" lengthAdjust="spacingAndGlyphs">РЕДУКТОРЫ</text><path d="M623.4 651.0 L623.4 634.6 L589.6 615.1 L555.8 634.6 L555.8 673.6 L589.6 693.1M621.8 651.1 L621.8 635.5 L589.6 616.9 L557.4 635.5 L557.4 672.7 L589.6 691.3M620.3 651.3 L620.3 636.4 L589.6 618.7 L558.9 636.4 L558.9 671.8 L589.6 689.5M618.7 651.4 L618.7 637.3 L589.6 620.5 L560.5 637.3 L560.5 670.9 L589.6 687.7M617.1 651.6 L617.1 638.2 L589.6 622.3 L562.1 638.2 L562.1 670.0 L589.6 685.9" fill="none" stroke="#f4f4f4" stroke-width="0.8"/><path d="M614.5 660.3 L618.0 649.5 L599.9 629.4 L573.5 635.0 L565.2 660.7 L583.3 680.8M613.1 659.9 L616.3 649.8 L599.4 631.0 L574.7 636.3 L566.9 660.4 L583.8 679.2M611.6 659.6 L614.7 650.2 L598.9 632.7 L575.8 637.6 L568.5 660.0 L584.3 677.5" fill="none" stroke="#f4f4f4" stroke-width="0.7"/><text x="590.8" y="668.1" font-size="13.2" style="fill:#efefef" textLength="128" lengthAdjust="spacingAndGlyphs">ПРОМЫШЛЕННЫЕ</text><text x="590.8" y="691.7" font-size="22" style="fill:#efefef" textLength="127" lengthAdjust="spacingAndGlyphs">РЕДУКТОРЫ</text><path d="M939.4 651.0 L939.4 634.6 L905.6 615.1 L871.8 634.6 L871.8 673.6 L905.6 693.1M937.8 651.1 L937.8 635.5 L905.6 616.9 L873.4 635.5 L873.4 672.7 L905.6 691.3M936.3 651.3 L936.3 636.4 L905.6 618.7 L874.9 636.4 L874.9 671.8 L905.6 689.5M934.7 651.4 L934.7 637.3 L905.6 620.5 L876.5 637.3 L876.5 670.9 L905.6 687.7M933.1 651.6 L933.1 638.2 L905.6 622.3 L878.1 638.2 L878.1 670.0 L905.6 685.9" fill="none" stroke="#f4f4f4" stroke-width="0.8"/><path d="M930.5 660.3 L934.0 649.5 L915.9 629.4 L889.5 635.0 L881.2 660.7 L899.3 680.8M929.1 659.9 L932.3 649.8 L915.4 631.0 L890.7 636.3 L882.9 660.4 L899.8 679.2M927.6 659.6 L930.7 650.2 L914.9 632.7 L891.8 637.6 L884.5 660.0 L900.3 677.5" fill="none" stroke="#f4f4f4" stroke-width="0.7"/><text x="906.8" y="668.1" font-size="13.2" style="fill:#efefef" textLength="128" lengthAdjust="spacingAndGlyphs">ПРОМЫШЛЕННЫЕ</text><text x="906.8" y="691.7" font-size="22" style="fill:#efefef" textLength="127" lengthAdjust="spacingAndGlyphs">РЕДУКТОРЫ</text><path d="M-124.8 754.8 L-124.8 738.4 L-158.6 718.9 L-192.4 738.4 L-192.4 777.4 L-158.6 796.9M-126.4 755.0 L-126.4 739.3 L-158.6 720.7 L-190.8 739.3 L-190.8 776.5 L-158.6 795.1M-127.9 755.1 L-127.9 740.2 L-158.6 722.5 L-189.3 740.2 L-189.3 775.6 L-158.6 793.3M-129.5 755.3 L-129.5 741.1 L-158.6 724.3 L-187.7 741.1 L-187.7 774.7 L-158.6 791.5M-131.1 755.4 L-131.1 742.0 L-158.6 726.1 L-186.1 742.0 L-186.1 773.8 L-158.6 789.7" fill="none" stroke="#f4f4f4" stroke-width="0.8"/><path d="M-133.7 764.1 L-130.2 753.3 L-148.3 733.3 L-174.7 738.9 L-183.0 764.6 L-164.9 784.6M-135.1 763.8 L-131.9 753.7 L-148.8 734.9 L-173.5 740.1 L-181.3 764.2 L-164.4 783.0M-136.6 763.5 L-133.5 754.0 L-149.3 736.5 L-172.4 741.4 L-179.7 763.9 L-163.9 781.4" fill="none" stroke="#f4f4f4" stroke-width="0.7"/><text x="-157.4" y="771.9" font-size="13.2" style="fill:#efefef" textLength="128" lengthAdjust="spacingAndGlyphs">ПРОМЫШЛЕННЫЕ</text><text x="-157.4" y="795.5" font-size="22" style="fill:#efefef" textLength="127" lengthAdjust="spacingAndGlyphs">РЕДУКТОРЫ</text><path d="M191.2 754.8 L191.2 738.4 L157.4 718.9 L123.6 738.4 L123.6 777.4 L157.4 796.9M189.6 755.0 L189.6 739.3 L157.4 720.7 L125.2 739.3 L125.2 776.5 L157.4 795.1M188.1 755.1 L188.1 740.2 L157.4 722.5 L126.7 740.2 L126.7 775.6 L157.4 793.3M186.5 755.3 L186.5 741.1 L157.4 724.3 L128.3 741.1 L128.3 774.7 L157.4 791.5M184.9 755.4 L184.9 742.0 L157.4 726.1 L129.9 742.0 L129.9 773.8 L157.4 789.7" fill="none" stroke="#f4f4f4" stroke-width="0.8"/><path d="M182.3 764.1 L185.8 753.3 L167.7 733.3 L141.3 738.9 L133.0 764.6 L151.1 784.6M180.9 763.8 L184.1 753.7 L167.2 734.9 L142.5 740.1 L134.7 764.2 L151.6 783.0M179.4 763.5 L182.5 754.0 L166.7 736.5 L143.6 741.4 L136.3 763.9 L152.1 781.4" fill="none" stroke="#f4f4f4" stroke-width="0.7"/><text x="158.6" y="771.9" font-size="13.2" style="fill:#efefef" textLength="128" lengthAdjust="spacingAndGlyphs">ПРОМЫШЛЕННЫЕ</text><text x="158.6" y="795.5" font-size="22" style="fill:#efefef" textLength="127" lengthAdjust="spacingAndGlyphs">РЕДУКТОРЫ</text><path d="M507.2 754.8 L507.2 738.4 L473.4 718.9 L439.6 738.4 L439.6 777.4 L473.4 796.9M505.6 755.0 L505.6 739.3 L473.4 720.7 L441.2 739.3 L441.2 776.5 L473.4 795.1M504.1 755.1 L504.1 740.2 L473.4 722.5 L442.7 740.2 L442.7 775.6 L473.4 793.3M502.5 755.3 L502.5 741.1 L473.4 724.3 L444.3 741.1 L444.3 774.7 L473.4 791.5M500.9 755.4 L500.9 742.0 L473.4 726.1 L445.9 742.0 L445.9 773.8 L473.4 789.7" fill="none" stroke="#f4f4f4" stroke-width="0.8"/><path d="M498.3 764.1 L501.8 753.3 L483.7 733.3 L457.3 738.9 L449.0 764.6 L467.1 784.6M496.9 763.8 L500.1 753.7 L483.2 734.9 L458.5 740.1 L450.7 764.2 L467.6 783.0M495.4 763.5 L498.5 754.0 L482.7 736.5 L459.6 741.4 L452.3 763.9 L468.1 781.4" fill="none" stroke="#f4f4f4" stroke-width="0.7"/><text x="474.6" y="771.9" font-size="13.2" style="fill:#efefef" textLength="128" lengthAdjust="spacingAndGlyphs">ПРОМЫШЛЕННЫЕ</text><text x="474.6" y="795.5" font-size="22" style="fill:#efefef" textLength="127" lengthAdjust="spacingAndGlyphs">РЕДУКТОРЫ</text><path d="M823.2 754.8 L823.2 738.4 L789.4 718.9 L755.6 738.4 L755.6 777.4 L789.4 796.9M821.6 755.0 L821.6 739.3 L789.4 720.7 L757.2 739.3 L757.2 776.5 L789.4 795.1M820.1 755.1 L820.1 740.2 L789.4 722.5 L758.7 740.2 L758.7 775.6 L789.4 793.3M818.5 755.3 L818.5 741.1 L789.4 724.3 L760.3 741.1 L760.3 774.7 L789.4 791.5M816.9 755.4 L816.9 742.0 L789.4 726.1 L761.9 742.0 L761.9 773.8 L789.4 789.7" fill="none" stroke="#f4f4f4" stroke-width="0.8"/><path d="M814.3 764.1 L817.8 753.3 L799.7 733.3 L773.3 738.9 L765.0 764.6 L783.1 784.6M812.9 763.8 L816.1 753.7 L799.2 734.9 L774.5 740.1 L766.7 764.2 L783.6 783.0M811.4 763.5 L814.5 754.0 L798.7 736.5 L775.6 741.4 L768.3 763.9 L784.1 781.4" fill="none" stroke="#f4f4f4" stroke-width="0.7"/><text x="790.6" y="771.9" font-size="13.2" style="fill:#efefef" textLength="128" lengthAdjust="spacingAndGlyphs">ПРОМЫШЛЕННЫЕ</text><text x="790.6" y="795.5" font-size="22" style="fill:#efefef" textLength="127" lengthAdjust="spacingAndGlyphs">РЕДУКТОРЫ</text><path d="M75.0 858.7 L75.0 842.3 L41.2 822.8 L7.4 842.3 L7.4 881.3 L41.2 900.8M73.4 858.8 L73.4 843.2 L41.2 824.6 L9.0 843.2 L9.0 880.4 L41.2 899.0M71.9 859.0 L71.9 844.1 L41.2 826.4 L10.5 844.1 L10.5 879.5 L41.2 897.2M70.3 859.1 L70.3 845.0 L41.2 828.2 L12.1 845.0 L12.1 878.6 L41.2 895.4M68.7 859.3 L68.7 845.9 L41.2 830.0 L13.7 845.9 L13.7 877.7 L41.2 893.6" fill="none" stroke="#f4f4f4" stroke-width="0.8"/><path d="M66.1 868.0 L69.6 857.2 L51.5 837.1 L25.1 842.7 L16.8 868.4 L34.9 888.5M64.7 867.6 L67.9 857.5 L51.0 838.7 L26.3 844.0 L18.5 868.1 L35.4 886.9M63.2 867.3 L66.3 857.9 L50.5 840.4 L27.4 845.3 L20.1 867.7 L35.9 885.2" fill="none" stroke="#f4f4f4" stroke-width="0.7"/><text x="42.4" y="875.8" font-size="13.2" style="fill:#efefef" textLength="128" lengthAdjust="spacingAndGlyphs">ПРОМЫШЛЕННЫЕ</text><text x="42.4" y="899.4" font-size="22" style="fill:#efefef" textLength="127" lengthAdjust="spacingAndGlyphs">РЕДУКТОРЫ</text><path d="M391.0 858.7 L391.0 842.3 L357.2 822.8 L323.4 842.3 L323.4 881.3 L357.2 900.8M389.4 858.8 L389.4 843.2 L357.2 824.6 L325.0 843.2 L325.0 880.4 L357.2 899.0M387.9 859.0 L387.9 844.1 L357.2 826.4 L326.5 844.1 L326.5 879.5 L357.2 897.2M386.3 859.1 L386.3 845.0 L357.2 828.2 L328.1 845.0 L328.1 878.6 L357.2 895.4M384.7 859.3 L384.7 845.9 L357.2 830.0 L329.7 845.9 L329.7 877.7 L357.2 893.6" fill="none" stroke="#f4f4f4" stroke-width="0.8"/><path d="M382.1 868.0 L385.6 857.2 L367.5 837.1 L341.1 842.7 L332.8 868.4 L350.9 888.5M380.7 867.6 L383.9 857.5 L367.0 838.7 L342.3 844.0 L334.5 868.1 L351.4 886.9M379.2 867.3 L382.3 857.9 L366.5 840.4 L343.4 845.3 L336.1 867.7 L351.9 885.2" fill="none" stroke="#f4f4f4" stroke-width="0.7"/><text x="358.4" y="875.8" font-size="13.2" style="fill:#efefef" textLength="128" lengthAdjust="spacingAndGlyphs">ПРОМЫШЛЕННЫЕ</text><text x="358.4" y="899.4" font-size="22" style="fill:#efefef" textLength="127" lengthAdjust="spacingAndGlyphs">РЕДУКТОРЫ</text><path d="M707.0 858.7 L707.0 842.3 L673.2 822.8 L639.4 842.3 L639.4 881.3 L673.2 900.8M705.4 858.8 L705.4 843.2 L673.2 824.6 L641.0 843.2 L641.0 880.4 L673.2 899.0M703.9 859.0 L703.9 844.1 L673.2 826.4 L642.5 844.1 L642.5 879.5 L673.2 897.2M702.3 859.1 L702.3 845.0 L673.2 828.2 L644.1 845.0 L644.1 878.6 L673.2 895.4M700.7 859.3 L700.7 845.9 L673.2 830.0 L645.7 845.9 L645.7 877.7 L673.2 893.6" fill="none" stroke="#f4f4f4" stroke-width="0.8"/><path d="M698.1 868.0 L701.6 857.2 L683.5 837.1 L657.1 842.7 L648.8 868.4 L666.9 888.5M696.7 867.6 L699.9 857.5 L683.0 838.7 L658.3 844.0 L650.5 868.1 L667.4 886.9M695.2 867.3 L698.3 857.9 L682.5 840.4 L659.4 845.3 L652.1 867.7 L667.9 885.2" fill="none" stroke="#f4f4f4" stroke-width="0.7"/><text x="674.4" y="875.8" font-size="13.2" style="fill:#efefef" textLength="128" lengthAdjust="spacingAndGlyphs">ПРОМЫШЛЕННЫЕ</text><text x="674.4" y="899.4" font-size="22" style="fill:#efefef" textLength="127" lengthAdjust="spacingAndGlyphs">РЕДУКТОРЫ</text><path d="M1023.0 858.7 L1023.0 842.3 L989.2 822.8 L955.4 842.3 L955.4 881.3 L989.2 900.8M1021.4 858.8 L1021.4 843.2 L989.2 824.6 L957.0 843.2 L957.0 880.4 L989.2 899.0M1019.9 859.0 L1019.9 844.1 L989.2 826.4 L958.5 844.1 L958.5 879.5 L989.2 897.2M1018.3 859.1 L1018.3 845.0 L989.2 828.2 L960.1 845.0 L960.1 878.6 L989.2 895.4M1016.7 859.3 L1016.7 845.9 L989.2 830.0 L961.7 845.9 L961.7 877.7 L989.2 893.6" fill="none" stroke="#f4f4f4" stroke-width="0.8"/><path d="M1014.1 868.0 L1017.6 857.2 L999.5 837.1 L973.1 842.7 L964.8 868.4 L982.9 888.5M1012.7 867.6 L1015.9 857.5 L999.0 838.7 L974.3 844.0 L966.5 868.1 L983.4 886.9M1011.2 867.3 L1014.3 857.9 L998.5 840.4 L975.4 845.3 L968.1 867.7 L983.9 885.2" fill="none" stroke="#f4f4f4" stroke-width="0.7"/><text x="990.4" y="875.8" font-size="13.2" style="fill:#efefef" textLength="128" lengthAdjust="spacingAndGlyphs">ПРОМЫШЛЕННЫЕ</text><text x="990.4" y="899.4" font-size="22" style="fill:#efefef" textLength="127" lengthAdjust="spacingAndGlyphs">РЕДУКТОРЫ</text><path d="M-41.2 962.5 L-41.2 946.1 L-75.0 926.6 L-108.8 946.1 L-108.8 985.1 L-75.0 1004.6M-42.8 962.7 L-42.8 947.0 L-75.0 928.4 L-107.2 947.0 L-107.2 984.2 L-75.0 1002.9M-44.3 962.8 L-44.3 947.9 L-75.0 930.2 L-105.7 947.9 L-105.7 983.4 L-75.0 1001.0M-45.9 963.0 L-45.9 948.9 L-75.0 932.0 L-104.1 948.9 L-104.1 982.4 L-75.0 999.2M-47.5 963.1 L-47.5 949.8 L-75.0 933.9 L-102.5 949.8 L-102.5 981.5 L-75.0 997.4" fill="none" stroke="#f4f4f4" stroke-width="0.8"/><path d="M-50.1 971.8 L-46.6 961.0 L-64.7 941.0 L-91.1 946.6 L-99.4 972.3 L-81.3 992.3M-51.5 971.5 L-48.3 961.4 L-65.2 942.6 L-89.9 947.8 L-97.7 971.9 L-80.8 990.7M-53.0 971.2 L-49.9 961.7 L-65.7 944.2 L-88.8 949.1 L-96.1 971.6 L-80.3 989.1" fill="none" stroke="#f4f4f4" stroke-width="0.7"/><text x="-73.8" y="979.6" font-size="13.2" style="fill:#efefef" textLength="128" lengthAdjust="spacingAndGlyphs">ПРОМЫШЛЕННЫЕ</text><text x="-73.8" y="1003.2" font-size="22" style="fill:#efefef" textLength="127" lengthAdjust="spacingAndGlyphs">РЕДУКТОРЫ</text><path d="M274.8 962.5 L274.8 946.1 L241.0 926.6 L207.2 946.1 L207.2 985.1 L241.0 1004.6M273.2 962.7 L273.2 947.0 L241.0 928.4 L208.8 947.0 L208.8 984.2 L241.0 1002.9M271.7 962.8 L271.7 947.9 L241.0 930.2 L210.3 947.9 L210.3 983.4 L241.0 1001.0M270.1 963.0 L270.1 948.9 L241.0 932.0 L211.9 948.9 L211.9 982.4 L241.0 999.2M268.5 963.1 L268.5 949.8 L241.0 933.9 L213.5 949.8 L213.5 981.5 L241.0 997.4" fill="none" stroke="#f4f4f4" stroke-width="0.8"/><path d="M265.9 971.8 L269.4 961.0 L251.3 941.0 L224.9 946.6 L216.6 972.3 L234.7 992.3M264.5 971.5 L267.7 961.4 L250.8 942.6 L226.1 947.8 L218.3 971.9 L235.2 990.7M263.0 971.2 L266.1 961.7 L250.3 944.2 L227.2 949.1 L219.9 971.6 L235.7 989.1" fill="none" stroke="#f4f4f4" stroke-width="0.7"/><text x="242.2" y="979.6" font-size="13.2" style="fill:#efefef" textLength="128" lengthAdjust="spacingAndGlyphs">ПРОМЫШЛЕННЫЕ</text><text x="242.2" y="1003.2" font-size="22" style="fill:#efefef" textLength="127" lengthAdjust="spacingAndGlyphs">РЕДУКТОРЫ</text><path d="M590.8 962.5 L590.8 946.1 L557.0 926.6 L523.2 946.1 L523.2 985.1 L557.0 1004.6M589.2 962.7 L589.2 947.0 L557.0 928.4 L524.8 947.0 L524.8 984.2 L557.0 1002.9M587.7 962.8 L587.7 947.9 L557.0 930.2 L526.3 947.9 L526.3 983.4 L557.0 1001.0M586.1 963.0 L586.1 948.9 L557.0 932.0 L527.9 948.9 L527.9 982.4 L557.0 999.2M584.5 963.1 L584.5 949.8 L557.0 933.9 L529.5 949.8 L529.5 981.5 L557.0 997.4" fill="none" stroke="#f4f4f4" stroke-width="0.8"/><path d="M581.9 971.8 L585.4 961.0 L567.3 941.0 L540.9 946.6 L532.6 972.3 L550.7 992.3M580.5 971.5 L583.7 961.4 L566.8 942.6 L542.1 947.8 L534.3 971.9 L551.2 990.7M579.0 971.2 L582.1 961.7 L566.3 944.2 L543.2 949.1 L535.9 971.6 L551.7 989.1" fill="none" stroke="#f4f4f4" stroke-width="0.7"/><text x="558.2" y="979.6" font-size="13.2" style="fill:#efefef" textLength="128" lengthAdjust="spacingAndGlyphs">ПРОМЫШЛЕННЫЕ</text><text x="558.2" y="1003.2" font-size="22" style="fill:#efefef" textLength="127" lengthAdjust="spacingAndGlyphs">РЕДУКТОРЫ</text><path d="M906.8 962.5 L906.8 946.1 L873.0 926.6 L839.2 946.1 L839.2 985.1 L873.0 1004.6M905.2 962.7 L905.2 947.0 L873.0 928.4 L840.8 947.0 L840.8 984.2 L873.0 1002.9M903.7 962.8 L903.7 947.9 L873.0 930.2 L842.3 947.9 L842.3 983.4 L873.0 1001.0M902.1 963.0 L902.1 948.9 L873.0 932.0 L843.9 948.9 L843.9 982.4 L873.0 999.2M900.5 963.1 L900.5 949.8 L873.0 933.9 L845.5 949.8 L845.5 981.5 L873.0 997.4" fill="none" stroke="#f4f4f4" stroke-width="0.8"/><path d="M897.9 971.8 L901.4 961.0 L883.3 941.0 L856.9 946.6 L848.6 972.3 L866.7 992.3M896.5 971.5 L899.7 961.4 L882.8 942.6 L858.1 947.8 L850.3 971.9 L867.2 990.7M895.0 971.2 L898.1 961.7 L882.3 944.2 L859.2 949.1 L851.9 971.6 L867.7 989.1" fill="none" stroke="#f4f4f4" stroke-width="0.7"/><text x="874.2" y="979.6" font-size="13.2" style="fill:#efefef" textLength="128" lengthAdjust="spacingAndGlyphs">ПРОМЫШЛЕННЫЕ</text><text x="874.2" y="1003.2" font-size="22" style="fill:#efefef" textLength="127" lengthAdjust="spacingAndGlyphs">РЕДУКТОРЫ</text><path d="M-157.4 1066.4 L-157.4 1050.0 L-191.2 1030.5 L-225.0 1050.0 L-225.0 1089.0 L-191.2 1108.5M-159.0 1066.5 L-159.0 1050.9 L-191.2 1032.3 L-223.4 1050.9 L-223.4 1088.1 L-191.2 1106.7M-160.5 1066.7 L-160.5 1051.8 L-191.2 1034.1 L-221.9 1051.8 L-221.9 1087.2 L-191.2 1104.9M-162.1 1066.8 L-162.1 1052.7 L-191.2 1035.9 L-220.3 1052.7 L-220.3 1086.3 L-191.2 1103.1M-163.7 1067.0 L-163.7 1053.6 L-191.2 1037.7 L-218.7 1053.6 L-218.7 1085.4 L-191.2 1101.3" fill="none" stroke="#f4f4f4" stroke-width="0.8"/><path d="M-166.3 1075.7 L-162.8 1064.9 L-180.9 1044.8 L-207.3 1050.4 L-215.6 1076.1 L-197.5 1096.2M-167.7 1075.3 L-164.5 1065.2 L-181.4 1046.4 L-206.1 1051.7 L-213.9 1075.8 L-197.0 1094.6M-169.2 1075.0 L-166.1 1065.6 L-181.9 1048.1 L-205.0 1053.0 L-212.3 1075.4 L-196.5 1092.9" fill="none" stroke="#f4f4f4" stroke-width="0.7"/><text x="-190.0" y="1083.5" font-size="13.2" style="fill:#efefef" textLength="128" lengthAdjust="spacingAndGlyphs">ПРОМЫШЛЕННЫЕ</text><text x="-190.0" y="1107.1" font-size="22" style="fill:#efefef" textLength="127" lengthAdjust="spacingAndGlyphs">РЕДУКТОРЫ</text><path d="M158.6 1066.4 L158.6 1050.0 L124.8 1030.5 L91.0 1050.0 L91.0 1089.0 L124.8 1108.5M157.0 1066.5 L157.0 1050.9 L124.8 1032.3 L92.6 1050.9 L92.6 1088.1 L124.8 1106.7M155.5 1066.7 L155.5 1051.8 L124.8 1034.1 L94.1 1051.8 L94.1 1087.2 L124.8 1104.9M153.9 1066.8 L153.9 1052.7 L124.8 1035.9 L95.7 1052.7 L95.7 1086.3 L124.8 1103.1M152.3 1067.0 L152.3 1053.6 L124.8 1037.7 L97.3 1053.6 L97.3 1085.4 L124.8 1101.3" fill="none" stroke="#f4f4f4" stroke-width="0.8"/><path d="M149.7 1075.7 L153.2 1064.9 L135.1 1044.8 L108.7 1050.4 L100.4 1076.1 L118.5 1096.2M148.3 1075.3 L151.5 1065.2 L134.6 1046.4 L109.9 1051.7 L102.1 1075.8 L119.0 1094.6M146.8 1075.0 L149.9 1065.6 L134.1 1048.1 L111.0 1053.0 L103.7 1075.4 L119.5 1092.9" fill="none" stroke="#f4f4f4" stroke-width="0.7"/><text x="126.0" y="1083.5" font-size="13.2" style="fill:#efefef" textLength="128" lengthAdjust="spacingAndGlyphs">ПРОМЫШЛЕННЫЕ</text><text x="126.0" y="1107.1" font-size="22" style="fill:#efefef" textLength="127" lengthAdjust="spacingAndGlyphs">РЕДУКТОРЫ</text><path d="M474.6 1066.4 L474.6 1050.0 L440.8 1030.5 L407.0 1050.0 L407.0 1089.0 L440.8 1108.5M473.0 1066.5 L473.0 1050.9 L440.8 1032.3 L408.6 1050.9 L408.6 1088.1 L440.8 1106.7M471.5 1066.7 L471.5 1051.8 L440.8 1034.1 L410.1 1051.8 L410.1 1087.2 L440.8 1104.9M469.9 1066.8 L469.9 1052.7 L440.8 1035.9 L411.7 1052.7 L411.7 1086.3 L440.8 1103.1M468.3 1067.0 L468.3 1053.6 L440.8 1037.7 L413.3 1053.6 L413.3 1085.4 L440.8 1101.3" fill="none" stroke="#f4f4f4" stroke-width="0.8"/><path d="M465.7 1075.7 L469.2 1064.9 L451.1 1044.8 L424.7 1050.4 L416.4 1076.1 L434.5 1096.2M464.3 1075.3 L467.5 1065.2 L450.6 1046.4 L425.9 1051.7 L418.1 1075.8 L435.0 1094.6M462.8 1075.0 L465.9 1065.6 L450.1 1048.1 L427.0 1053.0 L419.7 1075.4 L435.5 1092.9" fill="none" stroke="#f4f4f4" stroke-width="0.7"/><text x="442.0" y="1083.5" font-size="13.2" style="fill:#efefef" textLength="128" lengthAdjust="spacingAndGlyphs">ПРОМЫШЛЕННЫЕ</text><text x="442.0" y="1107.1" font-size="22" style="fill:#efefef" textLength="127" lengthAdjust="spacingAndGlyphs">РЕДУКТОРЫ</text><path d="M790.6 1066.4 L790.6 1050.0 L756.8 1030.5 L723.0 1050.0 L723.0 1089.0 L756.8 1108.5M789.0 1066.5 L789.0 1050.9 L756.8 1032.3 L724.6 1050.9 L724.6 1088.1 L756.8 1106.7M787.5 1066.7 L787.5 1051.8 L756.8 1034.1 L726.1 1051.8 L726.1 1087.2 L756.8 1104.9M785.9 1066.8 L785.9 1052.7 L756.8 1035.9 L727.7 1052.7 L727.7 1086.3 L756.8 1103.1M784.3 1067.0 L784.3 1053.6 L756.8 1037.7 L729.3 1053.6 L729.3 1085.4 L756.8 1101.3" fill="none" stroke="#f4f4f4" stroke-width="0.8"/><path d="M781.7 1075.7 L785.2 1064.9 L767.1 1044.8 L740.7 1050.4 L732.4 1076.1 L750.5 1096.2M780.3 1075.3 L783.5 1065.2 L766.6 1046.4 L741.9 1051.7 L734.1 1075.8 L751.0 1094.6M778.8 1075.0 L781.9 1065.6 L766.1 1048.1 L743.0 1053.0 L735.7 1075.4 L751.5 1092.9" fill="none" stroke="#f4f4f4" stroke-width="0.7"/><text x="758.0" y="1083.5" font-size="13.2" style="fill:#efefef" textLength="128" lengthAdjust="spacingAndGlyphs">ПРОМЫШЛЕННЫЕ</text><text x="758.0" y="1107.1" font-size="22" style="fill:#efefef" textLength="127" lengthAdjust="spacingAndGlyphs">РЕДУКТОРЫ</text><path d="M42.4 1170.2 L42.4 1153.8 L8.6 1134.3 L-25.2 1153.8 L-25.2 1192.8 L8.6 1212.3M40.8 1170.4 L40.8 1154.8 L8.6 1136.1 L-23.6 1154.8 L-23.6 1191.9 L8.6 1210.5M39.3 1170.5 L39.3 1155.6 L8.6 1137.9 L-22.1 1155.6 L-22.1 1191.0 L8.6 1208.8M37.7 1170.7 L37.7 1156.5 L8.6 1139.8 L-20.5 1156.5 L-20.5 1190.1 L8.6 1206.9M36.1 1170.8 L36.1 1157.4 L8.6 1141.5 L-18.9 1157.4 L-18.9 1189.2 L8.6 1205.1" fill="none" stroke="#f4f4f4" stroke-width="0.8"/><path d="M33.5 1179.5 L37.0 1168.7 L18.9 1148.7 L-7.5 1154.3 L-15.8 1180.0 L2.3 1200.0M32.1 1179.2 L35.3 1169.1 L18.4 1150.3 L-6.3 1155.5 L-14.1 1179.6 L2.8 1198.4M30.6 1178.9 L33.7 1169.4 L17.9 1151.9 L-5.2 1156.8 L-12.5 1179.3 L3.3 1196.8" fill="none" stroke="#f4f4f4" stroke-width="0.7"/><text x="9.8" y="1187.3" font-size="13.2" style="fill:#efefef" textLength="128" lengthAdjust="spacingAndGlyphs">ПРОМЫШЛЕННЫЕ</text><text x="9.8" y="1210.9" font-size="22" style="fill:#efefef" textLength="127" lengthAdjust="spacingAndGlyphs">РЕДУКТОРЫ</text><path d="M358.4 1170.2 L358.4 1153.8 L324.6 1134.3 L290.8 1153.8 L290.8 1192.8 L324.6 1212.3M356.8 1170.4 L356.8 1154.8 L324.6 1136.1 L292.4 1154.8 L292.4 1191.9 L324.6 1210.5M355.3 1170.5 L355.3 1155.6 L324.6 1137.9 L293.9 1155.6 L293.9 1191.0 L324.6 1208.8M353.7 1170.7 L353.7 1156.5 L324.6 1139.8 L295.5 1156.5 L295.5 1190.1 L324.6 1206.9M352.1 1170.8 L352.1 1157.4 L324.6 1141.5 L297.1 1157.4 L297.1 1189.2 L324.6 1205.1" fill="none" stroke="#f4f4f4" stroke-width="0.8"/><path d="M349.5 1179.5 L353.0 1168.7 L334.9 1148.7 L308.5 1154.3 L300.2 1180.0 L318.3 1200.0M348.1 1179.2 L351.3 1169.1 L334.4 1150.3 L309.7 1155.5 L301.9 1179.6 L318.8 1198.4M346.6 1178.9 L349.7 1169.4 L333.9 1151.9 L310.8 1156.8 L303.5 1179.3 L319.3 1196.8" fill="none" stroke="#f4f4f4" stroke-width="0.7"/><text x="325.8" y="1187.3" font-size="13.2" style="fill:#efefef" textLength="128" lengthAdjust="spacingAndGlyphs">ПРОМЫШЛЕННЫЕ</text><text x="325.8" y="1210.9" font-size="22" style="fill:#efefef" textLength="127" lengthAdjust="spacingAndGlyphs">РЕДУКТОРЫ</text><path d="M674.4 1170.2 L674.4 1153.8 L640.6 1134.3 L606.8 1153.8 L606.8 1192.8 L640.6 1212.3M672.8 1170.4 L672.8 1154.8 L640.6 1136.1 L608.4 1154.8 L608.4 1191.9 L640.6 1210.5M671.3 1170.5 L671.3 1155.6 L640.6 1137.9 L609.9 1155.6 L609.9 1191.0 L640.6 1208.8M669.7 1170.7 L669.7 1156.5 L640.6 1139.8 L611.5 1156.5 L611.5 1190.1 L640.6 1206.9M668.1 1170.8 L668.1 1157.4 L640.6 1141.5 L613.1 1157.4 L613.1 1189.2 L640.6 1205.1" fill="none" stroke="#f4f4f4" stroke-width="0.8"/><path d="M665.5 1179.5 L669.0 1168.7 L650.9 1148.7 L624.5 1154.3 L616.2 1180.0 L634.3 1200.0M664.1 1179.2 L667.3 1169.1 L650.4 1150.3 L625.7 1155.5 L617.9 1179.6 L634.8 1198.4M662.6 1178.9 L665.7 1169.4 L649.9 1151.9 L626.8 1156.8 L619.5 1179.3 L635.3 1196.8" fill="none" stroke="#f4f4f4" stroke-width="0.7"/><text x="641.8" y="1187.3" font-size="13.2" style="fill:#efefef" textLength="128" lengthAdjust="spacingAndGlyphs">ПРОМЫШЛЕННЫЕ</text><text x="641.8" y="1210.9" font-size="22" style="fill:#efefef" textLength="127" lengthAdjust="spacingAndGlyphs">РЕДУКТОРЫ</text><path d="M990.4 1170.2 L990.4 1153.8 L956.6 1134.3 L922.8 1153.8 L922.8 1192.8 L956.6 1212.3M988.8 1170.4 L988.8 1154.8 L956.6 1136.1 L924.4 1154.8 L924.4 1191.9 L956.6 1210.5M987.3 1170.5 L987.3 1155.6 L956.6 1137.9 L925.9 1155.6 L925.9 1191.0 L956.6 1208.8M985.7 1170.7 L985.7 1156.5 L956.6 1139.8 L927.5 1156.5 L927.5 1190.1 L956.6 1206.9M984.1 1170.8 L984.1 1157.4 L956.6 1141.5 L929.1 1157.4 L929.1 1189.2 L956.6 1205.1" fill="none" stroke="#f4f4f4" stroke-width="0.8"/><path d="M981.5 1179.5 L985.0 1168.7 L966.9 1148.7 L940.5 1154.3 L932.2 1180.0 L950.3 1200.0M980.1 1179.2 L983.3 1169.1 L966.4 1150.3 L941.7 1155.5 L933.9 1179.6 L950.8 1198.4M978.6 1178.9 L981.7 1169.4 L965.9 1151.9 L942.8 1156.8 L935.5 1179.3 L951.3 1196.8" fill="none" stroke="#f4f4f4" stroke-width="0.7"/><text x="957.8" y="1187.3" font-size="13.2" style="fill:#efefef" textLength="128" lengthAdjust="spacingAndGlyphs">ПРОМЫШЛЕННЫЕ</text><text x="957.8" y="1210.9" font-size="22" style="fill:#efefef" textLength="127" lengthAdjust="spacingAndGlyphs">РЕДУКТОРЫ</text><path d="M-73.8 1274.1 L-73.8 1257.7 L-107.6 1238.2 L-141.4 1257.7 L-141.4 1296.7 L-107.6 1316.2M-75.4 1274.2 L-75.4 1258.6 L-107.6 1240.0 L-139.8 1258.6 L-139.8 1295.8 L-107.6 1314.4M-76.9 1274.4 L-76.9 1259.5 L-107.6 1241.8 L-138.3 1259.5 L-138.3 1294.9 L-107.6 1312.6M-78.5 1274.5 L-78.5 1260.4 L-107.6 1243.6 L-136.7 1260.4 L-136.7 1294.0 L-107.6 1310.8M-80.1 1274.7 L-80.1 1261.3 L-107.6 1245.4 L-135.1 1261.3 L-135.1 1293.1 L-107.6 1309.0" fill="none" stroke="#f4f4f4" stroke-width="0.8"/><path d="M-82.7 1283.4 L-79.2 1272.6 L-97.3 1252.5 L-123.7 1258.1 L-132.0 1283.8 L-113.9 1303.9M-84.1 1283.0 L-80.9 1272.9 L-97.8 1254.1 L-122.5 1259.4 L-130.3 1283.5 L-113.4 1302.3M-85.6 1282.7 L-82.5 1273.3 L-98.3 1255.8 L-121.4 1260.7 L-128.7 1283.1 L-112.9 1300.6" fill="none" stroke="#f4f4f4" stroke-width="0.7"/><text x="-106.4" y="1291.2" font-size="13.2" style="fill:#efefef" textLength="128" lengthAdjust="spacingAndGlyphs">ПРОМЫШЛЕННЫЕ</text><text x="-106.4" y="1314.8" font-size="22" style="fill:#efefef" textLength="127" lengthAdjust="spacingAndGlyphs">РЕДУКТОРЫ</text><path d="M242.2 1274.1 L242.2 1257.7 L208.4 1238.2 L174.6 1257.7 L174.6 1296.7 L208.4 1316.2M240.6 1274.2 L240.6 1258.6 L208.4 1240.0 L176.2 1258.6 L176.2 1295.8 L208.4 1314.4M239.1 1274.4 L239.1 1259.5 L208.4 1241.8 L177.7 1259.5 L177.7 1294.9 L208.4 1312.6M237.5 1274.5 L237.5 1260.4 L208.4 1243.6 L179.3 1260.4 L179.3 1294.0 L208.4 1310.8M235.9 1274.7 L235.9 1261.3 L208.4 1245.4 L180.9 1261.3 L180.9 1293.1 L208.4 1309.0" fill="none" stroke="#f4f4f4" stroke-width="0.8"/><path d="M233.3 1283.4 L236.8 1272.6 L218.7 1252.5 L192.3 1258.1 L184.0 1283.8 L202.1 1303.9M231.9 1283.0 L235.1 1272.9 L218.2 1254.1 L193.5 1259.4 L185.7 1283.5 L202.6 1302.3M230.4 1282.7 L233.5 1273.3 L217.7 1255.8 L194.6 1260.7 L187.3 1283.1 L203.1 1300.6" fill="none" stroke="#f4f4f4" stroke-width="0.7"/><text x="209.6" y="1291.2" font-size="13.2" style="fill:#efefef" textLength="128" lengthAdjust="spacingAndGlyphs">ПРОМЫШЛЕННЫЕ</text><text x="209.6" y="1314.8" font-size="22" style="fill:#efefef" textLength="127" lengthAdjust="spacingAndGlyphs">РЕДУКТОРЫ</text><path d="M558.2 1274.1 L558.2 1257.7 L524.4 1238.2 L490.6 1257.7 L490.6 1296.7 L524.4 1316.2M556.6 1274.2 L556.6 1258.6 L524.4 1240.0 L492.2 1258.6 L492.2 1295.8 L524.4 1314.4M555.1 1274.4 L555.1 1259.5 L524.4 1241.8 L493.7 1259.5 L493.7 1294.9 L524.4 1312.6M553.5 1274.5 L553.5 1260.4 L524.4 1243.6 L495.3 1260.4 L495.3 1294.0 L524.4 1310.8M551.9 1274.7 L551.9 1261.3 L524.4 1245.4 L496.9 1261.3 L496.9 1293.1 L524.4 1309.0" fill="none" stroke="#f4f4f4" stroke-width="0.8"/><path d="M549.3 1283.4 L552.8 1272.6 L534.7 1252.5 L508.3 1258.1 L500.0 1283.8 L518.1 1303.9M547.9 1283.0 L551.1 1272.9 L534.2 1254.1 L509.5 1259.4 L501.7 1283.5 L518.6 1302.3M546.4 1282.7 L549.5 1273.3 L533.7 1255.8 L510.6 1260.7 L503.3 1283.1 L519.1 1300.6" fill="none" stroke="#f4f4f4" stroke-width="0.7"/><text x="525.6" y="1291.2" font-size="13.2" style="fill:#efefef" textLength="128" lengthAdjust="spacingAndGlyphs">ПРОМЫШЛЕННЫЕ</text><text x="525.6" y="1314.8" font-size="22" style="fill:#efefef" textLength="127" lengthAdjust="spacingAndGlyphs">РЕДУКТОРЫ</text><path d="M874.2 1274.1 L874.2 1257.7 L840.4 1238.2 L806.6 1257.7 L806.6 1296.7 L840.4 1316.2M872.6 1274.2 L872.6 1258.6 L840.4 1240.0 L808.2 1258.6 L808.2 1295.8 L840.4 1314.4M871.1 1274.4 L871.1 1259.5 L840.4 1241.8 L809.7 1259.5 L809.7 1294.9 L840.4 1312.6M869.5 1274.5 L869.5 1260.4 L840.4 1243.6 L811.3 1260.4 L811.3 1294.0 L840.4 1310.8M867.9 1274.7 L867.9 1261.3 L840.4 1245.4 L812.9 1261.3 L812.9 1293.1 L840.4 1309.0" fill="none" stroke="#f4f4f4" stroke-width="0.8"/><path d="M865.3 1283.4 L868.8 1272.6 L850.7 1252.5 L824.3 1258.1 L816.0 1283.8 L834.1 1303.9M863.9 1283.0 L867.1 1272.9 L850.2 1254.1 L825.5 1259.4 L817.7 1283.5 L834.6 1302.3M862.4 1282.7 L865.5 1273.3 L849.7 1255.8 L826.6 1260.7 L819.3 1283.1 L835.1 1300.6" fill="none" stroke="#f4f4f4" stroke-width="0.7"/><text x="841.6" y="1291.2" font-size="13.2" style="fill:#efefef" textLength="128" lengthAdjust="spacingAndGlyphs">ПРОМЫШЛЕННЫЕ</text><text x="841.6" y="1314.8" font-size="22" style="fill:#efefef" textLength="127" lengthAdjust="spacingAndGlyphs">РЕДУКТОРЫ</text><path d="M126.0 1377.9 L126.0 1361.5 L92.2 1342.0 L58.4 1361.5 L58.4 1400.5 L92.2 1420.0M124.4 1378.1 L124.4 1362.5 L92.2 1343.8 L60.0 1362.5 L60.0 1399.6 L92.2 1418.2M122.9 1378.2 L122.9 1363.3 L92.2 1345.6 L61.5 1363.3 L61.5 1398.8 L92.2 1416.5M121.3 1378.4 L121.3 1364.2 L92.2 1347.5 L63.1 1364.2 L63.1 1397.8 L92.2 1414.6M119.7 1378.5 L119.7 1365.1 L92.2 1349.2 L64.7 1365.1 L64.7 1397.0 L92.2 1412.8" fill="none" stroke="#f4f4f4" stroke-width="0.8"/><path d="M117.1 1387.2 L120.6 1376.4 L102.5 1356.4 L76.1 1362.0 L67.8 1387.7 L85.9 1407.7M115.7 1386.9 L118.9 1376.8 L102.0 1358.0 L77.3 1363.2 L69.5 1387.3 L86.4 1406.1M114.2 1386.6 L117.3 1377.1 L101.5 1359.6 L78.4 1364.5 L71.1 1387.0 L86.9 1404.5" fill="none" stroke="#f4f4f4" stroke-width="0.7"/><text x="93.4" y="1395.0" font-size="13.2" style="fill:#efefef" textLength="128" lengthAdjust="spacingAndGlyphs">ПРОМЫШЛЕННЫЕ</text><text x="93.4" y="1418.6" font-size="22" style="fill:#efefef" textLength="127" lengthAdjust="spacingAndGlyphs">РЕДУКТОРЫ</text><path d="M442.0 1377.9 L442.0 1361.5 L408.2 1342.0 L374.4 1361.5 L374.4 1400.5 L408.2 1420.0M440.4 1378.1 L440.4 1362.5 L408.2 1343.8 L376.0 1362.5 L376.0 1399.6 L408.2 1418.2M438.9 1378.2 L438.9 1363.3 L408.2 1345.6 L377.5 1363.3 L377.5 1398.8 L408.2 1416.5M437.3 1378.4 L437.3 1364.2 L408.2 1347.5 L379.1 1364.2 L379.1 1397.8 L408.2 1414.6M435.7 1378.5 L435.7 1365.1 L408.2 1349.2 L380.7 1365.1 L380.7 1397.0 L408.2 1412.8" fill="none" stroke="#f4f4f4" stroke-width="0.8"/><path d="M433.1 1387.2 L436.6 1376.4 L418.5 1356.4 L392.1 1362.0 L383.8 1387.7 L401.9 1407.7M431.7 1386.9 L434.9 1376.8 L418.0 1358.0 L393.3 1363.2 L385.5 1387.3 L402.4 1406.1M430.2 1386.6 L433.3 1377.1 L417.5 1359.6 L394.4 1364.5 L387.1 1387.0 L402.9 1404.5" fill="none" stroke="#f4f4f4" stroke-width="0.7"/><text x="409.4" y="1395.0" font-size="13.2" style="fill:#efefef" textLength="128" lengthAdjust="spacingAndGlyphs">ПРОМЫШЛЕННЫЕ</text><text x="409.4" y="1418.6" font-size="22" style="fill:#efefef" textLength="127" lengthAdjust="spacingAndGlyphs">РЕДУКТОРЫ</text><path d="M758.0 1377.9 L758.0 1361.5 L724.2 1342.0 L690.4 1361.5 L690.4 1400.5 L724.2 1420.0M756.4 1378.1 L756.4 1362.5 L724.2 1343.8 L692.0 1362.5 L692.0 1399.6 L724.2 1418.2M754.9 1378.2 L754.9 1363.3 L724.2 1345.6 L693.5 1363.3 L693.5 1398.8 L724.2 1416.5M753.3 1378.4 L753.3 1364.2 L724.2 1347.5 L695.1 1364.2 L695.1 1397.8 L724.2 1414.6M751.7 1378.5 L751.7 1365.1 L724.2 1349.2 L696.7 1365.1 L696.7 1397.0 L724.2 1412.8" fill="none" stroke="#f4f4f4" stroke-width="0.8"/><path d="M749.1 1387.2 L752.6 1376.4 L734.5 1356.4 L708.1 1362.0 L699.8 1387.7 L717.9 1407.7M747.7 1386.9 L750.9 1376.8 L734.0 1358.0 L709.3 1363.2 L701.5 1387.3 L718.4 1406.1M746.2 1386.6 L749.3 1377.1 L733.5 1359.6 L710.4 1364.5 L703.1 1387.0 L718.9 1404.5" fill="none" stroke="#f4f4f4" stroke-width="0.7"/><text x="725.4" y="1395.0" font-size="13.2" style="fill:#efefef" textLength="128" lengthAdjust="spacingAndGlyphs">ПРОМЫШЛЕННЫЕ</text><text x="725.4" y="1418.6" font-size="22" style="fill:#efefef" textLength="127" lengthAdjust="spacingAndGlyphs">РЕДУКТОРЫ</text></g>
<text x="184.0" y="588.5" class="tc b">63/B5</text>
<text x="241.0" y="582" class="tc b">71/B5</text>
<text x="241.0" y="596" class="tc b">71/B14</text>
<text x="298.0" y="582" class="tc b">80/B5</text>
<text x="298.0" y="596" class="tc b">80/B14</text>
<text x="355.25" y="582" class="tc b">90S/B5</text>
<text x="355.25" y="596" class="tc b">90S/B14</text>
<text x="412.5" y="582" class="tc b">90L/B5</text>
<text x="412.5" y="596" class="tc b">90L/B14</text>
<text x="469.5" y="582" class="tc b">100L/B5</text>
<text x="469.5" y="596" class="tc b">100L/B14</text>
<text x="526.5" y="582" class="tc b">112M/B5</text>
<text x="526.5" y="596" class="tc b">112M/B14</text>
<text x="126.75" y="619.95" class="tc b">k</text>
<text x="184.0" y="619.95" class="tc">498.5</text>
<text x="241.0" y="619.95" class="tc">487.5</text>
<text x="298.0" y="619.95" class="tc">539.5</text>
<text x="355.25" y="619.95" class="tc">580.5</text>
<text x="412.5" y="619.95" class="tc">580.5</text>
<text x="469.5" y="619.95" class="tc">609</text>
<text x="526.5" y="619.95" class="tc">629.5</text>
<text x="126.75" y="644.95" class="tc b">k1</text>
<text x="184.0" y="644.95" class="tc">559.5</text>
<text x="241.0" y="644.95" class="tc">578.5</text>
<text x="298.0" y="644.95" class="tc">632.5</text>
<text x="355.25" y="644.95" class="tc">684</text>
<text x="412.5" y="644.95" class="tc">684</text>
<text x="469.5" y="644.95" class="tc">717.5</text>
<text x="526.5" y="644.95" class="tc">734</text>
<text x="126.75" y="668.45" class="tc b">n / n1</text>
<text x="184.0" y="668.45" class="tc">121 / 97</text>
<text x="241.0" y="668.45" class="tc">137 / 112</text>
<text x="298.0" y="668.45" class="tc">155 / 121</text>
<text x="355.25" y="668.45" class="tc">176 / 132</text>
<text x="412.5" y="668.45" class="tc">176 / 132</text>
<text x="469.5" y="668.45" class="tc">193 / 147</text>
<text x="526.5" y="668.45" class="tc">215 /158</text>
<text x="126.75" y="692.2" class="tc b">m1 (B5)</text>
<text x="184.0" y="692.2" class="tc">140</text>
<text x="241.0" y="692.2" class="tc">160</text>
<text x="298.0" y="692.2" class="tc">200</text>
<text x="355.25" y="692.2" class="tc">200</text>
<text x="412.5" y="692.2" class="tc">200</text>
<text x="469.5" y="692.2" class="tc">250</text>
<text x="526.5" y="692.2" class="tc">250</text>
<text x="126.75" y="716.2" class="tc b">m1 (B14)</text>
<text x="184.0" y="716.2" class="tc">-</text>
<text x="241.0" y="716.2" class="tc">105</text>
<text x="298.0" y="716.2" class="tc">120</text>
<text x="355.25" y="716.2" class="tc">140</text>
<text x="412.5" y="716.2" class="tc">140</text>
<text x="469.5" y="716.2" class="tc">160</text>
<text x="526.5" y="716.2" class="tc">160</text>
<text x="126.75" y="739.95" class="tc b">x</text>
<text x="184.0" y="739.95" class="tc">-</text>
<text x="241.0" y="739.95" class="tc">-</text>
<text x="298.0" y="739.95" class="tc">-</text>
<text x="355.25" y="739.95" class="tc">-</text>
<text x="412.5" y="739.95" class="tc">-</text>
<text x="469.5" y="739.95" class="tc">0,5</text>
<text x="526.5" y="739.95" class="tc">0,5</text>
<text x="184.0" y="1163.5" class="tc b">63/B5</text>
<text x="241.0" y="1157" class="tc b">71/B5</text>
<text x="241.0" y="1171" class="tc b">71/B14</text>
<text x="298.0" y="1157" class="tc b">80/B5</text>
<text x="298.0" y="1171" class="tc b">80/B14</text>
<text x="355.25" y="1157" class="tc b">90S/B5</text>
<text x="355.25" y="1171" class="tc b">90S/B14</text>
<text x="412.5" y="1157" class="tc b">90L/B5</text>
<text x="412.5" y="1171" class="tc b">90L/B14</text>
<text x="469.5" y="1157" class="tc b">100L/B5</text>
<text x="469.5" y="1171" class="tc b">100L/B14</text>
<text x="526.5" y="1157" class="tc b">112M/B5</text>
<text x="526.5" y="1171" class="tc b">112M/B14</text>
<text x="126.75" y="1194.95" class="tc b">k</text>
<text x="184.0" y="1194.95" class="tc">498.5</text>
<text x="241.0" y="1194.95" class="tc">487.5</text>
<text x="298.0" y="1194.95" class="tc">539.5</text>
<text x="355.25" y="1194.95" class="tc">580.5</text>
<text x="412.5" y="1194.95" class="tc">580.5</text>
<text x="469.5" y="1194.95" class="tc">609</text>
<text x="526.5" y="1194.95" class="tc">629.5</text>
<text x="126.75" y="1219.95" class="tc b">k1</text>
<text x="184.0" y="1219.95" class="tc">559.5</text>
<text x="241.0" y="1219.95" class="tc">578.5</text>
<text x="298.0" y="1219.95" class="tc">632.5</text>
<text x="355.25" y="1219.95" class="tc">684</text>
<text x="412.5" y="1219.95" class="tc">684</text>
<text x="469.5" y="1219.95" class="tc">717.5</text>
<text x="526.5" y="1219.95" class="tc">734</text>
<text x="126.75" y="1243.45" class="tc b">n / n1</text>
<text x="184.0" y="1243.45" class="tc">121 / 97</text>
<text x="241.0" y="1243.45" class="tc">137 / 112</text>
<text x="298.0" y="1243.45" class="tc">155 / 121</text>
<text x="355.25" y="1243.45" class="tc">176 / 132</text>
<text x="412.5" y="1243.45" class="tc">176 / 132</text>
<text x="469.5" y="1243.45" class="tc">193 / 147</text>
<text x="526.5" y="1243.45" class="tc">215 /158</text>
<text x="126.75" y="1267.2" class="tc b">m1 (B5)</text>
<text x="184.0" y="1267.2" class="tc">140</text>
<text x="241.0" y="1267.2" class="tc">160</text>
<text x="298.0" y="1267.2" class="tc">200</text>
<text x="355.25" y="1267.2" class="tc">200</text>
<text x="412.5" y="1267.2" class="tc">200</text>
<text x="469.5" y="1267.2" class="tc">250</text>
<text x="526.5" y="1267.2" class="tc">250</text>
<text x="126.75" y="1291.2" class="tc b">m1 (B14)</text>
<text x="184.0" y="1291.2" class="tc">-</text>
<text x="241.0" y="1291.2" class="tc">105</text>
<text x="298.0" y="1291.2" class="tc">120</text>
<text x="355.25" y="1291.2" class="tc">140</text>
<text x="412.5" y="1291.2" class="tc">140</text>
<text x="469.5" y="1291.2" class="tc">160</text>
<text x="526.5" y="1291.2" class="tc">160</text>
<text x="126.75" y="1314.95" class="tc b">x</text>
<text x="184.0" y="1314.95" class="tc">-</text>
<text x="241.0" y="1314.95" class="tc">-</text>
<text x="298.0" y="1314.95" class="tc">-</text>
<text x="355.25" y="1314.95" class="tc">-</text>
<text x="412.5" y="1314.95" class="tc">-</text>
<text x="469.5" y="1314.95" class="tc">0,5</text>
<text x="526.5" y="1314.95" class="tc">0,5</text>
<text x="72.5" y="187.8" class="b" font-size="16.3">KV202.02</text><text x="72.5" y="207.4" class="b" font-size="16.3">KV203.02</text>
<text x="72.5" y="797" class="b" font-size="16.3">KV202.03</text><text x="72.5" y="816.6" class="b" font-size="16.3">KV203.03</text>
<text x="667" y="464.8" class="b" font-size="11.7">x: Motor Ayak bağlantı yüzeyinin altında ise</text>
<text x="667" y="478.8" class="i" font-size="11.7">x: If Motor is lower than foot mounting plane</text>
<text x="667" y="492.8" font-size="11.7">x: Wenn der Motor unter der Fußmontageebene ist</text>
<text x="667" y="1092.8" class="b" font-size="11.7">x: Motor Ayak bağlantı yüzeyinin altında ise</text>
<text x="667" y="1106.8" class="i" font-size="11.7">x: If Motor is lower than foot mounting plane</text>
<text x="667" y="1120.8" font-size="11.7">x: Wenn der Motor unter der Fußmontageebene ist</text>
<text x="792.5" y="533.6" class="b" font-size="11.7" text-anchor="middle">Klemens Pozisyonları</text>
<text x="792.5" y="547.3" class="i" font-size="11.7" text-anchor="middle">Terminal Box Positions</text>
<text x="792.5" y="561" font-size="11.7" text-anchor="middle">Klemmenkasten Positionen</text>
<text x="790.2" y="584.1" class="b" font-size="12.4" text-anchor="middle">Poz.1</text>
<text x="717.2" y="647.7" class="b" font-size="12.4" text-anchor="middle">Poz.4</text>
<text x="860.4" y="647.7" class="b" font-size="12.4" text-anchor="middle">Poz.2</text>
<text x="790.2" y="714.3" class="b" font-size="12.4" text-anchor="middle">Poz.3</text>
<text x="792" y="734.5" class="b" font-size="11.65" text-anchor="middle">63-71-80-90-100-112</text>
<text x="792" y="750" font-size="11.7" text-anchor="middle"><tspan class="b">Tip</tspan> / <tspan class="i">Type</tspan> / Typ</text>

<text x="715.5" y="1303.5" class="b" font-size="20">*</text>
<text x="727" y="1302" class="b" font-size="11.7">“ k1 “ Ölçüsü frenli redüktörlere aittir.</text>
<text x="716" y="1314.8" class="i" font-size="11.7">Dimension “ k1” is for motors with brake.</text>
<text x="716" y="1329.2" font-size="11.7">Maße “ k1 ” ist für Bremsenmotoren.</text>

<text x="72.2" y="1359.8" class="i" font-size="15">www.yr.com.tr</text>
<line x1="171" y1="1358.6" x2="470" y2="1358.6" stroke="#8a1e7b" stroke-width="2"/>
<line x1="528" y1="1358.6" x2="928" y2="1358.6" stroke="#8a1e7b" stroke-width="2"/>
<text x="930" y="1362.8" font-size="16.3">307</text>

</svg>
</body></html>
